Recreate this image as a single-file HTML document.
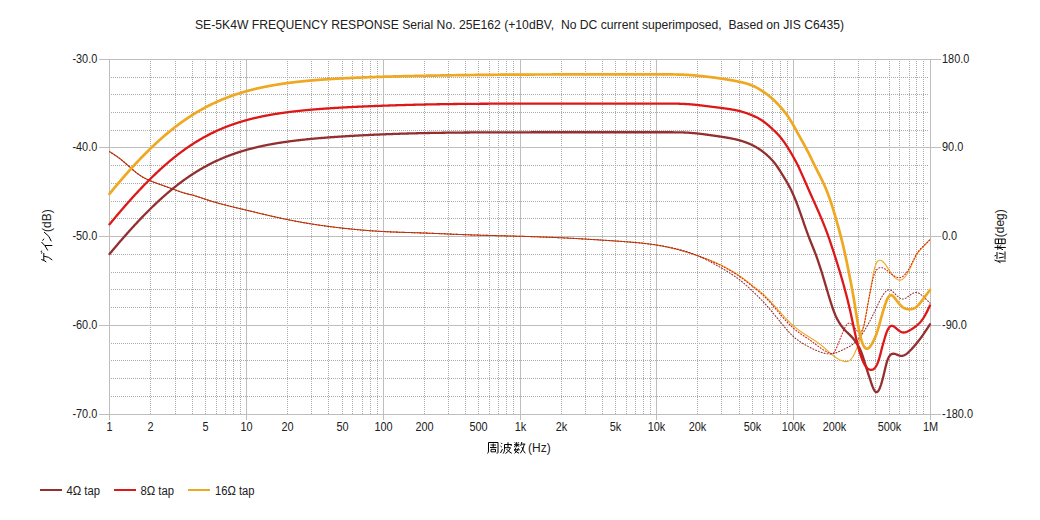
<!DOCTYPE html><html><head><meta charset="utf-8"><style>
html,body{margin:0;padding:0;background:#fff;width:1040px;height:520px;overflow:hidden}
svg{display:block}
text{font-family:"Liberation Sans",sans-serif;font-size:12px;fill:#202020}
</style></head><body>
<svg width="1040" height="520" viewBox="0 0 1040 520">
<rect width="1040" height="520" fill="#fff"/>
<g shape-rendering="crispEdges" stroke-width="1"><line x1="150.5" y1="61" x2="150.5" y2="414" stroke="#ababab" stroke-dasharray="1,1"/><line x1="175.5" y1="61" x2="175.5" y2="414" stroke="#ababab" stroke-dasharray="1,1"/><line x1="192.5" y1="61" x2="192.5" y2="414" stroke="#ababab" stroke-dasharray="1,1"/><line x1="205.5" y1="61" x2="205.5" y2="414" stroke="#ababab" stroke-dasharray="1,1"/><line x1="216.5" y1="61" x2="216.5" y2="414" stroke="#ababab" stroke-dasharray="1,1"/><line x1="225.5" y1="61" x2="225.5" y2="414" stroke="#ababab" stroke-dasharray="1,1"/><line x1="233.5" y1="61" x2="233.5" y2="414" stroke="#ababab" stroke-dasharray="1,1"/><line x1="240.5" y1="61" x2="240.5" y2="414" stroke="#ababab" stroke-dasharray="1,1"/><line x1="287.5" y1="61" x2="287.5" y2="414" stroke="#ababab" stroke-dasharray="1,1"/><line x1="311.5" y1="61" x2="311.5" y2="414" stroke="#ababab" stroke-dasharray="1,1"/><line x1="328.5" y1="61" x2="328.5" y2="414" stroke="#ababab" stroke-dasharray="1,1"/><line x1="342.5" y1="61" x2="342.5" y2="414" stroke="#ababab" stroke-dasharray="1,1"/><line x1="352.5" y1="61" x2="352.5" y2="414" stroke="#ababab" stroke-dasharray="1,1"/><line x1="362.5" y1="61" x2="362.5" y2="414" stroke="#ababab" stroke-dasharray="1,1"/><line x1="370.5" y1="61" x2="370.5" y2="414" stroke="#ababab" stroke-dasharray="1,1"/><line x1="377.5" y1="61" x2="377.5" y2="414" stroke="#ababab" stroke-dasharray="1,1"/><line x1="424.5" y1="61" x2="424.5" y2="414" stroke="#ababab" stroke-dasharray="1,1"/><line x1="448.5" y1="61" x2="448.5" y2="414" stroke="#ababab" stroke-dasharray="1,1"/><line x1="465.5" y1="61" x2="465.5" y2="414" stroke="#ababab" stroke-dasharray="1,1"/><line x1="478.5" y1="61" x2="478.5" y2="414" stroke="#ababab" stroke-dasharray="1,1"/><line x1="489.5" y1="61" x2="489.5" y2="414" stroke="#ababab" stroke-dasharray="1,1"/><line x1="498.5" y1="61" x2="498.5" y2="414" stroke="#ababab" stroke-dasharray="1,1"/><line x1="506.5" y1="61" x2="506.5" y2="414" stroke="#ababab" stroke-dasharray="1,1"/><line x1="513.5" y1="61" x2="513.5" y2="414" stroke="#ababab" stroke-dasharray="1,1"/><line x1="561.5" y1="61" x2="561.5" y2="414" stroke="#ababab" stroke-dasharray="1,1"/><line x1="585.5" y1="61" x2="585.5" y2="414" stroke="#ababab" stroke-dasharray="1,1"/><line x1="602.5" y1="61" x2="602.5" y2="414" stroke="#ababab" stroke-dasharray="1,1"/><line x1="615.5" y1="61" x2="615.5" y2="414" stroke="#ababab" stroke-dasharray="1,1"/><line x1="626.5" y1="61" x2="626.5" y2="414" stroke="#ababab" stroke-dasharray="1,1"/><line x1="635.5" y1="61" x2="635.5" y2="414" stroke="#ababab" stroke-dasharray="1,1"/><line x1="643.5" y1="61" x2="643.5" y2="414" stroke="#ababab" stroke-dasharray="1,1"/><line x1="650.5" y1="61" x2="650.5" y2="414" stroke="#ababab" stroke-dasharray="1,1"/><line x1="697.5" y1="61" x2="697.5" y2="414" stroke="#ababab" stroke-dasharray="1,1"/><line x1="721.5" y1="61" x2="721.5" y2="414" stroke="#ababab" stroke-dasharray="1,1"/><line x1="739.5" y1="61" x2="739.5" y2="414" stroke="#ababab" stroke-dasharray="1,1"/><line x1="752.5" y1="61" x2="752.5" y2="414" stroke="#ababab" stroke-dasharray="1,1"/><line x1="763.5" y1="61" x2="763.5" y2="414" stroke="#ababab" stroke-dasharray="1,1"/><line x1="772.5" y1="61" x2="772.5" y2="414" stroke="#ababab" stroke-dasharray="1,1"/><line x1="780.5" y1="61" x2="780.5" y2="414" stroke="#ababab" stroke-dasharray="1,1"/><line x1="787.5" y1="61" x2="787.5" y2="414" stroke="#ababab" stroke-dasharray="1,1"/><line x1="834.5" y1="61" x2="834.5" y2="414" stroke="#ababab" stroke-dasharray="1,1"/><line x1="858.5" y1="61" x2="858.5" y2="414" stroke="#ababab" stroke-dasharray="1,1"/><line x1="875.5" y1="61" x2="875.5" y2="414" stroke="#ababab" stroke-dasharray="1,1"/><line x1="889.5" y1="61" x2="889.5" y2="414" stroke="#ababab" stroke-dasharray="1,1"/><line x1="899.5" y1="61" x2="899.5" y2="414" stroke="#ababab" stroke-dasharray="1,1"/><line x1="909.5" y1="61" x2="909.5" y2="414" stroke="#ababab" stroke-dasharray="1,1"/><line x1="916.5" y1="61" x2="916.5" y2="414" stroke="#ababab" stroke-dasharray="1,1"/><line x1="923.5" y1="61" x2="923.5" y2="414" stroke="#ababab" stroke-dasharray="1,1"/><line x1="111" y1="396.5" x2="929" y2="396.5" stroke="#ababab" stroke-dasharray="1,1"/><line x1="111" y1="378.5" x2="929" y2="378.5" stroke="#ababab" stroke-dasharray="1,1"/><line x1="111" y1="360.5" x2="929" y2="360.5" stroke="#ababab" stroke-dasharray="1,1"/><line x1="111" y1="343.5" x2="929" y2="343.5" stroke="#ababab" stroke-dasharray="1,1"/><line x1="111" y1="307.5" x2="929" y2="307.5" stroke="#ababab" stroke-dasharray="1,1"/><line x1="111" y1="289.5" x2="929" y2="289.5" stroke="#ababab" stroke-dasharray="1,1"/><line x1="111" y1="272.5" x2="929" y2="272.5" stroke="#ababab" stroke-dasharray="1,1"/><line x1="111" y1="254.5" x2="929" y2="254.5" stroke="#ababab" stroke-dasharray="1,1"/><line x1="111" y1="218.5" x2="929" y2="218.5" stroke="#ababab" stroke-dasharray="1,1"/><line x1="111" y1="201.5" x2="929" y2="201.5" stroke="#ababab" stroke-dasharray="1,1"/><line x1="111" y1="183.5" x2="929" y2="183.5" stroke="#ababab" stroke-dasharray="1,1"/><line x1="111" y1="165.5" x2="929" y2="165.5" stroke="#ababab" stroke-dasharray="1,1"/><line x1="111" y1="130.5" x2="929" y2="130.5" stroke="#ababab" stroke-dasharray="1,1"/><line x1="111" y1="112.5" x2="929" y2="112.5" stroke="#ababab" stroke-dasharray="1,1"/><line x1="111" y1="94.5" x2="929" y2="94.5" stroke="#ababab" stroke-dasharray="1,1"/><line x1="111" y1="77.5" x2="929" y2="77.5" stroke="#ababab" stroke-dasharray="1,1"/></g>
<g shape-rendering="crispEdges" stroke-width="1"><line x1="109.5" y1="59" x2="109.5" y2="420" stroke="#bebebe"/><line x1="246.5" y1="59" x2="246.5" y2="420" stroke="#bebebe"/><line x1="383.5" y1="59" x2="383.5" y2="420" stroke="#bebebe"/><line x1="520.5" y1="59" x2="520.5" y2="420" stroke="#bebebe"/><line x1="656.5" y1="59" x2="656.5" y2="420" stroke="#bebebe"/><line x1="793.5" y1="59" x2="793.5" y2="420" stroke="#bebebe"/><line x1="930.5" y1="59" x2="930.5" y2="420" stroke="#bebebe"/><line x1="99" y1="414.5" x2="941" y2="414.5" stroke="#bebebe"/><line x1="99" y1="325.5" x2="941" y2="325.5" stroke="#bebebe"/><line x1="99" y1="236.5" x2="941" y2="236.5" stroke="#bebebe"/><line x1="99" y1="147.5" x2="941" y2="147.5" stroke="#bebebe"/><line x1="99" y1="59.5" x2="941" y2="59.5" stroke="#bebebe"/></g>
<text x="519.5" y="29" text-anchor="middle" style="white-space:pre" textLength="649" lengthAdjust="spacingAndGlyphs">SE-5K4W FREQUENCY RESPONSE Serial No. 25E162 (+10dBV,  No DC current superimposed,  Based on JIS C6435)</text><text x="97.3" y="418" text-anchor="end" textLength="24.88" lengthAdjust="spacingAndGlyphs">-70.0</text><text x="97.3" y="329" text-anchor="end" textLength="24.88" lengthAdjust="spacingAndGlyphs">-60.0</text><text x="97.3" y="240" text-anchor="end" textLength="24.88" lengthAdjust="spacingAndGlyphs">-50.0</text><text x="97.3" y="151" text-anchor="end" textLength="24.88" lengthAdjust="spacingAndGlyphs">-40.0</text><text x="97.3" y="63" text-anchor="end" textLength="24.88" lengthAdjust="spacingAndGlyphs">-30.0</text><text x="942" y="418" textLength="30.95" lengthAdjust="spacingAndGlyphs">-180.0</text><text x="942" y="329" textLength="24.88" lengthAdjust="spacingAndGlyphs">-90.0</text><text x="942" y="240" textLength="15.17" lengthAdjust="spacingAndGlyphs">0.0</text><text x="942" y="151" textLength="21.24" lengthAdjust="spacingAndGlyphs">90.0</text><text x="942" y="63" textLength="27.31" lengthAdjust="spacingAndGlyphs">180.0</text><text x="109.5" y="431" text-anchor="middle" textLength="6.07" lengthAdjust="spacingAndGlyphs">1</text><text x="150.5" y="431" text-anchor="middle" textLength="6.07" lengthAdjust="spacingAndGlyphs">2</text><text x="205.5" y="431" text-anchor="middle" textLength="6.07" lengthAdjust="spacingAndGlyphs">5</text><text x="246.5" y="431" text-anchor="middle" textLength="12.14" lengthAdjust="spacingAndGlyphs">10</text><text x="287.5" y="431" text-anchor="middle" textLength="12.14" lengthAdjust="spacingAndGlyphs">20</text><text x="342.5" y="431" text-anchor="middle" textLength="12.14" lengthAdjust="spacingAndGlyphs">50</text><text x="383.5" y="431" text-anchor="middle" textLength="18.21" lengthAdjust="spacingAndGlyphs">100</text><text x="424.5" y="431" text-anchor="middle" textLength="18.21" lengthAdjust="spacingAndGlyphs">200</text><text x="478.5" y="431" text-anchor="middle" textLength="18.21" lengthAdjust="spacingAndGlyphs">500</text><text x="520.5" y="431" text-anchor="middle" textLength="11.53" lengthAdjust="spacingAndGlyphs">1k</text><text x="561.5" y="431" text-anchor="middle" textLength="11.53" lengthAdjust="spacingAndGlyphs">2k</text><text x="615.5" y="431" text-anchor="middle" textLength="11.53" lengthAdjust="spacingAndGlyphs">5k</text><text x="656.5" y="431" text-anchor="middle" textLength="17.60" lengthAdjust="spacingAndGlyphs">10k</text><text x="697.5" y="431" text-anchor="middle" textLength="17.60" lengthAdjust="spacingAndGlyphs">20k</text><text x="752.5" y="431" text-anchor="middle" textLength="17.60" lengthAdjust="spacingAndGlyphs">50k</text><text x="793.5" y="431" text-anchor="middle" textLength="23.67" lengthAdjust="spacingAndGlyphs">100k</text><text x="834.5" y="431" text-anchor="middle" textLength="23.67" lengthAdjust="spacingAndGlyphs">200k</text><text x="889.5" y="431" text-anchor="middle" textLength="23.67" lengthAdjust="spacingAndGlyphs">500k</text><text x="930.5" y="431" text-anchor="middle" textLength="15.17" lengthAdjust="spacingAndGlyphs">1M</text>
<g fill="none" stroke-linejoin="round" stroke-linecap="round">
<path d="M109.5 151.63L110.0 151.95L110.5 152.26L111.0 152.58L111.5 152.89L112.0 153.21L112.5 153.53L113.0 153.85L113.5 154.18L114.0 154.50L114.5 154.83L115.0 155.16L115.5 155.50L116.0 155.84L116.5 156.18L117.0 156.53L117.5 156.88L118.0 157.24L118.5 157.61L119.0 157.97L119.5 158.35L120.0 158.73L120.5 159.12L121.0 159.51L121.5 159.92L122.0 160.32L122.5 160.74L123.0 161.15L123.5 161.58L124.0 162.00L124.5 162.44L125.0 162.87L125.5 163.31L126.0 163.75L126.5 164.19L127.0 164.63L127.5 165.08L128.0 165.52L128.5 165.97L129.0 166.41L129.5 166.86L130.0 167.30L130.5 167.75L131.0 168.19L131.5 168.63L132.0 169.07L132.5 169.50L133.0 169.93L133.5 170.36L134.0 170.78L134.5 171.20L135.0 171.61L135.5 172.02L136.0 172.42L136.5 172.82L137.0 173.20L137.5 173.58L138.0 173.95L138.5 174.32L139.0 174.67L139.5 175.02L140.0 175.36L140.5 175.69L141.0 176.02L141.5 176.34L142.0 176.64L142.5 176.95L143.0 177.24L143.5 177.53L144.0 177.81L144.5 178.08L145.0 178.34L145.5 178.60L146.0 178.85L146.5 179.10L147.0 179.34L147.5 179.57L148.0 179.80L148.5 180.02L149.0 180.24L149.5 180.46L150.0 180.67L150.5 180.88L151.0 181.08L151.5 181.29L152.0 181.49L152.5 181.68L153.0 181.88L153.5 182.07L154.0 182.26L154.5 182.45L155.0 182.64L155.5 182.83L156.0 183.01L156.5 183.19L157.0 183.38L157.5 183.56L158.0 183.74L158.5 183.92L159.0 184.09L159.5 184.27L160.0 184.45L160.5 184.63L161.0 184.80L161.5 184.98L162.0 185.16L162.5 185.33L163.0 185.51L163.5 185.68L164.0 185.86L164.5 186.04L165.0 186.21L165.5 186.39L166.0 186.57L166.5 186.74L167.0 186.92L167.5 187.10L168.0 187.28L168.5 187.45L169.0 187.63L169.5 187.81L170.0 187.99L170.5 188.18L171.0 188.36L171.5 188.54L172.0 188.73L172.5 188.91L173.0 189.10L173.5 189.29L174.0 189.47L174.5 189.66L175.0 189.85L175.5 190.03L176.0 190.22L176.5 190.41L177.0 190.59L177.5 190.78L178.0 190.96L178.5 191.14L179.0 191.32L179.5 191.49L180.0 191.67L180.5 191.84L181.0 192.01L181.5 192.18L182.0 192.34L182.5 192.50L183.0 192.66L183.5 192.81L184.0 192.96L184.5 193.10L185.0 193.24L185.5 193.38L186.0 193.51L186.5 193.63L187.0 193.76L187.5 193.88L188.0 194.00L188.5 194.12L189.0 194.24L189.5 194.36L190.0 194.48L190.5 194.60L191.0 194.72L191.5 194.85L192.0 194.98L192.5 195.11L193.0 195.24L193.5 195.38L194.0 195.53L194.5 195.67L195.0 195.82L195.5 195.97L196.0 196.13L196.5 196.29L197.0 196.44L197.5 196.61L198.0 196.77L198.5 196.93L199.0 197.10L199.5 197.27L200.0 197.44L200.5 197.60L201.0 197.77L201.5 197.94L202.0 198.11L202.5 198.29L203.0 198.46L203.5 198.62L204.0 198.79L204.5 198.96L205.0 199.13L205.5 199.29L206.0 199.46L206.5 199.62L207.0 199.78L207.5 199.95L208.0 200.11L208.5 200.26L209.0 200.42L209.5 200.58L210.0 200.73L210.5 200.89L211.0 201.04L211.5 201.19L212.0 201.34L212.5 201.49L213.0 201.64L213.5 201.79L214.0 201.94L214.5 202.08L215.0 202.23L215.5 202.37L216.0 202.51L216.5 202.66L217.0 202.80L217.5 202.94L218.0 203.08L218.5 203.22L219.0 203.35L219.5 203.49L220.0 203.63L220.5 203.76L221.0 203.90L221.5 204.03L222.0 204.17L222.5 204.30L223.0 204.43L223.5 204.56L224.0 204.69L224.5 204.82L225.0 204.95L225.5 205.08L226.0 205.21L226.5 205.34L227.0 205.47L227.5 205.59L228.0 205.72L228.5 205.84L229.0 205.97L229.5 206.09L230.0 206.22L230.5 206.34L231.0 206.47L231.5 206.59L232.0 206.71L232.5 206.84L233.0 206.96L233.5 207.08L234.0 207.20L234.5 207.32L235.0 207.44L235.5 207.56L236.0 207.68L236.5 207.80L237.0 207.92L237.5 208.04L238.0 208.16L238.5 208.28L239.0 208.40L239.5 208.52L240.0 208.64L240.5 208.76L241.0 208.88L241.5 209.00L242.0 209.12L242.5 209.23L243.0 209.35L243.5 209.47L244.0 209.59L244.5 209.71L245.0 209.83L245.5 209.95L246.0 210.07L246.5 210.19L247.0 210.31L247.5 210.43L248.0 210.54L248.5 210.66L249.0 210.78L249.5 210.90L250.0 211.02L250.5 211.14L251.0 211.26L251.5 211.38L252.0 211.50L252.5 211.62L253.0 211.74L253.5 211.86L254.0 211.98L254.5 212.10L255.0 212.22L255.5 212.34L256.0 212.46L256.5 212.58L257.0 212.70L257.5 212.82L258.0 212.94L258.5 213.06L259.0 213.18L259.5 213.30L260.0 213.42L260.5 213.54L261.0 213.66L261.5 213.77L262.0 213.89L262.5 214.01L263.0 214.13L263.5 214.25L264.0 214.37L264.5 214.48L265.0 214.60L265.5 214.72L266.0 214.84L266.5 214.95L267.0 215.07L267.5 215.19L268.0 215.30L268.5 215.42L269.0 215.54L269.5 215.65L270.0 215.77L270.5 215.88L271.0 216.00L271.5 216.11L272.0 216.23L272.5 216.34L273.0 216.46L273.5 216.57L274.0 216.68L274.5 216.80L275.0 216.91L275.5 217.02L276.0 217.13L276.5 217.24L277.0 217.36L277.5 217.47L278.0 217.58L278.5 217.69L279.0 217.80L279.5 217.91L280.0 218.02L280.5 218.12L281.0 218.23L281.5 218.34L282.0 218.45L282.5 218.56L283.0 218.66L283.5 218.77L284.0 218.87L284.5 218.98L285.0 219.08L285.5 219.19L286.0 219.29L286.5 219.39L287.0 219.50L287.5 219.60L288.0 219.70L288.5 219.80L289.0 219.90L289.5 220.00L290.0 220.10L290.5 220.20L291.0 220.30L291.5 220.40L292.0 220.50L292.5 220.59L293.0 220.69L293.5 220.79L294.0 220.88L294.5 220.98L295.0 221.07L295.5 221.17L296.0 221.26L296.5 221.35L297.0 221.45L297.5 221.54L298.0 221.63L298.5 221.72L299.0 221.81L299.5 221.90L300.0 221.99L300.5 222.08L301.0 222.17L301.5 222.26L302.0 222.35L302.5 222.44L303.0 222.52L303.5 222.61L304.0 222.70L304.5 222.78L305.0 222.87L305.5 222.95L306.0 223.04L306.5 223.12L307.0 223.21L307.5 223.29L308.0 223.37L308.5 223.45L309.0 223.54L309.5 223.62L310.0 223.70L310.5 223.78L311.0 223.86L311.5 223.94L312.0 224.02L312.5 224.10L313.0 224.18L313.5 224.25L314.0 224.33L314.5 224.41L315.0 224.49L315.5 224.56L316.0 224.64L316.5 224.71L317.0 224.79L317.5 224.86L318.0 224.94L318.5 225.01L319.0 225.08L319.5 225.16L320.0 225.23L320.5 225.30L321.0 225.37L321.5 225.45L322.0 225.52L322.5 225.59L323.0 225.66L323.5 225.73L324.0 225.80L324.5 225.87L325.0 225.94L325.5 226.00L326.0 226.07L326.5 226.14L327.0 226.21L327.5 226.27L328.0 226.34L328.5 226.41L329.0 226.47L329.5 226.54L330.0 226.60L330.5 226.67L331.0 226.73L331.5 226.80L332.0 226.86L332.5 226.92L333.0 226.99L333.5 227.05L334.0 227.11L334.5 227.17L335.0 227.23L335.5 227.29L336.0 227.35L336.5 227.42L337.0 227.48L337.5 227.54L338.0 227.59L338.5 227.65L339.0 227.71L339.5 227.77L340.0 227.83L340.5 227.89L341.0 227.94L341.5 228.00L342.0 228.06L342.5 228.11L343.0 228.17L343.5 228.23L344.0 228.28L344.5 228.34L345.0 228.39L345.5 228.45L346.0 228.50L346.5 228.55L347.0 228.61L347.5 228.66L348.0 228.71L348.5 228.76L349.0 228.82L349.5 228.87L350.0 228.92L350.5 228.97L351.0 229.02L351.5 229.07L352.0 229.12L352.5 229.17L353.0 229.22L353.5 229.27L354.0 229.32L354.5 229.37L355.0 229.41L355.5 229.46L356.0 229.51L356.5 229.56L357.0 229.60L357.5 229.65L358.0 229.69L358.5 229.74L359.0 229.79L359.5 229.83L360.0 229.87L360.5 229.92L361.0 229.96L361.5 230.01L362.0 230.05L362.5 230.09L363.0 230.13L363.5 230.17L364.0 230.22L364.5 230.26L365.0 230.30L365.5 230.34L366.0 230.38L366.5 230.42L367.0 230.46L367.5 230.50L368.0 230.53L368.5 230.57L369.0 230.61L369.5 230.65L370.0 230.68L370.5 230.72L371.0 230.76L371.5 230.79L372.0 230.83L372.5 230.86L373.0 230.90L373.5 230.93L374.0 230.97L374.5 231.00L375.0 231.03L375.5 231.07L376.0 231.10L376.5 231.13L377.0 231.16L377.5 231.19L378.0 231.22L378.5 231.25L379.0 231.28L379.5 231.31L380.0 231.34L380.5 231.37L381.0 231.40L381.5 231.43L382.0 231.46L382.5 231.48L383.0 231.51L383.5 231.54L384.0 231.56L384.5 231.59L385.0 231.61L385.5 231.64L386.0 231.66L386.5 231.69L387.0 231.71L387.5 231.74L388.0 231.76L388.5 231.78L389.0 231.80L389.5 231.83L390.0 231.85L390.5 231.87L391.0 231.89L391.5 231.91L392.0 231.93L392.5 231.95L393.0 231.97L393.5 231.99L394.0 232.01L394.5 232.03L395.0 232.05L395.5 232.07L396.0 232.09L396.5 232.11L397.0 232.13L397.5 232.14L398.0 232.16L398.5 232.18L399.0 232.20L399.5 232.22L400.0 232.23L400.5 232.25L401.0 232.27L401.5 232.28L402.0 232.30L402.5 232.32L403.0 232.33L403.5 232.35L404.0 232.37L404.5 232.38L405.0 232.40L405.5 232.41L406.0 232.43L406.5 232.45L407.0 232.46L407.5 232.48L408.0 232.49L408.5 232.51L409.0 232.52L409.5 232.54L410.0 232.56L410.5 232.57L411.0 232.59L411.5 232.60L412.0 232.62L412.5 232.63L413.0 232.65L413.5 232.66L414.0 232.68L414.5 232.70L415.0 232.71L415.5 232.73L416.0 232.74L416.5 232.76L417.0 232.78L417.5 232.79L418.0 232.81L418.5 232.82L419.0 232.84L419.5 232.86L420.0 232.87L420.5 232.89L421.0 232.91L421.5 232.92L422.0 232.94L422.5 232.96L423.0 232.98L423.5 232.99L424.0 233.01L424.5 233.03L425.0 233.05L425.5 233.07L426.0 233.09L426.5 233.10L427.0 233.12L427.5 233.14L428.0 233.16L428.5 233.18L429.0 233.20L429.5 233.22L430.0 233.24L430.5 233.26L431.0 233.28L431.5 233.30L432.0 233.32L432.5 233.34L433.0 233.36L433.5 233.38L434.0 233.40L434.5 233.42L435.0 233.44L435.5 233.47L436.0 233.49L436.5 233.51L437.0 233.53L437.5 233.55L438.0 233.57L438.5 233.59L439.0 233.61L439.5 233.64L440.0 233.66L440.5 233.68L441.0 233.70L441.5 233.72L442.0 233.74L442.5 233.77L443.0 233.79L443.5 233.81L444.0 233.83L444.5 233.85L445.0 233.87L445.5 233.90L446.0 233.92L446.5 233.94L447.0 233.96L447.5 233.98L448.0 234.00L448.5 234.02L449.0 234.05L449.5 234.07L450.0 234.09L450.5 234.11L451.0 234.13L451.5 234.15L452.0 234.17L452.5 234.19L453.0 234.22L453.5 234.24L454.0 234.26L454.5 234.28L455.0 234.30L455.5 234.32L456.0 234.34L456.5 234.36L457.0 234.38L457.5 234.40L458.0 234.42L458.5 234.44L459.0 234.46L459.5 234.48L460.0 234.50L460.5 234.52L461.0 234.54L461.5 234.56L462.0 234.57L462.5 234.59L463.0 234.61L463.5 234.63L464.0 234.65L464.5 234.67L465.0 234.68L465.5 234.70L466.0 234.72L466.5 234.74L467.0 234.75L467.5 234.77L468.0 234.79L468.5 234.81L469.0 234.82L469.5 234.84L470.0 234.86L470.5 234.87L471.0 234.89L471.5 234.91L472.0 234.92L472.5 234.94L473.0 234.96L473.5 234.97L474.0 234.99L474.5 235.00L475.0 235.02L475.5 235.04L476.0 235.05L476.5 235.07L477.0 235.08L477.5 235.10L478.0 235.11L478.5 235.13L479.0 235.14L479.5 235.16L480.0 235.17L480.5 235.19L481.0 235.20L481.5 235.22L482.0 235.23L482.5 235.25L483.0 235.26L483.5 235.28L484.0 235.29L484.5 235.30L485.0 235.32L485.5 235.33L486.0 235.35L486.5 235.36L487.0 235.37L487.5 235.39L488.0 235.40L488.5 235.42L489.0 235.43L489.5 235.44L490.0 235.46L490.5 235.47L491.0 235.48L491.5 235.50L492.0 235.51L492.5 235.53L493.0 235.54L493.5 235.55L494.0 235.57L494.5 235.58L495.0 235.59L495.5 235.61L496.0 235.62L496.5 235.63L497.0 235.65L497.5 235.66L498.0 235.67L498.5 235.69L499.0 235.70L499.5 235.71L500.0 235.72L500.5 235.74L501.0 235.75L501.5 235.76L502.0 235.78L502.5 235.79L503.0 235.80L503.5 235.82L504.0 235.83L504.5 235.84L505.0 235.86L505.5 235.87L506.0 235.88L506.5 235.90L507.0 235.91L507.5 235.92L508.0 235.94L508.5 235.95L509.0 235.96L509.5 235.98L510.0 235.99L510.5 236.00L511.0 236.02L511.5 236.03L512.0 236.04L512.5 236.06L513.0 236.07L513.5 236.08L514.0 236.10L514.5 236.11L515.0 236.12L515.5 236.14L516.0 236.15L516.5 236.17L517.0 236.18L517.5 236.19L518.0 236.21L518.5 236.22L519.0 236.24L519.5 236.25L520.0 236.26L520.5 236.28L521.0 236.29L521.5 236.31L522.0 236.32L522.5 236.34L523.0 236.35L523.5 236.37L524.0 236.38L524.5 236.40L525.0 236.41L525.5 236.43L526.0 236.44L526.5 236.46L527.0 236.47L527.5 236.49L528.0 236.50L528.5 236.52L529.0 236.53L529.5 236.55L530.0 236.56L530.5 236.58L531.0 236.60L531.5 236.61L532.0 236.63L532.5 236.64L533.0 236.66L533.5 236.68L534.0 236.69L534.5 236.71L535.0 236.73L535.5 236.74L536.0 236.76L536.5 236.78L537.0 236.79L537.5 236.81L538.0 236.83L538.5 236.84L539.0 236.86L539.5 236.88L540.0 236.90L540.5 236.92L541.0 236.93L541.5 236.95L542.0 236.97L542.5 236.99L543.0 237.01L543.5 237.03L544.0 237.04L544.5 237.06L545.0 237.08L545.5 237.10L546.0 237.12L546.5 237.14L547.0 237.16L547.5 237.18L548.0 237.20L548.5 237.22L549.0 237.24L549.5 237.26L550.0 237.28L550.5 237.30L551.0 237.32L551.5 237.34L552.0 237.36L552.5 237.38L553.0 237.40L553.5 237.42L554.0 237.45L554.5 237.47L555.0 237.49L555.5 237.51L556.0 237.53L556.5 237.56L557.0 237.58L557.5 237.60L558.0 237.62L558.5 237.65L559.0 237.67L559.5 237.69L560.0 237.72L560.5 237.74L561.0 237.76L561.5 237.79L562.0 237.81L562.5 237.84L563.0 237.86L563.5 237.88L564.0 237.91L564.5 237.93L565.0 237.96L565.5 237.98L566.0 238.01L566.5 238.03L567.0 238.06L567.5 238.09L568.0 238.11L568.5 238.14L569.0 238.16L569.5 238.19L570.0 238.22L570.5 238.24L571.0 238.27L571.5 238.30L572.0 238.33L572.5 238.35L573.0 238.38L573.5 238.41L574.0 238.44L574.5 238.46L575.0 238.49L575.5 238.52L576.0 238.55L576.5 238.58L577.0 238.60L577.5 238.63L578.0 238.66L578.5 238.69L579.0 238.72L579.5 238.75L580.0 238.78L580.5 238.81L581.0 238.83L581.5 238.86L582.0 238.89L582.5 238.92L583.0 238.95L583.5 238.98L584.0 239.01L584.5 239.04L585.0 239.07L585.5 239.10L586.0 239.13L586.5 239.16L587.0 239.19L587.5 239.22L588.0 239.25L588.5 239.28L589.0 239.32L589.5 239.35L590.0 239.38L590.5 239.41L591.0 239.44L591.5 239.47L592.0 239.50L592.5 239.53L593.0 239.56L593.5 239.60L594.0 239.63L594.5 239.66L595.0 239.69L595.5 239.72L596.0 239.75L596.5 239.78L597.0 239.82L597.5 239.85L598.0 239.88L598.5 239.91L599.0 239.94L599.5 239.98L600.0 240.01L600.5 240.04L601.0 240.07L601.5 240.10L602.0 240.14L602.5 240.17L603.0 240.20L603.5 240.23L604.0 240.26L604.5 240.30L605.0 240.33L605.5 240.36L606.0 240.39L606.5 240.43L607.0 240.46L607.5 240.49L608.0 240.52L608.5 240.56L609.0 240.59L609.5 240.62L610.0 240.65L610.5 240.69L611.0 240.72L611.5 240.75L612.0 240.78L612.5 240.82L613.0 240.85L613.5 240.88L614.0 240.91L614.5 240.95L615.0 240.98L615.5 241.01L616.0 241.04L616.5 241.08L617.0 241.11L617.5 241.14L618.0 241.17L618.5 241.21L619.0 241.24L619.5 241.27L620.0 241.30L620.5 241.34L621.0 241.37L621.5 241.40L622.0 241.44L622.5 241.47L623.0 241.51L623.5 241.54L624.0 241.57L624.5 241.61L625.0 241.64L625.5 241.68L626.0 241.71L626.5 241.75L627.0 241.79L627.5 241.82L628.0 241.86L628.5 241.90L629.0 241.93L629.5 241.97L630.0 242.01L630.5 242.05L631.0 242.09L631.5 242.13L632.0 242.17L632.5 242.21L633.0 242.25L633.5 242.29L634.0 242.34L634.5 242.38L635.0 242.42L635.5 242.47L636.0 242.51L636.5 242.56L637.0 242.60L637.5 242.65L638.0 242.70L638.5 242.74L639.0 242.79L639.5 242.84L640.0 242.89L640.5 242.94L641.0 242.99L641.5 243.05L642.0 243.10L642.5 243.15L643.0 243.21L643.5 243.26L644.0 243.32L644.5 243.38L645.0 243.43L645.5 243.49L646.0 243.55L646.5 243.61L647.0 243.68L647.5 243.74L648.0 243.80L648.5 243.87L649.0 243.93L649.5 244.00L650.0 244.07L650.5 244.14L651.0 244.21L651.5 244.28L652.0 244.35L652.5 244.42L653.0 244.50L653.5 244.57L654.0 244.65L654.5 244.73L655.0 244.80L655.5 244.88L656.0 244.97L656.5 245.05L657.0 245.13L657.5 245.22L658.0 245.30L658.5 245.39L659.0 245.48L659.5 245.57L660.0 245.66L660.5 245.75L661.0 245.84L661.5 245.94L662.0 246.03L662.5 246.13L663.0 246.23L663.5 246.33L664.0 246.43L664.5 246.53L665.0 246.63L665.5 246.74L666.0 246.84L666.5 246.95L667.0 247.06L667.5 247.16L668.0 247.27L668.5 247.38L669.0 247.50L669.5 247.61L670.0 247.72L670.5 247.84L671.0 247.96L671.5 248.07L672.0 248.19L672.5 248.31L673.0 248.43L673.5 248.55L674.0 248.68L674.5 248.80L675.0 248.93L675.5 249.05L676.0 249.18L676.5 249.31L677.0 249.44L677.5 249.57L678.0 249.70L678.5 249.83L679.0 249.97L679.5 250.10L680.0 250.24L680.5 250.38L681.0 250.51L681.5 250.65L682.0 250.79L682.5 250.93L683.0 251.08L683.5 251.22L684.0 251.36L684.5 251.51L685.0 251.65L685.5 251.80L686.0 251.95L686.5 252.10L687.0 252.25L687.5 252.40L688.0 252.55L688.5 252.71L689.0 252.86L689.5 253.01L690.0 253.17L690.5 253.33L691.0 253.49L691.5 253.64L692.0 253.80L692.5 253.97L693.0 254.13L693.5 254.29L694.0 254.45L694.5 254.62L695.0 254.78L695.5 254.95L696.0 255.12L696.5 255.29L697.0 255.45L697.5 255.62L698.0 255.80L698.5 255.97L699.0 256.14L699.5 256.31L700.0 256.49L700.5 256.67L701.0 256.84L701.5 257.02L702.0 257.20L702.5 257.38L703.0 257.56L703.5 257.75L704.0 257.93L704.5 258.11L705.0 258.30L705.5 258.49L706.0 258.68L706.5 258.87L707.0 259.06L707.5 259.25L708.0 259.45L708.5 259.65L709.0 259.84L709.5 260.04L710.0 260.24L710.5 260.45L711.0 260.65L711.5 260.85L712.0 261.06L712.5 261.27L713.0 261.48L713.5 261.69L714.0 261.91L714.5 262.12L715.0 262.34L715.5 262.56L716.0 262.78L716.5 263.00L717.0 263.23L717.5 263.45L718.0 263.68L718.5 263.91L719.0 264.15L719.5 264.38L720.0 264.62L720.5 264.85L721.0 265.09L721.5 265.34L722.0 265.58L722.5 265.83L723.0 266.08L723.5 266.33L724.0 266.58L724.5 266.84L725.0 267.09L725.5 267.35L726.0 267.62L726.5 267.88L727.0 268.15L727.5 268.42L728.0 268.69L728.5 268.96L729.0 269.24L729.5 269.52L730.0 269.80L730.5 270.09L731.0 270.38L731.5 270.67L732.0 270.96L732.5 271.26L733.0 271.56L733.5 271.86L734.0 272.17L734.5 272.48L735.0 272.79L735.5 273.11L736.0 273.42L736.5 273.75L737.0 274.07L737.5 274.40L738.0 274.73L738.5 275.07L739.0 275.41L739.5 275.75L740.0 276.10L740.5 276.45L741.0 276.81L741.5 277.16L742.0 277.53L742.5 277.89L743.0 278.26L743.5 278.63L744.0 279.00L744.5 279.38L745.0 279.75L745.5 280.13L746.0 280.51L746.5 280.90L747.0 281.28L747.5 281.67L748.0 282.05L748.5 282.44L749.0 282.83L749.5 283.22L750.0 283.61L750.5 284.00L751.0 284.39L751.5 284.78L752.0 285.17L752.5 285.56L753.0 285.95L753.5 286.34L754.0 286.73L754.5 287.12L755.0 287.51L755.5 287.90L756.0 288.29L756.5 288.68L757.0 289.08L757.5 289.48L758.0 289.88L758.5 290.28L759.0 290.69L759.5 291.10L760.0 291.51L760.5 291.93L761.0 292.35L761.5 292.77L762.0 293.20L762.5 293.64L763.0 294.08L763.5 294.52L764.0 294.97L764.5 295.43L765.0 295.89L765.5 296.36L766.0 296.84L766.5 297.33L767.0 297.82L767.5 298.32L768.0 298.82L768.5 299.34L769.0 299.85L769.5 300.38L770.0 300.91L770.5 301.44L771.0 301.98L771.5 302.53L772.0 303.08L772.5 303.63L773.0 304.18L773.5 304.74L774.0 305.30L774.5 305.86L775.0 306.43L775.5 306.99L776.0 307.56L776.5 308.13L777.0 308.70L777.5 309.27L778.0 309.83L778.5 310.40L779.0 310.97L779.5 311.53L780.0 312.10L780.5 312.66L781.0 313.21L781.5 313.77L782.0 314.32L782.5 314.87L783.0 315.42L783.5 315.96L784.0 316.50L784.5 317.04L785.0 317.57L785.5 318.10L786.0 318.63L786.5 319.15L787.0 319.66L787.5 320.17L788.0 320.68L788.5 321.18L789.0 321.67L789.5 322.16L790.0 322.65L790.5 323.12L791.0 323.59L791.5 324.06L792.0 324.52L792.5 324.97L793.0 325.41L793.5 325.85L794.0 326.28L794.5 326.71L795.0 327.12L795.5 327.53L796.0 327.94L796.5 328.34L797.0 328.73L797.5 329.11L798.0 329.50L798.5 329.87L799.0 330.24L799.5 330.61L800.0 330.97L800.5 331.33L801.0 331.68L801.5 332.03L802.0 332.38L802.5 332.72L803.0 333.06L803.5 333.39L804.0 333.72L804.5 334.05L805.0 334.38L805.5 334.70L806.0 335.03L806.5 335.35L807.0 335.67L807.5 335.98L808.0 336.30L808.5 336.61L809.0 336.93L809.5 337.24L810.0 337.55L810.5 337.87L811.0 338.18L811.5 338.49L812.0 338.80L812.5 339.12L813.0 339.43L813.5 339.75L814.0 340.06L814.5 340.38L815.0 340.71L815.5 341.03L816.0 341.36L816.5 341.70L817.0 342.04L817.5 342.39L818.0 342.74L818.5 343.10L819.0 343.47L819.5 343.85L820.0 344.23L820.5 344.62L821.0 345.03L821.5 345.44L822.0 345.85L822.5 346.28L823.0 346.71L823.5 347.14L824.0 347.58L824.5 348.02L825.0 348.47L825.5 348.91L826.0 349.36L826.5 349.81L827.0 350.26L827.5 350.71L828.0 351.16L828.5 351.60L829.0 352.05L829.5 352.49L830.0 352.92L830.5 353.35L831.0 353.77L831.5 354.19L832.0 354.60L832.5 355.01L833.0 355.40L833.5 355.79L834.0 356.17L834.5 356.54L835.0 356.90L835.5 357.25L836.0 357.59L836.5 357.92L837.0 358.24L837.5 358.55L838.0 358.85L838.5 359.13L839.0 359.40L839.5 359.66L840.0 359.90L840.5 360.14L841.0 360.35L841.5 360.56L842.0 360.74L842.5 360.92L843.0 361.07L843.5 361.21L844.0 361.34L844.5 361.44L845.0 361.53L845.5 361.58L846.0 361.61L846.5 361.60L847.0 361.55L847.5 361.46L848.0 361.32L848.5 361.13L849.0 360.88L849.5 360.58L850.0 360.21L850.5 359.77L851.0 359.26L851.5 358.68L852.0 358.02L852.5 357.30L853.0 356.50L853.5 355.63L854.0 354.69L854.5 353.69L855.0 352.62L855.5 351.48L856.0 350.28L856.5 349.01L857.0 347.68L857.5 346.30L858.0 344.86L858.5 343.37L859.0 341.84L859.5 340.29L860.0 338.71L860.5 337.11L861.0 335.50L861.5 333.89L862.0 332.27L862.5 330.62L863.0 328.88L863.5 327.02L864.0 325.00L864.5 322.77L865.0 320.29L865.5 317.62L866.0 314.82L866.5 311.95L867.0 309.09L867.5 306.29L868.0 303.54L868.5 300.80L869.0 298.07L869.5 295.32L870.0 292.54L870.5 289.70L871.0 286.79L871.5 283.83L872.0 280.87L872.5 277.98L873.0 275.22L873.5 272.67L874.0 270.38L874.5 268.38L875.0 266.67L875.5 265.20L876.0 263.98L876.5 262.96L877.0 262.14L877.5 261.50L878.0 261.01L878.5 260.65L879.0 260.40L879.5 260.26L880.0 260.22L880.5 260.27L881.0 260.41L881.5 260.64L882.0 260.94L882.5 261.31L883.0 261.74L883.5 262.24L884.0 262.79L884.5 263.38L885.0 264.02L885.5 264.69L886.0 265.39L886.5 266.11L887.0 266.85L887.5 267.61L888.0 268.37L888.5 269.12L889.0 269.88L889.5 270.63L890.0 271.37L890.5 272.09L891.0 272.81L891.5 273.50L892.0 274.18L892.5 274.83L893.0 275.45L893.5 276.05L894.0 276.62L894.5 277.16L895.0 277.66L895.5 278.12L896.0 278.54L896.5 278.92L897.0 279.25L897.5 279.54L898.0 279.77L898.5 279.95L899.0 280.07L899.5 280.14L900.0 280.14L900.5 280.08L901.0 279.95L901.5 279.76L902.0 279.51L902.5 279.19L903.0 278.82L903.5 278.39L904.0 277.91L904.5 277.37L905.0 276.79L905.5 276.15L906.0 275.47L906.5 274.74L907.0 273.96L907.5 273.15L908.0 272.29L908.5 271.40L909.0 270.47L909.5 269.50L910.0 268.50L910.5 267.48L911.0 266.43L911.5 265.37L912.0 264.30L912.5 263.23L913.0 262.15L913.5 261.09L914.0 260.04L914.5 259.02L915.0 258.02L915.5 257.05L916.0 256.12L916.5 255.23L917.0 254.39L917.5 253.60L918.0 252.86L918.5 252.15L919.0 251.47L919.5 250.83L920.0 250.22L920.5 249.63L921.0 249.06L921.5 248.51L922.0 247.98L922.5 247.45L923.0 246.93L923.5 246.41L924.0 245.89L924.5 245.37L925.0 244.85L925.5 244.33L926.0 243.80L926.5 243.28L927.0 242.76L927.5 242.23L928.0 241.71L928.5 241.18L929.0 240.65L929.5 240.13L930.0 239.60" stroke="#eea822" stroke-width="1.1"/>
<path d="M109.5 151.63L110.0 151.95L110.5 152.26L111.0 152.58L111.5 152.89L112.0 153.21L112.5 153.53L113.0 153.85L113.5 154.18L114.0 154.50L114.5 154.83L115.0 155.16L115.5 155.50L116.0 155.84L116.5 156.18L117.0 156.53L117.5 156.88L118.0 157.24L118.5 157.61L119.0 157.97L119.5 158.35L120.0 158.73L120.5 159.12L121.0 159.51L121.5 159.92L122.0 160.32L122.5 160.74L123.0 161.15L123.5 161.58L124.0 162.00L124.5 162.44L125.0 162.87L125.5 163.31L126.0 163.75L126.5 164.19L127.0 164.63L127.5 165.08L128.0 165.52L128.5 165.97L129.0 166.41L129.5 166.86L130.0 167.30L130.5 167.75L131.0 168.19L131.5 168.63L132.0 169.07L132.5 169.50L133.0 169.93L133.5 170.36L134.0 170.78L134.5 171.20L135.0 171.61L135.5 172.02L136.0 172.42L136.5 172.82L137.0 173.20L137.5 173.58L138.0 173.95L138.5 174.32L139.0 174.67L139.5 175.02L140.0 175.36L140.5 175.69L141.0 176.02L141.5 176.34L142.0 176.64L142.5 176.95L143.0 177.24L143.5 177.53L144.0 177.81L144.5 178.08L145.0 178.34L145.5 178.60L146.0 178.85L146.5 179.10L147.0 179.34L147.5 179.57L148.0 179.80L148.5 180.02L149.0 180.24L149.5 180.46L150.0 180.67L150.5 180.88L151.0 181.08L151.5 181.29L152.0 181.49L152.5 181.68L153.0 181.88L153.5 182.07L154.0 182.26L154.5 182.45L155.0 182.64L155.5 182.83L156.0 183.01L156.5 183.19L157.0 183.38L157.5 183.56L158.0 183.74L158.5 183.92L159.0 184.09L159.5 184.27L160.0 184.45L160.5 184.63L161.0 184.80L161.5 184.98L162.0 185.16L162.5 185.33L163.0 185.51L163.5 185.68L164.0 185.86L164.5 186.04L165.0 186.21L165.5 186.39L166.0 186.57L166.5 186.74L167.0 186.92L167.5 187.10L168.0 187.28L168.5 187.45L169.0 187.63L169.5 187.81L170.0 187.99L170.5 188.18L171.0 188.36L171.5 188.54L172.0 188.73L172.5 188.91L173.0 189.10L173.5 189.29L174.0 189.47L174.5 189.66L175.0 189.85L175.5 190.03L176.0 190.22L176.5 190.41L177.0 190.59L177.5 190.78L178.0 190.96L178.5 191.14L179.0 191.32L179.5 191.49L180.0 191.67L180.5 191.84L181.0 192.01L181.5 192.18L182.0 192.34L182.5 192.50L183.0 192.66L183.5 192.81L184.0 192.96L184.5 193.10L185.0 193.24L185.5 193.38L186.0 193.51L186.5 193.63L187.0 193.76L187.5 193.88L188.0 194.00L188.5 194.12L189.0 194.24L189.5 194.36L190.0 194.48L190.5 194.60L191.0 194.72L191.5 194.85L192.0 194.98L192.5 195.11L193.0 195.24L193.5 195.38L194.0 195.53L194.5 195.67L195.0 195.82L195.5 195.97L196.0 196.13L196.5 196.29L197.0 196.44L197.5 196.61L198.0 196.77L198.5 196.93L199.0 197.10L199.5 197.27L200.0 197.44L200.5 197.60L201.0 197.77L201.5 197.94L202.0 198.11L202.5 198.29L203.0 198.46L203.5 198.62L204.0 198.79L204.5 198.96L205.0 199.13L205.5 199.29L206.0 199.46L206.5 199.62L207.0 199.78L207.5 199.95L208.0 200.11L208.5 200.26L209.0 200.42L209.5 200.58L210.0 200.73L210.5 200.89L211.0 201.04L211.5 201.19L212.0 201.34L212.5 201.49L213.0 201.64L213.5 201.79L214.0 201.94L214.5 202.08L215.0 202.23L215.5 202.37L216.0 202.51L216.5 202.66L217.0 202.80L217.5 202.94L218.0 203.08L218.5 203.22L219.0 203.35L219.5 203.49L220.0 203.63L220.5 203.76L221.0 203.90L221.5 204.03L222.0 204.17L222.5 204.30L223.0 204.43L223.5 204.56L224.0 204.69L224.5 204.82L225.0 204.95L225.5 205.08L226.0 205.21L226.5 205.34L227.0 205.47L227.5 205.59L228.0 205.72L228.5 205.84L229.0 205.97L229.5 206.09L230.0 206.22L230.5 206.34L231.0 206.47L231.5 206.59L232.0 206.71L232.5 206.84L233.0 206.96L233.5 207.08L234.0 207.20L234.5 207.32L235.0 207.44L235.5 207.56L236.0 207.68L236.5 207.80L237.0 207.92L237.5 208.04L238.0 208.16L238.5 208.28L239.0 208.40L239.5 208.52L240.0 208.64L240.5 208.76L241.0 208.88L241.5 209.00L242.0 209.12L242.5 209.23L243.0 209.35L243.5 209.47L244.0 209.59L244.5 209.71L245.0 209.83L245.5 209.95L246.0 210.07L246.5 210.19L247.0 210.31L247.5 210.43L248.0 210.54L248.5 210.66L249.0 210.78L249.5 210.90L250.0 211.02L250.5 211.14L251.0 211.26L251.5 211.38L252.0 211.50L252.5 211.62L253.0 211.74L253.5 211.86L254.0 211.98L254.5 212.10L255.0 212.22L255.5 212.34L256.0 212.46L256.5 212.58L257.0 212.70L257.5 212.82L258.0 212.94L258.5 213.06L259.0 213.18L259.5 213.30L260.0 213.42L260.5 213.54L261.0 213.66L261.5 213.77L262.0 213.89L262.5 214.01L263.0 214.13L263.5 214.25L264.0 214.37L264.5 214.48L265.0 214.60L265.5 214.72L266.0 214.84L266.5 214.95L267.0 215.07L267.5 215.19L268.0 215.30L268.5 215.42L269.0 215.54L269.5 215.65L270.0 215.77L270.5 215.88L271.0 216.00L271.5 216.11L272.0 216.23L272.5 216.34L273.0 216.46L273.5 216.57L274.0 216.68L274.5 216.80L275.0 216.91L275.5 217.02L276.0 217.13L276.5 217.24L277.0 217.36L277.5 217.47L278.0 217.58L278.5 217.69L279.0 217.80L279.5 217.91L280.0 218.02L280.5 218.12L281.0 218.23L281.5 218.34L282.0 218.45L282.5 218.56L283.0 218.66L283.5 218.77L284.0 218.87L284.5 218.98L285.0 219.08L285.5 219.19L286.0 219.29L286.5 219.39L287.0 219.50L287.5 219.60L288.0 219.70L288.5 219.80L289.0 219.90L289.5 220.00L290.0 220.10L290.5 220.20L291.0 220.30L291.5 220.40L292.0 220.50L292.5 220.59L293.0 220.69L293.5 220.79L294.0 220.88L294.5 220.98L295.0 221.07L295.5 221.17L296.0 221.26L296.5 221.35L297.0 221.45L297.5 221.54L298.0 221.63L298.5 221.72L299.0 221.81L299.5 221.90L300.0 221.99L300.5 222.08L301.0 222.17L301.5 222.26L302.0 222.35L302.5 222.44L303.0 222.52L303.5 222.61L304.0 222.70L304.5 222.78L305.0 222.87L305.5 222.95L306.0 223.04L306.5 223.12L307.0 223.21L307.5 223.29L308.0 223.37L308.5 223.45L309.0 223.54L309.5 223.62L310.0 223.70L310.5 223.78L311.0 223.86L311.5 223.94L312.0 224.02L312.5 224.10L313.0 224.18L313.5 224.25L314.0 224.33L314.5 224.41L315.0 224.49L315.5 224.56L316.0 224.64L316.5 224.71L317.0 224.79L317.5 224.86L318.0 224.94L318.5 225.01L319.0 225.08L319.5 225.16L320.0 225.23L320.5 225.30L321.0 225.37L321.5 225.45L322.0 225.52L322.5 225.59L323.0 225.66L323.5 225.73L324.0 225.80L324.5 225.87L325.0 225.94L325.5 226.00L326.0 226.07L326.5 226.14L327.0 226.21L327.5 226.27L328.0 226.34L328.5 226.41L329.0 226.47L329.5 226.54L330.0 226.60L330.5 226.67L331.0 226.73L331.5 226.80L332.0 226.86L332.5 226.92L333.0 226.99L333.5 227.05L334.0 227.11L334.5 227.17L335.0 227.23L335.5 227.29L336.0 227.35L336.5 227.42L337.0 227.48L337.5 227.54L338.0 227.59L338.5 227.65L339.0 227.71L339.5 227.77L340.0 227.83L340.5 227.89L341.0 227.94L341.5 228.00L342.0 228.06L342.5 228.11L343.0 228.17L343.5 228.23L344.0 228.28L344.5 228.34L345.0 228.39L345.5 228.45L346.0 228.50L346.5 228.55L347.0 228.61L347.5 228.66L348.0 228.71L348.5 228.76L349.0 228.82L349.5 228.87L350.0 228.92L350.5 228.97L351.0 229.02L351.5 229.07L352.0 229.12L352.5 229.17L353.0 229.22L353.5 229.27L354.0 229.32L354.5 229.37L355.0 229.41L355.5 229.46L356.0 229.51L356.5 229.56L357.0 229.60L357.5 229.65L358.0 229.69L358.5 229.74L359.0 229.79L359.5 229.83L360.0 229.87L360.5 229.92L361.0 229.96L361.5 230.01L362.0 230.05L362.5 230.09L363.0 230.13L363.5 230.17L364.0 230.22L364.5 230.26L365.0 230.30L365.5 230.34L366.0 230.38L366.5 230.42L367.0 230.46L367.5 230.50L368.0 230.53L368.5 230.57L369.0 230.61L369.5 230.65L370.0 230.68L370.5 230.72L371.0 230.76L371.5 230.79L372.0 230.83L372.5 230.86L373.0 230.90L373.5 230.93L374.0 230.97L374.5 231.00L375.0 231.03L375.5 231.07L376.0 231.10L376.5 231.13L377.0 231.16L377.5 231.19L378.0 231.22L378.5 231.25L379.0 231.28L379.5 231.31L380.0 231.34L380.5 231.37L381.0 231.40L381.5 231.43L382.0 231.46L382.5 231.48L383.0 231.51L383.5 231.54L384.0 231.56L384.5 231.59L385.0 231.61L385.5 231.64L386.0 231.66L386.5 231.69L387.0 231.71L387.5 231.74L388.0 231.76L388.5 231.78L389.0 231.80L389.5 231.83L390.0 231.85L390.5 231.87L391.0 231.89L391.5 231.91L392.0 231.93L392.5 231.95L393.0 231.97L393.5 231.99L394.0 232.01L394.5 232.03L395.0 232.05L395.5 232.07L396.0 232.09L396.5 232.11L397.0 232.13L397.5 232.14L398.0 232.16L398.5 232.18L399.0 232.20L399.5 232.22L400.0 232.23L400.5 232.25L401.0 232.27L401.5 232.28L402.0 232.30L402.5 232.32L403.0 232.33L403.5 232.35L404.0 232.37L404.5 232.38L405.0 232.40L405.5 232.41L406.0 232.43L406.5 232.45L407.0 232.46L407.5 232.48L408.0 232.49L408.5 232.51L409.0 232.52L409.5 232.54L410.0 232.56L410.5 232.57L411.0 232.59L411.5 232.60L412.0 232.62L412.5 232.63L413.0 232.65L413.5 232.66L414.0 232.68L414.5 232.70L415.0 232.71L415.5 232.73L416.0 232.74L416.5 232.76L417.0 232.78L417.5 232.79L418.0 232.81L418.5 232.82L419.0 232.84L419.5 232.86L420.0 232.87L420.5 232.89L421.0 232.91L421.5 232.92L422.0 232.94L422.5 232.96L423.0 232.98L423.5 232.99L424.0 233.01L424.5 233.03L425.0 233.05L425.5 233.07L426.0 233.09L426.5 233.10L427.0 233.12L427.5 233.14L428.0 233.16L428.5 233.18L429.0 233.20L429.5 233.22L430.0 233.24L430.5 233.26L431.0 233.28L431.5 233.30L432.0 233.32L432.5 233.34L433.0 233.36L433.5 233.38L434.0 233.40L434.5 233.42L435.0 233.44L435.5 233.47L436.0 233.49L436.5 233.51L437.0 233.53L437.5 233.55L438.0 233.57L438.5 233.59L439.0 233.61L439.5 233.64L440.0 233.66L440.5 233.68L441.0 233.70L441.5 233.72L442.0 233.74L442.5 233.77L443.0 233.79L443.5 233.81L444.0 233.83L444.5 233.85L445.0 233.87L445.5 233.90L446.0 233.92L446.5 233.94L447.0 233.96L447.5 233.98L448.0 234.00L448.5 234.02L449.0 234.05L449.5 234.07L450.0 234.09L450.5 234.11L451.0 234.13L451.5 234.15L452.0 234.17L452.5 234.19L453.0 234.22L453.5 234.24L454.0 234.26L454.5 234.28L455.0 234.30L455.5 234.32L456.0 234.34L456.5 234.36L457.0 234.38L457.5 234.40L458.0 234.42L458.5 234.44L459.0 234.46L459.5 234.48L460.0 234.50L460.5 234.52L461.0 234.54L461.5 234.56L462.0 234.57L462.5 234.59L463.0 234.61L463.5 234.63L464.0 234.65L464.5 234.67L465.0 234.68L465.5 234.70L466.0 234.72L466.5 234.74L467.0 234.75L467.5 234.77L468.0 234.79L468.5 234.81L469.0 234.82L469.5 234.84L470.0 234.86L470.5 234.87L471.0 234.89L471.5 234.91L472.0 234.92L472.5 234.94L473.0 234.96L473.5 234.97L474.0 234.99L474.5 235.00L475.0 235.02L475.5 235.04L476.0 235.05L476.5 235.07L477.0 235.08L477.5 235.10L478.0 235.11L478.5 235.13L479.0 235.14L479.5 235.16L480.0 235.17L480.5 235.19L481.0 235.20L481.5 235.22L482.0 235.23L482.5 235.25L483.0 235.26L483.5 235.27L484.0 235.29L484.5 235.30L485.0 235.32L485.5 235.33L486.0 235.35L486.5 235.36L487.0 235.37L487.5 235.39L488.0 235.40L488.5 235.42L489.0 235.43L489.5 235.44L490.0 235.46L490.5 235.47L491.0 235.48L491.5 235.50L492.0 235.51L492.5 235.52L493.0 235.54L493.5 235.55L494.0 235.56L494.5 235.58L495.0 235.59L495.5 235.60L496.0 235.62L496.5 235.63L497.0 235.64L497.5 235.66L498.0 235.67L498.5 235.68L499.0 235.70L499.5 235.71L500.0 235.72L500.5 235.74L501.0 235.75L501.5 235.76L502.0 235.78L502.5 235.79L503.0 235.80L503.5 235.82L504.0 235.83L504.5 235.84L505.0 235.86L505.5 235.87L506.0 235.88L506.5 235.90L507.0 235.91L507.5 235.92L508.0 235.94L508.5 235.95L509.0 235.96L509.5 235.98L510.0 235.99L510.5 236.00L511.0 236.02L511.5 236.03L512.0 236.04L512.5 236.06L513.0 236.07L513.5 236.08L514.0 236.10L514.5 236.11L515.0 236.12L515.5 236.14L516.0 236.15L516.5 236.17L517.0 236.18L517.5 236.19L518.0 236.21L518.5 236.22L519.0 236.24L519.5 236.25L520.0 236.26L520.5 236.28L521.0 236.29L521.5 236.31L522.0 236.32L522.5 236.34L523.0 236.35L523.5 236.37L524.0 236.38L524.5 236.40L525.0 236.41L525.5 236.43L526.0 236.44L526.5 236.46L527.0 236.47L527.5 236.49L528.0 236.50L528.5 236.52L529.0 236.53L529.5 236.55L530.0 236.56L530.5 236.58L531.0 236.60L531.5 236.61L532.0 236.63L532.5 236.64L533.0 236.66L533.5 236.68L534.0 236.69L534.5 236.71L535.0 236.73L535.5 236.74L536.0 236.76L536.5 236.78L537.0 236.79L537.5 236.81L538.0 236.83L538.5 236.85L539.0 236.86L539.5 236.88L540.0 236.90L540.5 236.92L541.0 236.94L541.5 236.95L542.0 236.97L542.5 236.99L543.0 237.01L543.5 237.03L544.0 237.05L544.5 237.06L545.0 237.08L545.5 237.10L546.0 237.12L546.5 237.14L547.0 237.16L547.5 237.18L548.0 237.20L548.5 237.22L549.0 237.24L549.5 237.26L550.0 237.28L550.5 237.30L551.0 237.32L551.5 237.34L552.0 237.36L552.5 237.38L553.0 237.40L553.5 237.43L554.0 237.45L554.5 237.47L555.0 237.49L555.5 237.51L556.0 237.53L556.5 237.56L557.0 237.58L557.5 237.60L558.0 237.62L558.5 237.65L559.0 237.67L559.5 237.69L560.0 237.72L560.5 237.74L561.0 237.76L561.5 237.79L562.0 237.81L562.5 237.83L563.0 237.86L563.5 237.88L564.0 237.91L564.5 237.93L565.0 237.96L565.5 237.98L566.0 238.01L566.5 238.03L567.0 238.06L567.5 238.08L568.0 238.11L568.5 238.14L569.0 238.16L569.5 238.19L570.0 238.21L570.5 238.24L571.0 238.27L571.5 238.29L572.0 238.32L572.5 238.35L573.0 238.38L573.5 238.40L574.0 238.43L574.5 238.46L575.0 238.49L575.5 238.51L576.0 238.54L576.5 238.57L577.0 238.60L577.5 238.63L578.0 238.65L578.5 238.68L579.0 238.71L579.5 238.74L580.0 238.77L580.5 238.80L581.0 238.83L581.5 238.86L582.0 238.89L582.5 238.91L583.0 238.94L583.5 238.97L584.0 239.00L584.5 239.03L585.0 239.06L585.5 239.09L586.0 239.12L586.5 239.15L587.0 239.18L587.5 239.21L588.0 239.24L588.5 239.28L589.0 239.31L589.5 239.34L590.0 239.37L590.5 239.40L591.0 239.43L591.5 239.46L592.0 239.49L592.5 239.52L593.0 239.55L593.5 239.59L594.0 239.62L594.5 239.65L595.0 239.68L595.5 239.71L596.0 239.74L596.5 239.77L597.0 239.81L597.5 239.84L598.0 239.87L598.5 239.90L599.0 239.93L599.5 239.97L600.0 240.00L600.5 240.03L601.0 240.06L601.5 240.09L602.0 240.13L602.5 240.16L603.0 240.19L603.5 240.22L604.0 240.26L604.5 240.29L605.0 240.32L605.5 240.35L606.0 240.39L606.5 240.42L607.0 240.45L607.5 240.49L608.0 240.52L608.5 240.55L609.0 240.58L609.5 240.62L610.0 240.65L610.5 240.68L611.0 240.71L611.5 240.75L612.0 240.78L612.5 240.81L613.0 240.85L613.5 240.88L614.0 240.91L614.5 240.95L615.0 240.98L615.5 241.01L616.0 241.04L616.5 241.08L617.0 241.11L617.5 241.14L618.0 241.18L618.5 241.21L619.0 241.24L619.5 241.28L620.0 241.31L620.5 241.34L621.0 241.38L621.5 241.41L622.0 241.45L622.5 241.48L623.0 241.52L623.5 241.55L624.0 241.59L624.5 241.62L625.0 241.66L625.5 241.69L626.0 241.73L626.5 241.77L627.0 241.80L627.5 241.84L628.0 241.88L628.5 241.92L629.0 241.95L629.5 241.99L630.0 242.03L630.5 242.07L631.0 242.11L631.5 242.15L632.0 242.19L632.5 242.23L633.0 242.27L633.5 242.32L634.0 242.36L634.5 242.40L635.0 242.45L635.5 242.49L636.0 242.54L636.5 242.58L637.0 242.63L637.5 242.67L638.0 242.72L638.5 242.77L639.0 242.82L639.5 242.87L640.0 242.92L640.5 242.97L641.0 243.02L641.5 243.07L642.0 243.13L642.5 243.18L643.0 243.23L643.5 243.29L644.0 243.35L644.5 243.40L645.0 243.46L645.5 243.52L646.0 243.58L646.5 243.64L647.0 243.70L647.5 243.76L648.0 243.82L648.5 243.89L649.0 243.95L649.5 244.02L650.0 244.08L650.5 244.15L651.0 244.22L651.5 244.29L652.0 244.36L652.5 244.43L653.0 244.51L653.5 244.58L654.0 244.65L654.5 244.73L655.0 244.81L655.5 244.88L656.0 244.96L656.5 245.04L657.0 245.13L657.5 245.21L658.0 245.29L658.5 245.38L659.0 245.46L659.5 245.55L660.0 245.64L660.5 245.73L661.0 245.82L661.5 245.91L662.0 246.01L662.5 246.10L663.0 246.19L663.5 246.29L664.0 246.39L664.5 246.49L665.0 246.59L665.5 246.69L666.0 246.79L666.5 246.90L667.0 247.00L667.5 247.11L668.0 247.21L668.5 247.32L669.0 247.43L669.5 247.54L670.0 247.65L670.5 247.77L671.0 247.88L671.5 248.00L672.0 248.11L672.5 248.23L673.0 248.35L673.5 248.47L674.0 248.59L674.5 248.71L675.0 248.84L675.5 248.96L676.0 249.09L676.5 249.21L677.0 249.34L677.5 249.47L678.0 249.60L678.5 249.73L679.0 249.87L679.5 250.00L680.0 250.14L680.5 250.27L681.0 250.41L681.5 250.55L682.0 250.69L682.5 250.83L683.0 250.97L683.5 251.12L684.0 251.26L684.5 251.41L685.0 251.56L685.5 251.70L686.0 251.85L686.5 252.01L687.0 252.16L687.5 252.31L688.0 252.47L688.5 252.62L689.0 252.78L689.5 252.94L690.0 253.10L690.5 253.26L691.0 253.42L691.5 253.58L692.0 253.75L692.5 253.91L693.0 254.08L693.5 254.25L694.0 254.41L694.5 254.58L695.0 254.76L695.5 254.93L696.0 255.10L696.5 255.28L697.0 255.45L697.5 255.63L698.0 255.81L698.5 255.99L699.0 256.17L699.5 256.35L700.0 256.54L700.5 256.72L701.0 256.91L701.5 257.10L702.0 257.29L702.5 257.48L703.0 257.67L703.5 257.86L704.0 258.06L704.5 258.25L705.0 258.45L705.5 258.65L706.0 258.85L706.5 259.05L707.0 259.25L707.5 259.46L708.0 259.67L708.5 259.87L709.0 260.08L709.5 260.29L710.0 260.51L710.5 260.72L711.0 260.94L711.5 261.15L712.0 261.37L712.5 261.59L713.0 261.81L713.5 262.04L714.0 262.26L714.5 262.49L715.0 262.72L715.5 262.95L716.0 263.18L716.5 263.41L717.0 263.65L717.5 263.89L718.0 264.12L718.5 264.37L719.0 264.61L719.5 264.85L720.0 265.10L720.5 265.34L721.0 265.59L721.5 265.84L722.0 266.10L722.5 266.35L723.0 266.61L723.5 266.87L724.0 267.13L724.5 267.39L725.0 267.66L725.5 267.92L726.0 268.19L726.5 268.46L727.0 268.74L727.5 269.01L728.0 269.29L728.5 269.57L729.0 269.85L729.5 270.14L730.0 270.43L730.5 270.72L731.0 271.01L731.5 271.31L732.0 271.60L732.5 271.91L733.0 272.21L733.5 272.52L734.0 272.83L734.5 273.14L735.0 273.46L735.5 273.78L736.0 274.10L736.5 274.42L737.0 274.75L737.5 275.09L738.0 275.42L738.5 275.76L739.0 276.10L739.5 276.45L740.0 276.80L740.5 277.16L741.0 277.51L741.5 277.87L742.0 278.24L742.5 278.61L743.0 278.98L743.5 279.35L744.0 279.72L744.5 280.10L745.0 280.48L745.5 280.87L746.0 281.25L746.5 281.64L747.0 282.03L747.5 282.42L748.0 282.81L748.5 283.20L749.0 283.60L749.5 283.99L750.0 284.39L750.5 284.78L751.0 285.18L751.5 285.58L752.0 285.97L752.5 286.37L753.0 286.77L753.5 287.16L754.0 287.56L754.5 287.96L755.0 288.36L755.5 288.76L756.0 289.16L756.5 289.57L757.0 289.97L757.5 290.38L758.0 290.80L758.5 291.21L759.0 291.63L759.5 292.05L760.0 292.48L760.5 292.91L761.0 293.35L761.5 293.79L762.0 294.23L762.5 294.69L763.0 295.14L763.5 295.61L764.0 296.08L764.5 296.55L765.0 297.03L765.5 297.52L766.0 298.02L766.5 298.53L767.0 299.04L767.5 299.56L768.0 300.09L768.5 300.63L769.0 301.17L769.5 301.72L770.0 302.27L770.5 302.83L771.0 303.40L771.5 303.97L772.0 304.54L772.5 305.12L773.0 305.70L773.5 306.28L774.0 306.87L774.5 307.46L775.0 308.05L775.5 308.65L776.0 309.24L776.5 309.84L777.0 310.43L777.5 311.03L778.0 311.62L778.5 312.22L779.0 312.81L779.5 313.41L780.0 314.00L780.5 314.58L781.0 315.17L781.5 315.75L782.0 316.33L782.5 316.91L783.0 317.48L783.5 318.05L784.0 318.62L784.5 319.18L785.0 319.73L785.5 320.29L786.0 320.83L786.5 321.37L787.0 321.91L787.5 322.44L788.0 322.96L788.5 323.48L789.0 323.99L789.5 324.49L790.0 324.99L790.5 325.48L791.0 325.96L791.5 326.43L792.0 326.90L792.5 327.36L793.0 327.81L793.5 328.25L794.0 328.68L794.5 329.10L795.0 329.52L795.5 329.92L796.0 330.32L796.5 330.72L797.0 331.10L797.5 331.48L798.0 331.86L798.5 332.23L799.0 332.59L799.5 332.95L800.0 333.31L800.5 333.66L801.0 334.01L801.5 334.35L802.0 334.69L802.5 335.03L803.0 335.37L803.5 335.71L804.0 336.04L804.5 336.37L805.0 336.71L805.5 337.04L806.0 337.37L806.5 337.71L807.0 338.04L807.5 338.38L808.0 338.72L808.5 339.06L809.0 339.40L809.5 339.74L810.0 340.09L810.5 340.44L811.0 340.80L811.5 341.16L812.0 341.53L812.5 341.90L813.0 342.27L813.5 342.65L814.0 343.03L814.5 343.41L815.0 343.80L815.5 344.18L816.0 344.57L816.5 344.96L817.0 345.34L817.5 345.72L818.0 346.10L818.5 346.48L819.0 346.86L819.5 347.23L820.0 347.59L820.5 347.95L821.0 348.30L821.5 348.64L822.0 348.98L822.5 349.31L823.0 349.63L823.5 349.94L824.0 350.24L824.5 350.54L825.0 350.82L825.5 351.10L826.0 351.38L826.5 351.64L827.0 351.90L827.5 352.15L828.0 352.40L828.5 352.64L829.0 352.87L829.5 353.10L830.0 353.30L830.5 353.47L831.0 353.58L831.5 353.63L832.0 353.59L832.5 353.46L833.0 353.22L833.5 352.84L834.0 352.33L834.5 351.67L835.0 350.87L835.5 349.97L836.0 348.96L836.5 347.87L837.0 346.72L837.5 345.51L838.0 344.27L838.5 343.01L839.0 341.74L839.5 340.47L840.0 339.21L840.5 337.95L841.0 336.70L841.5 335.46L842.0 334.23L842.5 333.02L843.0 331.84L843.5 330.67L844.0 329.55L844.5 328.47L845.0 327.46L845.5 326.54L846.0 325.71L846.5 325.00L847.0 324.40L847.5 323.92L848.0 323.56L848.5 323.31L849.0 323.17L849.5 323.14L850.0 323.22L850.5 323.41L851.0 323.69L851.5 324.06L852.0 324.50L852.5 325.00L853.0 325.56L853.5 326.16L854.0 326.78L854.5 327.43L855.0 328.09L855.5 328.74L856.0 329.38L856.5 329.99L857.0 330.55L857.5 331.05L858.0 331.47L858.5 331.81L859.0 332.04L859.5 332.15L860.0 332.13L860.5 331.96L861.0 331.62L861.5 331.09L862.0 330.36L862.5 329.40L863.0 328.18L863.5 326.71L864.0 324.94L864.5 322.87L865.0 320.48L865.5 317.82L866.0 315.00L866.5 312.09L867.0 309.18L867.5 306.33L868.0 303.55L868.5 300.82L869.0 298.15L869.5 295.53L870.0 292.94L870.5 290.39L871.0 287.87L871.5 285.39L872.0 283.00L872.5 280.72L873.0 278.61L873.5 276.70L874.0 275.04L874.5 273.63L875.0 272.44L875.5 271.46L876.0 270.65L876.5 269.97L877.0 269.41L877.5 268.94L878.0 268.55L878.5 268.23L879.0 267.98L879.5 267.79L880.0 267.67L880.5 267.60L881.0 267.59L881.5 267.62L882.0 267.71L882.5 267.83L883.0 268.00L883.5 268.21L884.0 268.45L884.5 268.72L885.0 269.02L885.5 269.34L886.0 269.69L886.5 270.05L887.0 270.44L887.5 270.83L888.0 271.23L888.5 271.64L889.0 272.05L889.5 272.47L890.0 272.88L890.5 273.29L891.0 273.70L891.5 274.09L892.0 274.48L892.5 274.86L893.0 275.22L893.5 275.57L894.0 275.90L894.5 276.20L895.0 276.49L895.5 276.75L896.0 276.98L896.5 277.19L897.0 277.36L897.5 277.50L898.0 277.60L898.5 277.67L899.0 277.69L899.5 277.68L900.0 277.62L900.5 277.51L901.0 277.35L901.5 277.15L902.0 276.90L902.5 276.60L903.0 276.26L903.5 275.87L904.0 275.44L904.5 274.96L905.0 274.44L905.5 273.87L906.0 273.27L906.5 272.62L907.0 271.93L907.5 271.19L908.0 270.42L908.5 269.61L909.0 268.75L909.5 267.86L910.0 266.93L910.5 265.97L911.0 264.98L911.5 263.98L912.0 262.96L912.5 261.93L913.0 260.90L913.5 259.88L914.0 258.88L914.5 257.89L915.0 256.92L915.5 255.99L916.0 255.09L916.5 254.24L917.0 253.44L917.5 252.68L918.0 251.97L918.5 251.29L919.0 250.65L919.5 250.05L920.0 249.47L920.5 248.92L921.0 248.38L921.5 247.87L922.0 247.37L922.5 246.88L923.0 246.39L923.5 245.91L924.0 245.43L924.5 244.95L925.0 244.46L925.5 243.98L926.0 243.49L926.5 243.01L927.0 242.52L927.5 242.04L928.0 241.55L928.5 241.06L929.0 240.58L929.5 240.09L930.0 239.60" stroke="#dc1818" stroke-width="1.05" stroke-dasharray="1,2" stroke-dashoffset="1"/>
<path d="M109.5 151.63L110.0 151.95L110.5 152.26L111.0 152.58L111.5 152.89L112.0 153.21L112.5 153.53L113.0 153.85L113.5 154.18L114.0 154.50L114.5 154.83L115.0 155.16L115.5 155.50L116.0 155.84L116.5 156.18L117.0 156.53L117.5 156.88L118.0 157.24L118.5 157.61L119.0 157.97L119.5 158.35L120.0 158.73L120.5 159.12L121.0 159.51L121.5 159.92L122.0 160.32L122.5 160.74L123.0 161.15L123.5 161.58L124.0 162.00L124.5 162.44L125.0 162.87L125.5 163.31L126.0 163.75L126.5 164.19L127.0 164.63L127.5 165.08L128.0 165.52L128.5 165.97L129.0 166.41L129.5 166.86L130.0 167.30L130.5 167.75L131.0 168.19L131.5 168.63L132.0 169.07L132.5 169.50L133.0 169.93L133.5 170.36L134.0 170.78L134.5 171.20L135.0 171.61L135.5 172.02L136.0 172.42L136.5 172.82L137.0 173.20L137.5 173.58L138.0 173.95L138.5 174.32L139.0 174.67L139.5 175.02L140.0 175.36L140.5 175.69L141.0 176.02L141.5 176.34L142.0 176.64L142.5 176.95L143.0 177.24L143.5 177.53L144.0 177.81L144.5 178.08L145.0 178.34L145.5 178.60L146.0 178.85L146.5 179.10L147.0 179.34L147.5 179.57L148.0 179.80L148.5 180.02L149.0 180.24L149.5 180.46L150.0 180.67L150.5 180.88L151.0 181.08L151.5 181.29L152.0 181.49L152.5 181.68L153.0 181.88L153.5 182.07L154.0 182.26L154.5 182.45L155.0 182.64L155.5 182.83L156.0 183.01L156.5 183.19L157.0 183.38L157.5 183.56L158.0 183.74L158.5 183.92L159.0 184.09L159.5 184.27L160.0 184.45L160.5 184.63L161.0 184.80L161.5 184.98L162.0 185.16L162.5 185.33L163.0 185.51L163.5 185.68L164.0 185.86L164.5 186.04L165.0 186.21L165.5 186.39L166.0 186.57L166.5 186.74L167.0 186.92L167.5 187.10L168.0 187.28L168.5 187.45L169.0 187.63L169.5 187.81L170.0 187.99L170.5 188.18L171.0 188.36L171.5 188.54L172.0 188.73L172.5 188.91L173.0 189.10L173.5 189.29L174.0 189.47L174.5 189.66L175.0 189.85L175.5 190.03L176.0 190.22L176.5 190.41L177.0 190.59L177.5 190.78L178.0 190.96L178.5 191.14L179.0 191.32L179.5 191.49L180.0 191.67L180.5 191.84L181.0 192.01L181.5 192.18L182.0 192.34L182.5 192.50L183.0 192.66L183.5 192.81L184.0 192.96L184.5 193.10L185.0 193.24L185.5 193.38L186.0 193.51L186.5 193.63L187.0 193.76L187.5 193.88L188.0 194.00L188.5 194.12L189.0 194.24L189.5 194.36L190.0 194.48L190.5 194.60L191.0 194.72L191.5 194.85L192.0 194.98L192.5 195.11L193.0 195.24L193.5 195.38L194.0 195.53L194.5 195.67L195.0 195.82L195.5 195.97L196.0 196.13L196.5 196.29L197.0 196.44L197.5 196.61L198.0 196.77L198.5 196.93L199.0 197.10L199.5 197.27L200.0 197.44L200.5 197.60L201.0 197.77L201.5 197.94L202.0 198.11L202.5 198.29L203.0 198.46L203.5 198.62L204.0 198.79L204.5 198.96L205.0 199.13L205.5 199.29L206.0 199.46L206.5 199.62L207.0 199.78L207.5 199.95L208.0 200.11L208.5 200.26L209.0 200.42L209.5 200.58L210.0 200.73L210.5 200.89L211.0 201.04L211.5 201.19L212.0 201.34L212.5 201.49L213.0 201.64L213.5 201.79L214.0 201.94L214.5 202.08L215.0 202.23L215.5 202.37L216.0 202.51L216.5 202.66L217.0 202.80L217.5 202.94L218.0 203.08L218.5 203.22L219.0 203.35L219.5 203.49L220.0 203.63L220.5 203.76L221.0 203.90L221.5 204.03L222.0 204.17L222.5 204.30L223.0 204.43L223.5 204.56L224.0 204.69L224.5 204.82L225.0 204.95L225.5 205.08L226.0 205.21L226.5 205.34L227.0 205.47L227.5 205.59L228.0 205.72L228.5 205.84L229.0 205.97L229.5 206.09L230.0 206.22L230.5 206.34L231.0 206.47L231.5 206.59L232.0 206.71L232.5 206.84L233.0 206.96L233.5 207.08L234.0 207.20L234.5 207.32L235.0 207.44L235.5 207.56L236.0 207.68L236.5 207.80L237.0 207.92L237.5 208.04L238.0 208.16L238.5 208.28L239.0 208.40L239.5 208.52L240.0 208.64L240.5 208.76L241.0 208.88L241.5 209.00L242.0 209.12L242.5 209.23L243.0 209.35L243.5 209.47L244.0 209.59L244.5 209.71L245.0 209.83L245.5 209.95L246.0 210.07L246.5 210.19L247.0 210.31L247.5 210.43L248.0 210.54L248.5 210.66L249.0 210.78L249.5 210.90L250.0 211.02L250.5 211.14L251.0 211.26L251.5 211.38L252.0 211.50L252.5 211.62L253.0 211.74L253.5 211.86L254.0 211.98L254.5 212.10L255.0 212.22L255.5 212.34L256.0 212.46L256.5 212.58L257.0 212.70L257.5 212.82L258.0 212.94L258.5 213.06L259.0 213.18L259.5 213.30L260.0 213.42L260.5 213.54L261.0 213.66L261.5 213.77L262.0 213.89L262.5 214.01L263.0 214.13L263.5 214.25L264.0 214.37L264.5 214.48L265.0 214.60L265.5 214.72L266.0 214.84L266.5 214.95L267.0 215.07L267.5 215.19L268.0 215.30L268.5 215.42L269.0 215.54L269.5 215.65L270.0 215.77L270.5 215.88L271.0 216.00L271.5 216.11L272.0 216.23L272.5 216.34L273.0 216.46L273.5 216.57L274.0 216.68L274.5 216.80L275.0 216.91L275.5 217.02L276.0 217.13L276.5 217.24L277.0 217.36L277.5 217.47L278.0 217.58L278.5 217.69L279.0 217.80L279.5 217.91L280.0 218.02L280.5 218.12L281.0 218.23L281.5 218.34L282.0 218.45L282.5 218.56L283.0 218.66L283.5 218.77L284.0 218.87L284.5 218.98L285.0 219.08L285.5 219.19L286.0 219.29L286.5 219.39L287.0 219.50L287.5 219.60L288.0 219.70L288.5 219.80L289.0 219.90L289.5 220.00L290.0 220.10L290.5 220.20L291.0 220.30L291.5 220.40L292.0 220.50L292.5 220.59L293.0 220.69L293.5 220.79L294.0 220.88L294.5 220.98L295.0 221.07L295.5 221.17L296.0 221.26L296.5 221.35L297.0 221.45L297.5 221.54L298.0 221.63L298.5 221.72L299.0 221.81L299.5 221.90L300.0 221.99L300.5 222.08L301.0 222.17L301.5 222.26L302.0 222.35L302.5 222.44L303.0 222.52L303.5 222.61L304.0 222.70L304.5 222.78L305.0 222.87L305.5 222.95L306.0 223.04L306.5 223.12L307.0 223.21L307.5 223.29L308.0 223.37L308.5 223.45L309.0 223.54L309.5 223.62L310.0 223.70L310.5 223.78L311.0 223.86L311.5 223.94L312.0 224.02L312.5 224.10L313.0 224.18L313.5 224.25L314.0 224.33L314.5 224.41L315.0 224.49L315.5 224.56L316.0 224.64L316.5 224.71L317.0 224.79L317.5 224.86L318.0 224.94L318.5 225.01L319.0 225.08L319.5 225.16L320.0 225.23L320.5 225.30L321.0 225.37L321.5 225.45L322.0 225.52L322.5 225.59L323.0 225.66L323.5 225.73L324.0 225.80L324.5 225.87L325.0 225.94L325.5 226.00L326.0 226.07L326.5 226.14L327.0 226.21L327.5 226.27L328.0 226.34L328.5 226.41L329.0 226.47L329.5 226.54L330.0 226.60L330.5 226.67L331.0 226.73L331.5 226.80L332.0 226.86L332.5 226.92L333.0 226.99L333.5 227.05L334.0 227.11L334.5 227.17L335.0 227.23L335.5 227.29L336.0 227.35L336.5 227.42L337.0 227.48L337.5 227.54L338.0 227.59L338.5 227.65L339.0 227.71L339.5 227.77L340.0 227.83L340.5 227.89L341.0 227.94L341.5 228.00L342.0 228.06L342.5 228.11L343.0 228.17L343.5 228.23L344.0 228.28L344.5 228.34L345.0 228.39L345.5 228.45L346.0 228.50L346.5 228.55L347.0 228.61L347.5 228.66L348.0 228.71L348.5 228.76L349.0 228.82L349.5 228.87L350.0 228.92L350.5 228.97L351.0 229.02L351.5 229.07L352.0 229.12L352.5 229.17L353.0 229.22L353.5 229.27L354.0 229.32L354.5 229.37L355.0 229.41L355.5 229.46L356.0 229.51L356.5 229.56L357.0 229.60L357.5 229.65L358.0 229.70L358.5 229.74L359.0 229.79L359.5 229.83L360.0 229.87L360.5 229.92L361.0 229.96L361.5 230.01L362.0 230.05L362.5 230.09L363.0 230.13L363.5 230.18L364.0 230.22L364.5 230.26L365.0 230.30L365.5 230.34L366.0 230.38L366.5 230.42L367.0 230.46L367.5 230.50L368.0 230.53L368.5 230.57L369.0 230.61L369.5 230.65L370.0 230.68L370.5 230.72L371.0 230.76L371.5 230.79L372.0 230.83L372.5 230.86L373.0 230.90L373.5 230.93L374.0 230.97L374.5 231.00L375.0 231.03L375.5 231.07L376.0 231.10L376.5 231.13L377.0 231.16L377.5 231.19L378.0 231.22L378.5 231.25L379.0 231.28L379.5 231.31L380.0 231.34L380.5 231.37L381.0 231.40L381.5 231.43L382.0 231.46L382.5 231.48L383.0 231.51L383.5 231.54L384.0 231.56L384.5 231.59L385.0 231.61L385.5 231.64L386.0 231.66L386.5 231.69L387.0 231.71L387.5 231.74L388.0 231.76L388.5 231.78L389.0 231.80L389.5 231.83L390.0 231.85L390.5 231.87L391.0 231.89L391.5 231.91L392.0 231.93L392.5 231.95L393.0 231.97L393.5 231.99L394.0 232.01L394.5 232.03L395.0 232.05L395.5 232.07L396.0 232.09L396.5 232.11L397.0 232.13L397.5 232.14L398.0 232.16L398.5 232.18L399.0 232.20L399.5 232.22L400.0 232.23L400.5 232.25L401.0 232.27L401.5 232.28L402.0 232.30L402.5 232.32L403.0 232.33L403.5 232.35L404.0 232.37L404.5 232.38L405.0 232.40L405.5 232.41L406.0 232.43L406.5 232.45L407.0 232.46L407.5 232.48L408.0 232.49L408.5 232.51L409.0 232.52L409.5 232.54L410.0 232.56L410.5 232.57L411.0 232.59L411.5 232.60L412.0 232.62L412.5 232.63L413.0 232.65L413.5 232.66L414.0 232.68L414.5 232.70L415.0 232.71L415.5 232.73L416.0 232.74L416.5 232.76L417.0 232.78L417.5 232.79L418.0 232.81L418.5 232.82L419.0 232.84L419.5 232.86L420.0 232.87L420.5 232.89L421.0 232.91L421.5 232.92L422.0 232.94L422.5 232.96L423.0 232.98L423.5 232.99L424.0 233.01L424.5 233.03L425.0 233.05L425.5 233.07L426.0 233.09L426.5 233.11L427.0 233.12L427.5 233.14L428.0 233.16L428.5 233.18L429.0 233.20L429.5 233.22L430.0 233.24L430.5 233.26L431.0 233.28L431.5 233.30L432.0 233.32L432.5 233.34L433.0 233.36L433.5 233.38L434.0 233.40L434.5 233.42L435.0 233.45L435.5 233.47L436.0 233.49L436.5 233.51L437.0 233.53L437.5 233.55L438.0 233.57L438.5 233.59L439.0 233.61L439.5 233.64L440.0 233.66L440.5 233.68L441.0 233.70L441.5 233.72L442.0 233.74L442.5 233.77L443.0 233.79L443.5 233.81L444.0 233.83L444.5 233.85L445.0 233.87L445.5 233.90L446.0 233.92L446.5 233.94L447.0 233.96L447.5 233.98L448.0 234.00L448.5 234.02L449.0 234.05L449.5 234.07L450.0 234.09L450.5 234.11L451.0 234.13L451.5 234.15L452.0 234.17L452.5 234.19L453.0 234.22L453.5 234.24L454.0 234.26L454.5 234.28L455.0 234.30L455.5 234.32L456.0 234.34L456.5 234.36L457.0 234.38L457.5 234.40L458.0 234.42L458.5 234.44L459.0 234.46L459.5 234.48L460.0 234.50L460.5 234.52L461.0 234.54L461.5 234.56L462.0 234.57L462.5 234.59L463.0 234.61L463.5 234.63L464.0 234.65L464.5 234.67L465.0 234.68L465.5 234.70L466.0 234.72L466.5 234.74L467.0 234.75L467.5 234.77L468.0 234.79L468.5 234.81L469.0 234.82L469.5 234.84L470.0 234.86L470.5 234.87L471.0 234.89L471.5 234.91L472.0 234.92L472.5 234.94L473.0 234.95L473.5 234.97L474.0 234.99L474.5 235.00L475.0 235.02L475.5 235.03L476.0 235.05L476.5 235.06L477.0 235.08L477.5 235.09L478.0 235.11L478.5 235.13L479.0 235.14L479.5 235.16L480.0 235.17L480.5 235.18L481.0 235.20L481.5 235.21L482.0 235.23L482.5 235.24L483.0 235.26L483.5 235.27L484.0 235.29L484.5 235.30L485.0 235.31L485.5 235.33L486.0 235.34L486.5 235.36L487.0 235.37L487.5 235.38L488.0 235.40L488.5 235.41L489.0 235.43L489.5 235.44L490.0 235.45L490.5 235.47L491.0 235.48L491.5 235.49L492.0 235.51L492.5 235.52L493.0 235.53L493.5 235.55L494.0 235.56L494.5 235.57L495.0 235.59L495.5 235.60L496.0 235.61L496.5 235.63L497.0 235.64L497.5 235.65L498.0 235.67L498.5 235.68L499.0 235.69L499.5 235.71L500.0 235.72L500.5 235.73L501.0 235.75L501.5 235.76L502.0 235.77L502.5 235.79L503.0 235.80L503.5 235.81L504.0 235.83L504.5 235.84L505.0 235.85L505.5 235.87L506.0 235.88L506.5 235.89L507.0 235.91L507.5 235.92L508.0 235.93L508.5 235.95L509.0 235.96L509.5 235.97L510.0 235.99L510.5 236.00L511.0 236.01L511.5 236.03L512.0 236.04L512.5 236.05L513.0 236.07L513.5 236.08L514.0 236.10L514.5 236.11L515.0 236.12L515.5 236.14L516.0 236.15L516.5 236.16L517.0 236.18L517.5 236.19L518.0 236.21L518.5 236.22L519.0 236.24L519.5 236.25L520.0 236.26L520.5 236.28L521.0 236.29L521.5 236.31L522.0 236.32L522.5 236.34L523.0 236.35L523.5 236.37L524.0 236.38L524.5 236.40L525.0 236.41L525.5 236.43L526.0 236.44L526.5 236.46L527.0 236.47L527.5 236.49L528.0 236.51L528.5 236.52L529.0 236.54L529.5 236.55L530.0 236.57L530.5 236.58L531.0 236.60L531.5 236.62L532.0 236.63L532.5 236.65L533.0 236.67L533.5 236.68L534.0 236.70L534.5 236.72L535.0 236.73L535.5 236.75L536.0 236.77L536.5 236.78L537.0 236.80L537.5 236.82L538.0 236.84L538.5 236.85L539.0 236.87L539.5 236.89L540.0 236.91L540.5 236.93L541.0 236.94L541.5 236.96L542.0 236.98L542.5 237.00L543.0 237.02L543.5 237.03L544.0 237.05L544.5 237.07L545.0 237.09L545.5 237.11L546.0 237.13L546.5 237.15L547.0 237.17L547.5 237.19L548.0 237.21L548.5 237.23L549.0 237.25L549.5 237.27L550.0 237.29L550.5 237.31L551.0 237.33L551.5 237.35L552.0 237.37L552.5 237.39L553.0 237.41L553.5 237.43L554.0 237.45L554.5 237.47L555.0 237.49L555.5 237.52L556.0 237.54L556.5 237.56L557.0 237.58L557.5 237.60L558.0 237.63L558.5 237.65L559.0 237.67L559.5 237.69L560.0 237.72L560.5 237.74L561.0 237.76L561.5 237.79L562.0 237.81L562.5 237.83L563.0 237.86L563.5 237.88L564.0 237.90L564.5 237.93L565.0 237.95L565.5 237.98L566.0 238.00L566.5 238.02L567.0 238.05L567.5 238.07L568.0 238.10L568.5 238.12L569.0 238.15L569.5 238.17L570.0 238.20L570.5 238.23L571.0 238.25L571.5 238.28L572.0 238.30L572.5 238.33L573.0 238.36L573.5 238.38L574.0 238.41L574.5 238.44L575.0 238.46L575.5 238.49L576.0 238.52L576.5 238.54L577.0 238.57L577.5 238.60L578.0 238.63L578.5 238.65L579.0 238.68L579.5 238.71L580.0 238.74L580.5 238.77L581.0 238.79L581.5 238.82L582.0 238.85L582.5 238.88L583.0 238.91L583.5 238.94L584.0 238.97L584.5 239.00L585.0 239.03L585.5 239.05L586.0 239.08L586.5 239.11L587.0 239.14L587.5 239.17L588.0 239.20L588.5 239.23L589.0 239.26L589.5 239.29L590.0 239.32L590.5 239.35L591.0 239.39L591.5 239.42L592.0 239.45L592.5 239.48L593.0 239.51L593.5 239.54L594.0 239.57L594.5 239.60L595.0 239.63L595.5 239.67L596.0 239.70L596.5 239.73L597.0 239.76L597.5 239.79L598.0 239.83L598.5 239.86L599.0 239.89L599.5 239.92L600.0 239.96L600.5 239.99L601.0 240.02L601.5 240.05L602.0 240.09L602.5 240.12L603.0 240.15L603.5 240.19L604.0 240.22L604.5 240.25L605.0 240.29L605.5 240.32L606.0 240.36L606.5 240.39L607.0 240.42L607.5 240.46L608.0 240.49L608.5 240.53L609.0 240.56L609.5 240.59L610.0 240.63L610.5 240.66L611.0 240.70L611.5 240.73L612.0 240.77L612.5 240.80L613.0 240.84L613.5 240.87L614.0 240.91L614.5 240.94L615.0 240.98L615.5 241.01L616.0 241.05L616.5 241.09L617.0 241.12L617.5 241.16L618.0 241.19L618.5 241.23L619.0 241.27L619.5 241.30L620.0 241.34L620.5 241.38L621.0 241.41L621.5 241.45L622.0 241.49L622.5 241.53L623.0 241.56L623.5 241.60L624.0 241.64L624.5 241.68L625.0 241.72L625.5 241.76L626.0 241.80L626.5 241.83L627.0 241.87L627.5 241.91L628.0 241.96L628.5 242.00L629.0 242.04L629.5 242.08L630.0 242.12L630.5 242.16L631.0 242.20L631.5 242.25L632.0 242.29L632.5 242.33L633.0 242.38L633.5 242.42L634.0 242.47L634.5 242.51L635.0 242.56L635.5 242.60L636.0 242.65L636.5 242.70L637.0 242.74L637.5 242.79L638.0 242.84L638.5 242.89L639.0 242.94L639.5 242.99L640.0 243.04L640.5 243.09L641.0 243.14L641.5 243.19L642.0 243.24L642.5 243.30L643.0 243.35L643.5 243.40L644.0 243.46L644.5 243.51L645.0 243.57L645.5 243.62L646.0 243.68L646.5 243.74L647.0 243.80L647.5 243.86L648.0 243.92L648.5 243.98L649.0 244.04L649.5 244.10L650.0 244.16L650.5 244.22L651.0 244.29L651.5 244.35L652.0 244.41L652.5 244.48L653.0 244.55L653.5 244.61L654.0 244.68L654.5 244.75L655.0 244.82L655.5 244.89L656.0 244.96L656.5 245.03L657.0 245.10L657.5 245.18L658.0 245.25L658.5 245.33L659.0 245.40L659.5 245.48L660.0 245.56L660.5 245.64L661.0 245.72L661.5 245.80L662.0 245.88L662.5 245.96L663.0 246.04L663.5 246.13L664.0 246.22L664.5 246.30L665.0 246.39L665.5 246.48L666.0 246.57L666.5 246.66L667.0 246.76L667.5 246.85L668.0 246.95L668.5 247.04L669.0 247.14L669.5 247.24L670.0 247.34L670.5 247.45L671.0 247.55L671.5 247.65L672.0 247.76L672.5 247.87L673.0 247.98L673.5 248.09L674.0 248.20L674.5 248.32L675.0 248.43L675.5 248.55L676.0 248.67L676.5 248.79L677.0 248.91L677.5 249.04L678.0 249.16L678.5 249.29L679.0 249.42L679.5 249.55L680.0 249.69L680.5 249.82L681.0 249.96L681.5 250.10L682.0 250.24L682.5 250.38L683.0 250.53L683.5 250.67L684.0 250.82L684.5 250.97L685.0 251.12L685.5 251.28L686.0 251.43L686.5 251.59L687.0 251.75L687.5 251.92L688.0 252.08L688.5 252.25L689.0 252.42L689.5 252.59L690.0 252.77L690.5 252.94L691.0 253.12L691.5 253.30L692.0 253.48L692.5 253.67L693.0 253.86L693.5 254.05L694.0 254.24L694.5 254.44L695.0 254.63L695.5 254.83L696.0 255.04L696.5 255.24L697.0 255.45L697.5 255.66L698.0 255.87L698.5 256.09L699.0 256.31L699.5 256.53L700.0 256.75L700.5 256.98L701.0 257.21L701.5 257.44L702.0 257.67L702.5 257.90L703.0 258.14L703.5 258.38L704.0 258.62L704.5 258.86L705.0 259.11L705.5 259.36L706.0 259.61L706.5 259.86L707.0 260.11L707.5 260.36L708.0 260.62L708.5 260.88L709.0 261.14L709.5 261.40L710.0 261.66L710.5 261.93L711.0 262.20L711.5 262.46L712.0 262.73L712.5 263.00L713.0 263.28L713.5 263.55L714.0 263.82L714.5 264.10L715.0 264.38L715.5 264.66L716.0 264.94L716.5 265.22L717.0 265.50L717.5 265.78L718.0 266.06L718.5 266.35L719.0 266.63L719.5 266.92L720.0 267.20L720.5 267.49L721.0 267.78L721.5 268.07L722.0 268.36L722.5 268.65L723.0 268.94L723.5 269.23L724.0 269.52L724.5 269.82L725.0 270.11L725.5 270.41L726.0 270.71L726.5 271.01L727.0 271.31L727.5 271.62L728.0 271.92L728.5 272.23L729.0 272.54L729.5 272.85L730.0 273.17L730.5 273.48L731.0 273.80L731.5 274.13L732.0 274.45L732.5 274.78L733.0 275.11L733.5 275.45L734.0 275.78L734.5 276.12L735.0 276.47L735.5 276.82L736.0 277.17L736.5 277.53L737.0 277.89L737.5 278.25L738.0 278.62L738.5 278.99L739.0 279.37L739.5 279.75L740.0 280.14L740.5 280.53L741.0 280.92L741.5 281.32L742.0 281.73L742.5 282.14L743.0 282.55L743.5 282.97L744.0 283.39L744.5 283.81L745.0 284.24L745.5 284.68L746.0 285.11L746.5 285.55L747.0 285.99L747.5 286.44L748.0 286.89L748.5 287.34L749.0 287.80L749.5 288.26L750.0 288.72L750.5 289.18L751.0 289.65L751.5 290.12L752.0 290.59L752.5 291.06L753.0 291.54L753.5 292.01L754.0 292.49L754.5 292.98L755.0 293.46L755.5 293.95L756.0 294.44L756.5 294.93L757.0 295.42L757.5 295.92L758.0 296.42L758.5 296.92L759.0 297.43L759.5 297.94L760.0 298.45L760.5 298.96L761.0 299.48L761.5 300.00L762.0 300.53L762.5 301.06L763.0 301.59L763.5 302.12L764.0 302.66L764.5 303.20L765.0 303.75L765.5 304.30L766.0 304.85L766.5 305.41L767.0 305.97L767.5 306.54L768.0 307.11L768.5 307.68L769.0 308.26L769.5 308.84L770.0 309.42L770.5 310.00L771.0 310.59L771.5 311.18L772.0 311.78L772.5 312.37L773.0 312.97L773.5 313.57L774.0 314.18L774.5 314.78L775.0 315.39L775.5 315.99L776.0 316.60L776.5 317.21L777.0 317.83L777.5 318.44L778.0 319.05L778.5 319.66L779.0 320.28L779.5 320.89L780.0 321.51L780.5 322.12L781.0 322.74L781.5 323.35L782.0 323.96L782.5 324.57L783.0 325.18L783.5 325.79L784.0 326.39L784.5 326.99L785.0 327.59L785.5 328.18L786.0 328.76L786.5 329.34L787.0 329.92L787.5 330.49L788.0 331.05L788.5 331.60L789.0 332.15L789.5 332.69L790.0 333.22L790.5 333.74L791.0 334.25L791.5 334.75L792.0 335.24L792.5 335.72L793.0 336.19L793.5 336.65L794.0 337.10L794.5 337.53L795.0 337.96L795.5 338.37L796.0 338.77L796.5 339.17L797.0 339.55L797.5 339.92L798.0 340.29L798.5 340.65L799.0 341.00L799.5 341.34L800.0 341.67L800.5 342.00L801.0 342.32L801.5 342.64L802.0 342.95L802.5 343.25L803.0 343.55L803.5 343.85L804.0 344.14L804.5 344.42L805.0 344.71L805.5 344.99L806.0 345.26L806.5 345.54L807.0 345.81L807.5 346.08L808.0 346.35L808.5 346.62L809.0 346.89L809.5 347.15L810.0 347.41L810.5 347.67L811.0 347.93L811.5 348.18L812.0 348.43L812.5 348.67L813.0 348.92L813.5 349.16L814.0 349.40L814.5 349.63L815.0 349.86L815.5 350.08L816.0 350.30L816.5 350.52L817.0 350.73L817.5 350.94L818.0 351.14L818.5 351.34L819.0 351.53L819.5 351.72L820.0 351.91L820.5 352.08L821.0 352.25L821.5 352.42L822.0 352.58L822.5 352.73L823.0 352.87L823.5 353.01L824.0 353.14L824.5 353.26L825.0 353.37L825.5 353.47L826.0 353.56L826.5 353.64L827.0 353.72L827.5 353.78L828.0 353.83L828.5 353.86L829.0 353.89L829.5 353.90L830.0 353.91L830.5 353.90L831.0 353.87L831.5 353.83L832.0 353.78L832.5 353.71L833.0 353.63L833.5 353.53L834.0 353.42L834.5 353.29L835.0 353.15L835.5 352.99L836.0 352.82L836.5 352.64L837.0 352.45L837.5 352.25L838.0 352.04L838.5 351.83L839.0 351.60L839.5 351.38L840.0 351.14L840.5 350.90L841.0 350.66L841.5 350.42L842.0 350.18L842.5 349.94L843.0 349.69L843.5 349.45L844.0 349.22L844.5 348.98L845.0 348.74L845.5 348.50L846.0 348.26L846.5 348.02L847.0 347.77L847.5 347.51L848.0 347.25L848.5 346.99L849.0 346.71L849.5 346.43L850.0 346.13L850.5 345.83L851.0 345.51L851.5 345.18L852.0 344.84L852.5 344.48L853.0 344.11L853.5 343.72L854.0 343.31L854.5 342.89L855.0 342.45L855.5 341.98L856.0 341.50L856.5 341.01L857.0 340.49L857.5 339.95L858.0 339.40L858.5 338.83L859.0 338.24L859.5 337.63L860.0 337.00L860.5 336.35L861.0 335.68L861.5 335.00L862.0 334.30L862.5 333.57L863.0 332.83L863.5 332.07L864.0 331.29L864.5 330.49L865.0 329.67L865.5 328.84L866.0 328.00L866.5 327.14L867.0 326.26L867.5 325.37L868.0 324.48L868.5 323.57L869.0 322.64L869.5 321.71L870.0 320.77L870.5 319.81L871.0 318.85L871.5 317.87L872.0 316.88L872.5 315.89L873.0 314.88L873.5 313.86L874.0 312.84L874.5 311.80L875.0 310.76L875.5 309.70L876.0 308.64L876.5 307.57L877.0 306.51L877.5 305.44L878.0 304.38L878.5 303.33L879.0 302.30L879.5 301.28L880.0 300.28L880.5 299.31L881.0 298.37L881.5 297.46L882.0 296.58L882.5 295.75L883.0 294.96L883.5 294.21L884.0 293.51L884.5 292.87L885.0 292.28L885.5 291.74L886.0 291.27L886.5 290.86L887.0 290.51L887.5 290.23L888.0 290.01L888.5 289.87L889.0 289.81L889.5 289.82L890.0 289.91L890.5 290.08L891.0 290.31L891.5 290.61L892.0 290.96L892.5 291.35L893.0 291.78L893.5 292.25L894.0 292.74L894.5 293.25L895.0 293.77L895.5 294.29L896.0 294.80L896.5 295.31L897.0 295.80L897.5 296.27L898.0 296.71L898.5 297.12L899.0 297.51L899.5 297.85L900.0 298.16L900.5 298.42L901.0 298.64L901.5 298.81L902.0 298.93L902.5 298.99L903.0 298.99L903.5 298.94L904.0 298.83L904.5 298.67L905.0 298.47L905.5 298.23L906.0 297.95L906.5 297.65L907.0 297.33L907.5 296.98L908.0 296.62L908.5 296.25L909.0 295.88L909.5 295.51L910.0 295.14L910.5 294.78L911.0 294.44L911.5 294.11L912.0 293.80L912.5 293.52L913.0 293.26L913.5 293.03L914.0 292.83L914.5 292.67L915.0 292.55L915.5 292.47L916.0 292.44L916.5 292.47L917.0 292.54L917.5 292.67L918.0 292.84L918.5 293.05L919.0 293.31L919.5 293.60L920.0 293.92L920.5 294.28L921.0 294.66L921.5 295.06L922.0 295.48L922.5 295.92L923.0 296.37L923.5 296.83L924.0 297.29L924.5 297.76L925.0 298.23L925.5 298.70L926.0 299.18L926.5 299.66L927.0 300.15L927.5 300.64L928.0 301.12L928.5 301.61L929.0 302.11L929.5 302.60L930.0 303.09" stroke="#932f2f" stroke-width="1.05" stroke-dasharray="1,2"/>
<path d="M109.5 254.05L110.0 253.45L110.5 252.85L111.0 252.25L111.5 251.65L112.0 251.05L112.5 250.45L113.0 249.86L113.5 249.26L114.0 248.67L114.5 248.07L115.0 247.48L115.5 246.89L116.0 246.30L116.5 245.71L117.0 245.13L117.5 244.54L118.0 243.95L118.5 243.37L119.0 242.79L119.5 242.20L120.0 241.62L120.5 241.04L121.0 240.47L121.5 239.89L122.0 239.31L122.5 238.74L123.0 238.16L123.5 237.59L124.0 237.02L124.5 236.45L125.0 235.88L125.5 235.31L126.0 234.75L126.5 234.18L127.0 233.62L127.5 233.05L128.0 232.49L128.5 231.93L129.0 231.38L129.5 230.82L130.0 230.26L130.5 229.71L131.0 229.15L131.5 228.60L132.0 228.05L132.5 227.50L133.0 226.95L133.5 226.41L134.0 225.86L134.5 225.32L135.0 224.78L135.5 224.24L136.0 223.70L136.5 223.16L137.0 222.62L137.5 222.09L138.0 221.56L138.5 221.02L139.0 220.49L139.5 219.97L140.0 219.44L140.5 218.91L141.0 218.39L141.5 217.87L142.0 217.35L142.5 216.83L143.0 216.31L143.5 215.79L144.0 215.28L144.5 214.77L145.0 214.25L145.5 213.74L146.0 213.24L146.5 212.73L147.0 212.23L147.5 211.72L148.0 211.22L148.5 210.72L149.0 210.22L149.5 209.73L150.0 209.23L150.5 208.74L151.0 208.25L151.5 207.76L152.0 207.27L152.5 206.79L153.0 206.30L153.5 205.82L154.0 205.34L154.5 204.86L155.0 204.39L155.5 203.91L156.0 203.44L156.5 202.97L157.0 202.50L157.5 202.03L158.0 201.56L158.5 201.10L159.0 200.64L159.5 200.18L160.0 199.72L160.5 199.26L161.0 198.81L161.5 198.36L162.0 197.90L162.5 197.46L163.0 197.01L163.5 196.56L164.0 196.12L164.5 195.68L165.0 195.24L165.5 194.80L166.0 194.37L166.5 193.94L167.0 193.50L167.5 193.07L168.0 192.65L168.5 192.22L169.0 191.80L169.5 191.38L170.0 190.96L170.5 190.54L171.0 190.13L171.5 189.71L172.0 189.30L172.5 188.89L173.0 188.49L173.5 188.08L174.0 187.68L174.5 187.28L175.0 186.88L175.5 186.48L176.0 186.08L176.5 185.69L177.0 185.30L177.5 184.91L178.0 184.53L178.5 184.14L179.0 183.76L179.5 183.38L180.0 183.00L180.5 182.62L181.0 182.25L181.5 181.88L182.0 181.51L182.5 181.14L183.0 180.77L183.5 180.41L184.0 180.05L184.5 179.69L185.0 179.33L185.5 178.97L186.0 178.62L186.5 178.27L187.0 177.92L187.5 177.57L188.0 177.23L188.5 176.88L189.0 176.54L189.5 176.20L190.0 175.87L190.5 175.53L191.0 175.20L191.5 174.87L192.0 174.54L192.5 174.21L193.0 173.89L193.5 173.57L194.0 173.24L194.5 172.93L195.0 172.61L195.5 172.30L196.0 171.98L196.5 171.67L197.0 171.37L197.5 171.06L198.0 170.76L198.5 170.45L199.0 170.15L199.5 169.86L200.0 169.56L200.5 169.27L201.0 168.97L201.5 168.68L202.0 168.40L202.5 168.11L203.0 167.83L203.5 167.54L204.0 167.26L204.5 166.99L205.0 166.71L205.5 166.43L206.0 166.16L206.5 165.89L207.0 165.62L207.5 165.36L208.0 165.09L208.5 164.83L209.0 164.57L209.5 164.31L210.0 164.05L210.5 163.80L211.0 163.55L211.5 163.30L212.0 163.05L212.5 162.80L213.0 162.55L213.5 162.31L214.0 162.07L214.5 161.83L215.0 161.59L215.5 161.35L216.0 161.12L216.5 160.89L217.0 160.65L217.5 160.43L218.0 160.20L218.5 159.97L219.0 159.75L219.5 159.53L220.0 159.31L220.5 159.09L221.0 158.87L221.5 158.66L222.0 158.44L222.5 158.23L223.0 158.02L223.5 157.81L224.0 157.61L224.5 157.40L225.0 157.20L225.5 156.99L226.0 156.79L226.5 156.60L227.0 156.40L227.5 156.20L228.0 156.01L228.5 155.82L229.0 155.63L229.5 155.44L230.0 155.25L230.5 155.07L231.0 154.88L231.5 154.70L232.0 154.52L232.5 154.34L233.0 154.16L233.5 153.98L234.0 153.81L234.5 153.63L235.0 153.46L235.5 153.29L236.0 153.12L236.5 152.95L237.0 152.79L237.5 152.62L238.0 152.46L238.5 152.30L239.0 152.13L239.5 151.97L240.0 151.82L240.5 151.66L241.0 151.50L241.5 151.35L242.0 151.20L242.5 151.05L243.0 150.90L243.5 150.75L244.0 150.60L244.5 150.45L245.0 150.31L245.5 150.16L246.0 150.02L246.5 149.88L247.0 149.74L247.5 149.60L248.0 149.46L248.5 149.33L249.0 149.19L249.5 149.06L250.0 148.92L250.5 148.79L251.0 148.66L251.5 148.53L252.0 148.40L252.5 148.28L253.0 148.15L253.5 148.02L254.0 147.90L254.5 147.78L255.0 147.66L255.5 147.53L256.0 147.41L256.5 147.30L257.0 147.18L257.5 147.06L258.0 146.95L258.5 146.83L259.0 146.72L259.5 146.61L260.0 146.49L260.5 146.38L261.0 146.27L261.5 146.17L262.0 146.06L262.5 145.95L263.0 145.84L263.5 145.74L264.0 145.64L264.5 145.53L265.0 145.43L265.5 145.33L266.0 145.23L266.5 145.13L267.0 145.03L267.5 144.93L268.0 144.84L268.5 144.74L269.0 144.64L269.5 144.55L270.0 144.46L270.5 144.36L271.0 144.27L271.5 144.18L272.0 144.09L272.5 144.00L273.0 143.91L273.5 143.82L274.0 143.74L274.5 143.65L275.0 143.56L275.5 143.48L276.0 143.39L276.5 143.31L277.0 143.23L277.5 143.14L278.0 143.06L278.5 142.98L279.0 142.90L279.5 142.82L280.0 142.74L280.5 142.66L281.0 142.59L281.5 142.51L282.0 142.43L282.5 142.36L283.0 142.28L283.5 142.21L284.0 142.14L284.5 142.06L285.0 141.99L285.5 141.92L286.0 141.85L286.5 141.78L287.0 141.71L287.5 141.64L288.0 141.57L288.5 141.50L289.0 141.43L289.5 141.36L290.0 141.30L290.5 141.23L291.0 141.17L291.5 141.10L292.0 141.04L292.5 140.97L293.0 140.91L293.5 140.84L294.0 140.78L294.5 140.72L295.0 140.66L295.5 140.60L296.0 140.54L296.5 140.48L297.0 140.42L297.5 140.36L298.0 140.30L298.5 140.24L299.0 140.18L299.5 140.13L300.0 140.07L300.5 140.01L301.0 139.96L301.5 139.90L302.0 139.84L302.5 139.79L303.0 139.74L303.5 139.68L304.0 139.63L304.5 139.57L305.0 139.52L305.5 139.47L306.0 139.42L306.5 139.37L307.0 139.32L307.5 139.26L308.0 139.21L308.5 139.16L309.0 139.11L309.5 139.06L310.0 139.02L310.5 138.97L311.0 138.92L311.5 138.87L312.0 138.82L312.5 138.78L313.0 138.73L313.5 138.68L314.0 138.64L314.5 138.59L315.0 138.54L315.5 138.50L316.0 138.45L316.5 138.41L317.0 138.37L317.5 138.32L318.0 138.28L318.5 138.23L319.0 138.19L319.5 138.15L320.0 138.11L320.5 138.06L321.0 138.02L321.5 137.98L322.0 137.94L322.5 137.90L323.0 137.86L323.5 137.82L324.0 137.78L324.5 137.74L325.0 137.70L325.5 137.66L326.0 137.62L326.5 137.58L327.0 137.54L327.5 137.50L328.0 137.46L328.5 137.42L329.0 137.39L329.5 137.35L330.0 137.31L330.5 137.27L331.0 137.24L331.5 137.20L332.0 137.16L332.5 137.13L333.0 137.09L333.5 137.06L334.0 137.02L334.5 136.98L335.0 136.95L335.5 136.91L336.0 136.88L336.5 136.85L337.0 136.81L337.5 136.78L338.0 136.74L338.5 136.71L339.0 136.68L339.5 136.64L340.0 136.61L340.5 136.58L341.0 136.54L341.5 136.51L342.0 136.48L342.5 136.45L343.0 136.42L343.5 136.38L344.0 136.35L344.5 136.32L345.0 136.29L345.5 136.26L346.0 136.23L346.5 136.20L347.0 136.17L347.5 136.14L348.0 136.11L348.5 136.08L349.0 136.05L349.5 136.02L350.0 135.99L350.5 135.96L351.0 135.93L351.5 135.90L352.0 135.87L352.5 135.84L353.0 135.81L353.5 135.79L354.0 135.76L354.5 135.73L355.0 135.70L355.5 135.67L356.0 135.65L356.5 135.62L357.0 135.59L357.5 135.56L358.0 135.54L358.5 135.51L359.0 135.48L359.5 135.46L360.0 135.43L360.5 135.40L361.0 135.38L361.5 135.35L362.0 135.33L362.5 135.30L363.0 135.28L363.5 135.25L364.0 135.22L364.5 135.20L365.0 135.17L365.5 135.15L366.0 135.12L366.5 135.10L367.0 135.08L367.5 135.05L368.0 135.03L368.5 135.00L369.0 134.98L369.5 134.96L370.0 134.93L370.5 134.91L371.0 134.88L371.5 134.86L372.0 134.84L372.5 134.82L373.0 134.79L373.5 134.77L374.0 134.75L374.5 134.72L375.0 134.70L375.5 134.68L376.0 134.66L376.5 134.64L377.0 134.61L377.5 134.59L378.0 134.57L378.5 134.55L379.0 134.53L379.5 134.51L380.0 134.49L380.5 134.46L381.0 134.44L381.5 134.42L382.0 134.40L382.5 134.38L383.0 134.36L383.5 134.34L384.0 134.32L384.5 134.30L385.0 134.28L385.5 134.26L386.0 134.24L386.5 134.22L387.0 134.20L387.5 134.18L388.0 134.16L388.5 134.15L389.0 134.13L389.5 134.11L390.0 134.09L390.5 134.07L391.0 134.05L391.5 134.03L392.0 134.02L392.5 134.00L393.0 133.98L393.5 133.96L394.0 133.94L394.5 133.93L395.0 133.91L395.5 133.89L396.0 133.87L396.5 133.86L397.0 133.84L397.5 133.82L398.0 133.81L398.5 133.79L399.0 133.77L399.5 133.76L400.0 133.74L400.5 133.72L401.0 133.71L401.5 133.69L402.0 133.68L402.5 133.66L403.0 133.65L403.5 133.63L404.0 133.61L404.5 133.60L405.0 133.58L405.5 133.57L406.0 133.55L406.5 133.54L407.0 133.52L407.5 133.51L408.0 133.50L408.5 133.48L409.0 133.47L409.5 133.45L410.0 133.44L410.5 133.43L411.0 133.41L411.5 133.40L412.0 133.38L412.5 133.37L413.0 133.36L413.5 133.34L414.0 133.33L414.5 133.32L415.0 133.31L415.5 133.29L416.0 133.28L416.5 133.27L417.0 133.26L417.5 133.24L418.0 133.23L418.5 133.22L419.0 133.21L419.5 133.19L420.0 133.18L420.5 133.17L421.0 133.16L421.5 133.15L422.0 133.14L422.5 133.13L423.0 133.12L423.5 133.10L424.0 133.09L424.5 133.08L425.0 133.07L425.5 133.06L426.0 133.05L426.5 133.04L427.0 133.03L427.5 133.02L428.0 133.01L428.5 133.00L429.0 132.99L429.5 132.98L430.0 132.97L430.5 132.96L431.0 132.95L431.5 132.94L432.0 132.93L432.5 132.92L433.0 132.92L433.5 132.91L434.0 132.90L434.5 132.89L435.0 132.88L435.5 132.87L436.0 132.86L436.5 132.86L437.0 132.85L437.5 132.84L438.0 132.83L438.5 132.82L439.0 132.81L439.5 132.81L440.0 132.80L440.5 132.79L441.0 132.78L441.5 132.78L442.0 132.77L442.5 132.76L443.0 132.75L443.5 132.75L444.0 132.74L444.5 132.73L445.0 132.73L445.5 132.72L446.0 132.71L446.5 132.71L447.0 132.70L447.5 132.69L448.0 132.69L448.5 132.68L449.0 132.67L449.5 132.67L450.0 132.66L450.5 132.66L451.0 132.65L451.5 132.64L452.0 132.64L452.5 132.63L453.0 132.63L453.5 132.62L454.0 132.62L454.5 132.61L455.0 132.61L455.5 132.60L456.0 132.60L456.5 132.59L457.0 132.59L457.5 132.58L458.0 132.58L458.5 132.57L459.0 132.57L459.5 132.56L460.0 132.56L460.5 132.55L461.0 132.55L461.5 132.54L462.0 132.54L462.5 132.53L463.0 132.53L463.5 132.53L464.0 132.52L464.5 132.52L465.0 132.51L465.5 132.51L466.0 132.50L466.5 132.50L467.0 132.50L467.5 132.49L468.0 132.49L468.5 132.49L469.0 132.48L469.5 132.48L470.0 132.47L470.5 132.47L471.0 132.47L471.5 132.46L472.0 132.46L472.5 132.46L473.0 132.45L473.5 132.45L474.0 132.45L474.5 132.45L475.0 132.44L475.5 132.44L476.0 132.44L476.5 132.43L477.0 132.43L477.5 132.43L478.0 132.42L478.5 132.42L479.0 132.42L479.5 132.42L480.0 132.41L480.5 132.41L481.0 132.41L481.5 132.41L482.0 132.40L482.5 132.40L483.0 132.40L483.5 132.40L484.0 132.39L484.5 132.39L485.0 132.39L485.5 132.39L486.0 132.38L486.5 132.38L487.0 132.38L487.5 132.38L488.0 132.38L488.5 132.37L489.0 132.37L489.5 132.37L490.0 132.37L490.5 132.37L491.0 132.36L491.5 132.36L492.0 132.36L492.5 132.36L493.0 132.36L493.5 132.35L494.0 132.35L494.5 132.35L495.0 132.35L495.5 132.35L496.0 132.35L496.5 132.34L497.0 132.34L497.5 132.34L498.0 132.34L498.5 132.34L499.0 132.34L499.5 132.33L500.0 132.33L500.5 132.33L501.0 132.33L501.5 132.33L502.0 132.33L502.5 132.33L503.0 132.32L503.5 132.32L504.0 132.32L504.5 132.32L505.0 132.32L505.5 132.32L506.0 132.32L506.5 132.32L507.0 132.31L507.5 132.31L508.0 132.31L508.5 132.31L509.0 132.31L509.5 132.31L510.0 132.31L510.5 132.31L511.0 132.31L511.5 132.30L512.0 132.30L512.5 132.30L513.0 132.30L513.5 132.30L514.0 132.30L514.5 132.30L515.0 132.30L515.5 132.30L516.0 132.30L516.5 132.30L517.0 132.29L517.5 132.29L518.0 132.29L518.5 132.29L519.0 132.29L519.5 132.29L520.0 132.29L520.5 132.29L521.0 132.29L521.5 132.29L522.0 132.29L522.5 132.29L523.0 132.28L523.5 132.28L524.0 132.28L524.5 132.28L525.0 132.28L525.5 132.28L526.0 132.28L526.5 132.28L527.0 132.28L527.5 132.28L528.0 132.28L528.5 132.28L529.0 132.28L529.5 132.28L530.0 132.28L530.5 132.28L531.0 132.27L531.5 132.27L532.0 132.27L532.5 132.27L533.0 132.27L533.5 132.27L534.0 132.27L534.5 132.27L535.0 132.27L535.5 132.27L536.0 132.27L536.5 132.27L537.0 132.27L537.5 132.27L538.0 132.27L538.5 132.27L539.0 132.27L539.5 132.27L540.0 132.27L540.5 132.27L541.0 132.27L541.5 132.26L542.0 132.26L542.5 132.26L543.0 132.26L543.5 132.26L544.0 132.26L544.5 132.26L545.0 132.26L545.5 132.26L546.0 132.26L546.5 132.26L547.0 132.26L547.5 132.26L548.0 132.26L548.5 132.26L549.0 132.26L549.5 132.26L550.0 132.26L550.5 132.26L551.0 132.26L551.5 132.26L552.0 132.26L552.5 132.26L553.0 132.26L553.5 132.26L554.0 132.26L554.5 132.26L555.0 132.26L555.5 132.26L556.0 132.26L556.5 132.25L557.0 132.25L557.5 132.25L558.0 132.25L558.5 132.25L559.0 132.25L559.5 132.25L560.0 132.25L560.5 132.25L561.0 132.25L561.5 132.25L562.0 132.25L562.5 132.25L563.0 132.25L563.5 132.25L564.0 132.25L564.5 132.25L565.0 132.25L565.5 132.25L566.0 132.25L566.5 132.25L567.0 132.25L567.5 132.25L568.0 132.25L568.5 132.25L569.0 132.25L569.5 132.25L570.0 132.25L570.5 132.25L571.0 132.25L571.5 132.25L572.0 132.25L572.5 132.25L573.0 132.25L573.5 132.25L574.0 132.25L574.5 132.25L575.0 132.25L575.5 132.25L576.0 132.25L576.5 132.25L577.0 132.25L577.5 132.25L578.0 132.25L578.5 132.25L579.0 132.25L579.5 132.25L580.0 132.25L580.5 132.25L581.0 132.25L581.5 132.25L582.0 132.25L582.5 132.25L583.0 132.25L583.5 132.25L584.0 132.25L584.5 132.25L585.0 132.25L585.5 132.25L586.0 132.25L586.5 132.25L587.0 132.24L587.5 132.24L588.0 132.24L588.5 132.24L589.0 132.24L589.5 132.24L590.0 132.24L590.5 132.24L591.0 132.24L591.5 132.24L592.0 132.24L592.5 132.24L593.0 132.24L593.5 132.24L594.0 132.24L594.5 132.24L595.0 132.24L595.5 132.24L596.0 132.24L596.5 132.24L597.0 132.24L597.5 132.24L598.0 132.24L598.5 132.24L599.0 132.24L599.5 132.24L600.0 132.24L600.5 132.24L601.0 132.24L601.5 132.24L602.0 132.24L602.5 132.24L603.0 132.24L603.5 132.24L604.0 132.24L604.5 132.24L605.0 132.24L605.5 132.24L606.0 132.24L606.5 132.24L607.0 132.24L607.5 132.24L608.0 132.24L608.5 132.24L609.0 132.24L609.5 132.24L610.0 132.24L610.5 132.24L611.0 132.24L611.5 132.24L612.0 132.24L612.5 132.24L613.0 132.24L613.5 132.24L614.0 132.24L614.5 132.24L615.0 132.24L615.5 132.24L616.0 132.24L616.5 132.24L617.0 132.24L617.5 132.24L618.0 132.24L618.5 132.24L619.0 132.24L619.5 132.24L620.0 132.24L620.5 132.24L621.0 132.24L621.5 132.24L622.0 132.24L622.5 132.24L623.0 132.24L623.5 132.24L624.0 132.24L624.5 132.24L625.0 132.24L625.5 132.24L626.0 132.24L626.5 132.24L627.0 132.24L627.5 132.24L628.0 132.24L628.5 132.24L629.0 132.24L629.5 132.24L630.0 132.24L630.5 132.24L631.0 132.24L631.5 132.24L632.0 132.24L632.5 132.24L633.0 132.24L633.5 132.24L634.0 132.24L634.5 132.24L635.0 132.24L635.5 132.24L636.0 132.24L636.5 132.24L637.0 132.24L637.5 132.24L638.0 132.24L638.5 132.24L639.0 132.24L639.5 132.24L640.0 132.24L640.5 132.24L641.0 132.24L641.5 132.24L642.0 132.24L642.5 132.24L643.0 132.24L643.5 132.24L644.0 132.24L644.5 132.24L645.0 132.24L645.5 132.24L646.0 132.24L646.5 132.24L647.0 132.24L647.5 132.24L648.0 132.24L648.5 132.24L649.0 132.24L649.5 132.24L650.0 132.24L650.5 132.24L651.0 132.24L651.5 132.24L652.0 132.24L652.5 132.24L653.0 132.24L653.5 132.24L654.0 132.24L654.5 132.24L655.0 132.24L655.5 132.24L656.0 132.24L656.5 132.24L657.0 132.24L657.5 132.24L658.0 132.24L658.5 132.24L659.0 132.24L659.5 132.24L660.0 132.24L660.5 132.24L661.0 132.24L661.5 132.24L662.0 132.24L662.5 132.24L663.0 132.24L663.5 132.24L664.0 132.24L664.5 132.24L665.0 132.24L665.5 132.25L666.0 132.25L666.5 132.25L667.0 132.25L667.5 132.25L668.0 132.25L668.5 132.25L669.0 132.25L669.5 132.25L670.0 132.26L670.5 132.26L671.0 132.26L671.5 132.26L672.0 132.27L672.5 132.27L673.0 132.27L673.5 132.28L674.0 132.28L674.5 132.28L675.0 132.29L675.5 132.29L676.0 132.30L676.5 132.31L677.0 132.31L677.5 132.32L678.0 132.33L678.5 132.34L679.0 132.35L679.5 132.36L680.0 132.37L680.5 132.38L681.0 132.39L681.5 132.41L682.0 132.42L682.5 132.44L683.0 132.45L683.5 132.47L684.0 132.49L684.5 132.51L685.0 132.53L685.5 132.55L686.0 132.58L686.5 132.60L687.0 132.63L687.5 132.66L688.0 132.69L688.5 132.72L689.0 132.75L689.5 132.78L690.0 132.82L690.5 132.86L691.0 132.89L691.5 132.93L692.0 132.97L692.5 133.02L693.0 133.06L693.5 133.10L694.0 133.15L694.5 133.20L695.0 133.25L695.5 133.30L696.0 133.35L696.5 133.40L697.0 133.45L697.5 133.51L698.0 133.56L698.5 133.62L699.0 133.67L699.5 133.73L700.0 133.79L700.5 133.85L701.0 133.91L701.5 133.97L702.0 134.04L702.5 134.10L703.0 134.16L703.5 134.23L704.0 134.29L704.5 134.36L705.0 134.42L705.5 134.49L706.0 134.56L706.5 134.62L707.0 134.69L707.5 134.76L708.0 134.83L708.5 134.90L709.0 134.96L709.5 135.03L710.0 135.10L710.5 135.17L711.0 135.24L711.5 135.32L712.0 135.39L712.5 135.46L713.0 135.53L713.5 135.60L714.0 135.67L714.5 135.75L715.0 135.82L715.5 135.89L716.0 135.97L716.5 136.04L717.0 136.11L717.5 136.19L718.0 136.26L718.5 136.34L719.0 136.41L719.5 136.49L720.0 136.56L720.5 136.64L721.0 136.72L721.5 136.79L722.0 136.87L722.5 136.95L723.0 137.02L723.5 137.10L724.0 137.18L724.5 137.26L725.0 137.34L725.5 137.42L726.0 137.50L726.5 137.58L727.0 137.67L727.5 137.75L728.0 137.84L728.5 137.93L729.0 138.01L729.5 138.10L730.0 138.20L730.5 138.29L731.0 138.39L731.5 138.48L732.0 138.58L732.5 138.68L733.0 138.78L733.5 138.89L734.0 139.00L734.5 139.11L735.0 139.22L735.5 139.33L736.0 139.45L736.5 139.57L737.0 139.69L737.5 139.82L738.0 139.94L738.5 140.07L739.0 140.21L739.5 140.34L740.0 140.48L740.5 140.63L741.0 140.77L741.5 140.92L742.0 141.07L742.5 141.23L743.0 141.39L743.5 141.55L744.0 141.72L744.5 141.89L745.0 142.07L745.5 142.25L746.0 142.43L746.5 142.62L747.0 142.81L747.5 143.01L748.0 143.21L748.5 143.42L749.0 143.63L749.5 143.84L750.0 144.06L750.5 144.28L751.0 144.51L751.5 144.75L752.0 144.99L752.5 145.23L753.0 145.48L753.5 145.74L754.0 146.00L754.5 146.27L755.0 146.54L755.5 146.82L756.0 147.10L756.5 147.39L757.0 147.69L757.5 147.99L758.0 148.30L758.5 148.62L759.0 148.94L759.5 149.27L760.0 149.60L760.5 149.95L761.0 150.30L761.5 150.65L762.0 151.02L762.5 151.39L763.0 151.77L763.5 152.16L764.0 152.55L764.5 152.95L765.0 153.36L765.5 153.78L766.0 154.21L766.5 154.64L767.0 155.09L767.5 155.54L768.0 156.00L768.5 156.47L769.0 156.95L769.5 157.44L770.0 157.94L770.5 158.44L771.0 158.96L771.5 159.49L772.0 160.03L772.5 160.58L773.0 161.15L773.5 161.73L774.0 162.33L774.5 162.94L775.0 163.57L775.5 164.22L776.0 164.88L776.5 165.57L777.0 166.27L777.5 167.00L778.0 167.74L778.5 168.50L779.0 169.27L779.5 170.05L780.0 170.84L780.5 171.64L781.0 172.45L781.5 173.25L782.0 174.06L782.5 174.86L783.0 175.67L783.5 176.47L784.0 177.28L784.5 178.10L785.0 178.92L785.5 179.74L786.0 180.58L786.5 181.43L787.0 182.29L787.5 183.17L788.0 184.07L788.5 184.98L789.0 185.91L789.5 186.86L790.0 187.83L790.5 188.82L791.0 189.83L791.5 190.86L792.0 191.92L792.5 193.00L793.0 194.10L793.5 195.23L794.0 196.38L794.5 197.56L795.0 198.77L795.5 200.00L796.0 201.26L796.5 202.54L797.0 203.84L797.5 205.17L798.0 206.51L798.5 207.88L799.0 209.26L799.5 210.66L800.0 212.06L800.5 213.49L801.0 214.92L801.5 216.36L802.0 217.80L802.5 219.25L803.0 220.70L803.5 222.15L804.0 223.60L804.5 225.05L805.0 226.48L805.5 227.91L806.0 229.33L806.5 230.73L807.0 232.11L807.5 233.48L808.0 234.82L808.5 236.15L809.0 237.45L809.5 238.73L810.0 240.00L810.5 241.26L811.0 242.51L811.5 243.75L812.0 244.99L812.5 246.23L813.0 247.48L813.5 248.73L814.0 250.00L814.5 251.27L815.0 252.57L815.5 253.88L816.0 255.22L816.5 256.59L817.0 257.98L817.5 259.39L818.0 260.83L818.5 262.29L819.0 263.78L819.5 265.29L820.0 266.82L820.5 268.37L821.0 269.94L821.5 271.53L822.0 273.14L822.5 274.77L823.0 276.41L823.5 278.07L824.0 279.74L824.5 281.42L825.0 283.11L825.5 284.80L826.0 286.49L826.5 288.19L827.0 289.89L827.5 291.59L828.0 293.28L828.5 294.96L829.0 296.63L829.5 298.28L830.0 299.91L830.5 301.52L831.0 303.09L831.5 304.64L832.0 306.15L832.5 307.62L833.0 309.04L833.5 310.43L834.0 311.76L834.5 313.04L835.0 314.27L835.5 315.45L836.0 316.56L836.5 317.63L837.0 318.64L837.5 319.60L838.0 320.52L838.5 321.40L839.0 322.24L839.5 323.04L840.0 323.82L840.5 324.57L841.0 325.29L841.5 325.98L842.0 326.65L842.5 327.30L843.0 327.93L843.5 328.53L844.0 329.11L844.5 329.67L845.0 330.21L845.5 330.73L846.0 331.23L846.5 331.72L847.0 332.21L847.5 332.68L848.0 333.15L848.5 333.62L849.0 334.10L849.5 334.59L850.0 335.08L850.5 335.59L851.0 336.11L851.5 336.65L852.0 337.20L852.5 337.77L853.0 338.36L853.5 338.96L854.0 339.58L854.5 340.23L855.0 340.89L855.5 341.57L856.0 342.27L856.5 342.99L857.0 343.74L857.5 344.52L858.0 345.33L858.5 346.19L859.0 347.10L859.5 348.07L860.0 349.11L860.5 350.22L861.0 351.42L861.5 352.70L862.0 354.06L862.5 355.49L863.0 356.98L863.5 358.52L864.0 360.10L864.5 361.72L865.0 363.36L865.5 365.00L866.0 366.65L866.5 368.29L867.0 369.90L867.5 371.48L868.0 373.04L868.5 374.57L869.0 376.09L869.5 377.61L870.0 379.12L870.5 380.63L871.0 382.12L871.5 383.59L872.0 385.00L872.5 386.34L873.0 387.58L873.5 388.72L874.0 389.73L874.5 390.60L875.0 391.29L875.5 391.80L876.0 392.10L876.5 392.20L877.0 392.08L877.5 391.77L878.0 391.27L878.5 390.58L879.0 389.73L879.5 388.71L880.0 387.53L880.5 386.21L881.0 384.75L881.5 383.16L882.0 381.45L882.5 379.62L883.0 377.70L883.5 375.69L884.0 373.60L884.5 371.46L885.0 369.32L885.5 367.22L886.0 365.21L886.5 363.36L887.0 361.68L887.5 360.20L888.0 358.90L888.5 357.77L889.0 356.82L889.5 356.02L890.0 355.37L890.5 354.85L891.0 354.45L891.5 354.15L892.0 353.95L892.5 353.82L893.0 353.75L893.5 353.73L894.0 353.77L894.5 353.85L895.0 353.96L895.5 354.10L896.0 354.27L896.5 354.46L897.0 354.66L897.5 354.86L898.0 355.06L898.5 355.25L899.0 355.43L899.5 355.59L900.0 355.73L900.5 355.83L901.0 355.89L901.5 355.90L902.0 355.87L902.5 355.80L903.0 355.68L903.5 355.52L904.0 355.32L904.5 355.09L905.0 354.82L905.5 354.52L906.0 354.20L906.5 353.84L907.0 353.46L907.5 353.05L908.0 352.62L908.5 352.18L909.0 351.71L909.5 351.23L910.0 350.74L910.5 350.24L911.0 349.72L911.5 349.19L912.0 348.66L912.5 348.11L913.0 347.55L913.5 346.98L914.0 346.41L914.5 345.82L915.0 345.23L915.5 344.63L916.0 344.03L916.5 343.42L917.0 342.80L917.5 342.18L918.0 341.56L918.5 340.92L919.0 340.28L919.5 339.64L920.0 338.98L920.5 338.32L921.0 337.65L921.5 336.97L922.0 336.29L922.5 335.59L923.0 334.89L923.5 334.17L924.0 333.45L924.5 332.72L925.0 331.98L925.5 331.23L926.0 330.47L926.5 329.71L927.0 328.95L927.5 328.18L928.0 327.41L928.5 326.63L929.0 325.85L929.5 325.07L930.0 324.30" stroke="#932f2f" stroke-width="2.3"/>
<path d="M109.5 224.35L110.0 223.74L110.5 223.14L111.0 222.53L111.5 221.93L112.0 221.32L112.5 220.72L113.0 220.12L113.5 219.52L114.0 218.92L114.5 218.32L115.0 217.72L115.5 217.13L116.0 216.53L116.5 215.94L117.0 215.35L117.5 214.76L118.0 214.17L118.5 213.58L119.0 212.99L119.5 212.40L120.0 211.81L120.5 211.23L121.0 210.65L121.5 210.06L122.0 209.48L122.5 208.90L123.0 208.33L123.5 207.75L124.0 207.17L124.5 206.60L125.0 206.02L125.5 205.45L126.0 204.88L126.5 204.31L127.0 203.74L127.5 203.18L128.0 202.61L128.5 202.05L129.0 201.49L129.5 200.92L130.0 200.36L130.5 199.81L131.0 199.25L131.5 198.69L132.0 198.14L132.5 197.59L133.0 197.03L133.5 196.48L134.0 195.94L134.5 195.39L135.0 194.84L135.5 194.30L136.0 193.76L136.5 193.21L137.0 192.68L137.5 192.14L138.0 191.60L138.5 191.07L139.0 190.53L139.5 190.00L140.0 189.47L140.5 188.94L141.0 188.41L141.5 187.89L142.0 187.37L142.5 186.84L143.0 186.32L143.5 185.80L144.0 185.29L144.5 184.77L145.0 184.26L145.5 183.75L146.0 183.24L146.5 182.73L147.0 182.22L147.5 181.71L148.0 181.21L148.5 180.71L149.0 180.21L149.5 179.71L150.0 179.21L150.5 178.72L151.0 178.23L151.5 177.73L152.0 177.25L152.5 176.76L153.0 176.27L153.5 175.79L154.0 175.31L154.5 174.83L155.0 174.35L155.5 173.87L156.0 173.40L156.5 172.92L157.0 172.45L157.5 171.98L158.0 171.52L158.5 171.05L159.0 170.59L159.5 170.13L160.0 169.67L160.5 169.21L161.0 168.75L161.5 168.30L162.0 167.85L162.5 167.40L163.0 166.95L163.5 166.51L164.0 166.06L164.5 165.62L165.0 165.18L165.5 164.74L166.0 164.31L166.5 163.87L167.0 163.44L167.5 163.01L168.0 162.59L168.5 162.16L169.0 161.74L169.5 161.31L170.0 160.89L170.5 160.48L171.0 160.06L171.5 159.65L172.0 159.24L172.5 158.83L173.0 158.42L173.5 158.02L174.0 157.61L174.5 157.21L175.0 156.81L175.5 156.42L176.0 156.02L176.5 155.63L177.0 155.24L177.5 154.85L178.0 154.46L178.5 154.08L179.0 153.70L179.5 153.32L180.0 152.94L180.5 152.56L181.0 152.19L181.5 151.82L182.0 151.45L182.5 151.08L183.0 150.72L183.5 150.35L184.0 149.99L184.5 149.64L185.0 149.28L185.5 148.92L186.0 148.57L186.5 148.22L187.0 147.87L187.5 147.53L188.0 147.18L188.5 146.84L189.0 146.50L189.5 146.16L190.0 145.83L190.5 145.49L191.0 145.16L191.5 144.83L192.0 144.51L192.5 144.18L193.0 143.86L193.5 143.54L194.0 143.22L194.5 142.90L195.0 142.59L195.5 142.27L196.0 141.96L196.5 141.66L197.0 141.35L197.5 141.05L198.0 140.74L198.5 140.44L199.0 140.14L199.5 139.85L200.0 139.55L200.5 139.26L201.0 138.97L201.5 138.68L202.0 138.40L202.5 138.12L203.0 137.83L203.5 137.55L204.0 137.28L204.5 137.00L205.0 136.73L205.5 136.45L206.0 136.18L206.5 135.92L207.0 135.65L207.5 135.39L208.0 135.12L208.5 134.86L209.0 134.61L209.5 134.35L210.0 134.10L210.5 133.84L211.0 133.59L211.5 133.34L212.0 133.10L212.5 132.85L213.0 132.61L213.5 132.37L214.0 132.13L214.5 131.89L215.0 131.66L215.5 131.42L216.0 131.19L216.5 130.96L217.0 130.73L217.5 130.51L218.0 130.28L218.5 130.06L219.0 129.84L219.5 129.62L220.0 129.40L220.5 129.19L221.0 128.97L221.5 128.76L222.0 128.55L222.5 128.34L223.0 128.13L223.5 127.93L224.0 127.72L224.5 127.52L225.0 127.32L225.5 127.12L226.0 126.93L226.5 126.73L227.0 126.54L227.5 126.34L228.0 126.15L228.5 125.96L229.0 125.78L229.5 125.59L230.0 125.41L230.5 125.23L231.0 125.04L231.5 124.86L232.0 124.69L232.5 124.51L233.0 124.34L233.5 124.16L234.0 123.99L234.5 123.82L235.0 123.65L235.5 123.48L236.0 123.32L236.5 123.15L237.0 122.99L237.5 122.83L238.0 122.67L238.5 122.51L239.0 122.35L239.5 122.19L240.0 122.04L240.5 121.89L241.0 121.73L241.5 121.58L242.0 121.43L242.5 121.29L243.0 121.14L243.5 120.99L244.0 120.85L244.5 120.71L245.0 120.57L245.5 120.43L246.0 120.29L246.5 120.15L247.0 120.01L247.5 119.88L248.0 119.74L248.5 119.61L249.0 119.48L249.5 119.35L250.0 119.22L250.5 119.09L251.0 118.96L251.5 118.84L252.0 118.71L252.5 118.59L253.0 118.47L253.5 118.35L254.0 118.23L254.5 118.11L255.0 117.99L255.5 117.87L256.0 117.76L256.5 117.64L257.0 117.53L257.5 117.42L258.0 117.30L258.5 117.19L259.0 117.08L259.5 116.97L260.0 116.87L260.5 116.76L261.0 116.65L261.5 116.55L262.0 116.45L262.5 116.34L263.0 116.24L263.5 116.14L264.0 116.04L264.5 115.94L265.0 115.84L265.5 115.75L266.0 115.65L266.5 115.55L267.0 115.46L267.5 115.37L268.0 115.27L268.5 115.18L269.0 115.09L269.5 115.00L270.0 114.91L270.5 114.82L271.0 114.73L271.5 114.65L272.0 114.56L272.5 114.47L273.0 114.39L273.5 114.30L274.0 114.22L274.5 114.14L275.0 114.06L275.5 113.98L276.0 113.90L276.5 113.82L277.0 113.74L277.5 113.66L278.0 113.58L278.5 113.51L279.0 113.43L279.5 113.35L280.0 113.28L280.5 113.20L281.0 113.13L281.5 113.06L282.0 112.99L282.5 112.92L283.0 112.84L283.5 112.77L284.0 112.71L284.5 112.64L285.0 112.57L285.5 112.50L286.0 112.43L286.5 112.37L287.0 112.30L287.5 112.24L288.0 112.17L288.5 112.11L289.0 112.04L289.5 111.98L290.0 111.92L290.5 111.86L291.0 111.79L291.5 111.73L292.0 111.67L292.5 111.61L293.0 111.55L293.5 111.50L294.0 111.44L294.5 111.38L295.0 111.32L295.5 111.27L296.0 111.21L296.5 111.15L297.0 111.10L297.5 111.04L298.0 110.99L298.5 110.93L299.0 110.88L299.5 110.83L300.0 110.78L300.5 110.72L301.0 110.67L301.5 110.62L302.0 110.57L302.5 110.52L303.0 110.47L303.5 110.42L304.0 110.37L304.5 110.32L305.0 110.27L305.5 110.22L306.0 110.18L306.5 110.13L307.0 110.08L307.5 110.04L308.0 109.99L308.5 109.94L309.0 109.90L309.5 109.85L310.0 109.81L310.5 109.77L311.0 109.72L311.5 109.68L312.0 109.63L312.5 109.59L313.0 109.55L313.5 109.51L314.0 109.47L314.5 109.42L315.0 109.38L315.5 109.34L316.0 109.30L316.5 109.26L317.0 109.22L317.5 109.18L318.0 109.14L318.5 109.10L319.0 109.06L319.5 109.02L320.0 108.99L320.5 108.95L321.0 108.91L321.5 108.87L322.0 108.84L322.5 108.80L323.0 108.76L323.5 108.73L324.0 108.69L324.5 108.65L325.0 108.62L325.5 108.58L326.0 108.55L326.5 108.51L327.0 108.48L327.5 108.45L328.0 108.41L328.5 108.38L329.0 108.34L329.5 108.31L330.0 108.28L330.5 108.24L331.0 108.21L331.5 108.18L332.0 108.15L332.5 108.12L333.0 108.08L333.5 108.05L334.0 108.02L334.5 107.99L335.0 107.96L335.5 107.93L336.0 107.90L336.5 107.87L337.0 107.84L337.5 107.81L338.0 107.78L338.5 107.75L339.0 107.72L339.5 107.69L340.0 107.66L340.5 107.63L341.0 107.60L341.5 107.57L342.0 107.55L342.5 107.52L343.0 107.49L343.5 107.46L344.0 107.44L344.5 107.41L345.0 107.38L345.5 107.35L346.0 107.33L346.5 107.30L347.0 107.27L347.5 107.25L348.0 107.22L348.5 107.19L349.0 107.17L349.5 107.14L350.0 107.12L350.5 107.09L351.0 107.07L351.5 107.04L352.0 107.02L352.5 106.99L353.0 106.97L353.5 106.94L354.0 106.92L354.5 106.89L355.0 106.87L355.5 106.85L356.0 106.82L356.5 106.80L357.0 106.77L357.5 106.75L358.0 106.73L358.5 106.70L359.0 106.68L359.5 106.66L360.0 106.63L360.5 106.61L361.0 106.59L361.5 106.57L362.0 106.54L362.5 106.52L363.0 106.50L363.5 106.48L364.0 106.46L364.5 106.43L365.0 106.41L365.5 106.39L366.0 106.37L366.5 106.35L367.0 106.33L367.5 106.31L368.0 106.29L368.5 106.26L369.0 106.24L369.5 106.22L370.0 106.20L370.5 106.18L371.0 106.16L371.5 106.14L372.0 106.12L372.5 106.10L373.0 106.08L373.5 106.06L374.0 106.04L374.5 106.02L375.0 106.00L375.5 105.98L376.0 105.96L376.5 105.94L377.0 105.93L377.5 105.91L378.0 105.89L378.5 105.87L379.0 105.85L379.5 105.83L380.0 105.81L380.5 105.79L381.0 105.78L381.5 105.76L382.0 105.74L382.5 105.72L383.0 105.70L383.5 105.69L384.0 105.67L384.5 105.65L385.0 105.63L385.5 105.62L386.0 105.60L386.5 105.58L387.0 105.56L387.5 105.55L388.0 105.53L388.5 105.51L389.0 105.50L389.5 105.48L390.0 105.46L390.5 105.45L391.0 105.43L391.5 105.41L392.0 105.40L392.5 105.38L393.0 105.36L393.5 105.35L394.0 105.33L394.5 105.32L395.0 105.30L395.5 105.28L396.0 105.27L396.5 105.25L397.0 105.24L397.5 105.22L398.0 105.21L398.5 105.19L399.0 105.18L399.5 105.16L400.0 105.15L400.5 105.13L401.0 105.12L401.5 105.10L402.0 105.09L402.5 105.07L403.0 105.06L403.5 105.04L404.0 105.03L404.5 105.02L405.0 105.00L405.5 104.99L406.0 104.97L406.5 104.96L407.0 104.95L407.5 104.93L408.0 104.92L408.5 104.91L409.0 104.89L409.5 104.88L410.0 104.87L410.5 104.85L411.0 104.84L411.5 104.83L412.0 104.81L412.5 104.80L413.0 104.79L413.5 104.77L414.0 104.76L414.5 104.75L415.0 104.74L415.5 104.72L416.0 104.71L416.5 104.70L417.0 104.69L417.5 104.68L418.0 104.66L418.5 104.65L419.0 104.64L419.5 104.63L420.0 104.62L420.5 104.61L421.0 104.59L421.5 104.58L422.0 104.57L422.5 104.56L423.0 104.55L423.5 104.54L424.0 104.53L424.5 104.52L425.0 104.51L425.5 104.49L426.0 104.48L426.5 104.47L427.0 104.46L427.5 104.45L428.0 104.44L428.5 104.43L429.0 104.42L429.5 104.41L430.0 104.40L430.5 104.39L431.0 104.38L431.5 104.37L432.0 104.36L432.5 104.35L433.0 104.34L433.5 104.33L434.0 104.33L434.5 104.32L435.0 104.31L435.5 104.30L436.0 104.29L436.5 104.28L437.0 104.27L437.5 104.26L438.0 104.25L438.5 104.25L439.0 104.24L439.5 104.23L440.0 104.22L440.5 104.21L441.0 104.20L441.5 104.20L442.0 104.19L442.5 104.18L443.0 104.17L443.5 104.16L444.0 104.16L444.5 104.15L445.0 104.14L445.5 104.13L446.0 104.13L446.5 104.12L447.0 104.11L447.5 104.10L448.0 104.10L448.5 104.09L449.0 104.08L449.5 104.08L450.0 104.07L450.5 104.06L451.0 104.06L451.5 104.05L452.0 104.04L452.5 104.04L453.0 104.03L453.5 104.02L454.0 104.02L454.5 104.01L455.0 104.00L455.5 104.00L456.0 103.99L456.5 103.99L457.0 103.98L457.5 103.97L458.0 103.97L458.5 103.96L459.0 103.96L459.5 103.95L460.0 103.95L460.5 103.94L461.0 103.94L461.5 103.93L462.0 103.92L462.5 103.92L463.0 103.91L463.5 103.91L464.0 103.90L464.5 103.90L465.0 103.89L465.5 103.89L466.0 103.88L466.5 103.88L467.0 103.88L467.5 103.87L468.0 103.87L468.5 103.86L469.0 103.86L469.5 103.85L470.0 103.85L470.5 103.84L471.0 103.84L471.5 103.84L472.0 103.83L472.5 103.83L473.0 103.82L473.5 103.82L474.0 103.82L474.5 103.81L475.0 103.81L475.5 103.80L476.0 103.80L476.5 103.80L477.0 103.79L477.5 103.79L478.0 103.79L478.5 103.78L479.0 103.78L479.5 103.78L480.0 103.77L480.5 103.77L481.0 103.77L481.5 103.76L482.0 103.76L482.5 103.76L483.0 103.75L483.5 103.75L484.0 103.75L484.5 103.75L485.0 103.74L485.5 103.74L486.0 103.74L486.5 103.73L487.0 103.73L487.5 103.73L488.0 103.73L488.5 103.72L489.0 103.72L489.5 103.72L490.0 103.72L490.5 103.71L491.0 103.71L491.5 103.71L492.0 103.71L492.5 103.70L493.0 103.70L493.5 103.70L494.0 103.70L494.5 103.69L495.0 103.69L495.5 103.69L496.0 103.69L496.5 103.69L497.0 103.68L497.5 103.68L498.0 103.68L498.5 103.68L499.0 103.68L499.5 103.67L500.0 103.67L500.5 103.67L501.0 103.67L501.5 103.67L502.0 103.66L502.5 103.66L503.0 103.66L503.5 103.66L504.0 103.66L504.5 103.66L505.0 103.65L505.5 103.65L506.0 103.65L506.5 103.65L507.0 103.65L507.5 103.65L508.0 103.64L508.5 103.64L509.0 103.64L509.5 103.64L510.0 103.64L510.5 103.64L511.0 103.64L511.5 103.63L512.0 103.63L512.5 103.63L513.0 103.63L513.5 103.63L514.0 103.63L514.5 103.63L515.0 103.63L515.5 103.62L516.0 103.62L516.5 103.62L517.0 103.62L517.5 103.62L518.0 103.62L518.5 103.62L519.0 103.62L519.5 103.62L520.0 103.61L520.5 103.61L521.0 103.61L521.5 103.61L522.0 103.61L522.5 103.61L523.0 103.61L523.5 103.61L524.0 103.61L524.5 103.61L525.0 103.61L525.5 103.60L526.0 103.60L526.5 103.60L527.0 103.60L527.5 103.60L528.0 103.60L528.5 103.60L529.0 103.60L529.5 103.60L530.0 103.60L530.5 103.60L531.0 103.60L531.5 103.59L532.0 103.59L532.5 103.59L533.0 103.59L533.5 103.59L534.0 103.59L534.5 103.59L535.0 103.59L535.5 103.59L536.0 103.59L536.5 103.59L537.0 103.59L537.5 103.59L538.0 103.59L538.5 103.59L539.0 103.58L539.5 103.58L540.0 103.58L540.5 103.58L541.0 103.58L541.5 103.58L542.0 103.58L542.5 103.58L543.0 103.58L543.5 103.58L544.0 103.58L544.5 103.58L545.0 103.58L545.5 103.58L546.0 103.58L546.5 103.58L547.0 103.58L547.5 103.58L548.0 103.58L548.5 103.58L549.0 103.58L549.5 103.57L550.0 103.57L550.5 103.57L551.0 103.57L551.5 103.57L552.0 103.57L552.5 103.57L553.0 103.57L553.5 103.57L554.0 103.57L554.5 103.57L555.0 103.57L555.5 103.57L556.0 103.57L556.5 103.57L557.0 103.57L557.5 103.57L558.0 103.57L558.5 103.57L559.0 103.57L559.5 103.57L560.0 103.57L560.5 103.57L561.0 103.57L561.5 103.57L562.0 103.57L562.5 103.57L563.0 103.57L563.5 103.57L564.0 103.56L564.5 103.56L565.0 103.56L565.5 103.56L566.0 103.56L566.5 103.56L567.0 103.56L567.5 103.56L568.0 103.56L568.5 103.56L569.0 103.56L569.5 103.56L570.0 103.56L570.5 103.56L571.0 103.56L571.5 103.56L572.0 103.56L572.5 103.56L573.0 103.56L573.5 103.56L574.0 103.56L574.5 103.56L575.0 103.56L575.5 103.56L576.0 103.56L576.5 103.56L577.0 103.56L577.5 103.56L578.0 103.56L578.5 103.56L579.0 103.56L579.5 103.56L580.0 103.56L580.5 103.56L581.0 103.56L581.5 103.56L582.0 103.56L582.5 103.56L583.0 103.56L583.5 103.56L584.0 103.56L584.5 103.56L585.0 103.56L585.5 103.56L586.0 103.56L586.5 103.56L587.0 103.56L587.5 103.56L588.0 103.56L588.5 103.56L589.0 103.56L589.5 103.56L590.0 103.56L590.5 103.56L591.0 103.56L591.5 103.56L592.0 103.56L592.5 103.55L593.0 103.55L593.5 103.55L594.0 103.55L594.5 103.55L595.0 103.55L595.5 103.55L596.0 103.55L596.5 103.55L597.0 103.55L597.5 103.55L598.0 103.55L598.5 103.55L599.0 103.55L599.5 103.55L600.0 103.55L600.5 103.55L601.0 103.55L601.5 103.55L602.0 103.55L602.5 103.55L603.0 103.55L603.5 103.55L604.0 103.55L604.5 103.55L605.0 103.55L605.5 103.55L606.0 103.55L606.5 103.55L607.0 103.55L607.5 103.55L608.0 103.55L608.5 103.55L609.0 103.55L609.5 103.55L610.0 103.55L610.5 103.55L611.0 103.55L611.5 103.55L612.0 103.55L612.5 103.55L613.0 103.55L613.5 103.55L614.0 103.55L614.5 103.55L615.0 103.55L615.5 103.55L616.0 103.55L616.5 103.55L617.0 103.55L617.5 103.55L618.0 103.55L618.5 103.55L619.0 103.55L619.5 103.55L620.0 103.55L620.5 103.55L621.0 103.55L621.5 103.55L622.0 103.55L622.5 103.55L623.0 103.55L623.5 103.55L624.0 103.55L624.5 103.55L625.0 103.55L625.5 103.55L626.0 103.55L626.5 103.55L627.0 103.55L627.5 103.55L628.0 103.55L628.5 103.55L629.0 103.55L629.5 103.55L630.0 103.55L630.5 103.55L631.0 103.55L631.5 103.55L632.0 103.55L632.5 103.55L633.0 103.55L633.5 103.55L634.0 103.55L634.5 103.55L635.0 103.55L635.5 103.55L636.0 103.55L636.5 103.55L637.0 103.55L637.5 103.55L638.0 103.55L638.5 103.55L639.0 103.55L639.5 103.55L640.0 103.55L640.5 103.55L641.0 103.55L641.5 103.55L642.0 103.55L642.5 103.55L643.0 103.55L643.5 103.55L644.0 103.55L644.5 103.55L645.0 103.55L645.5 103.55L646.0 103.55L646.5 103.55L647.0 103.55L647.5 103.55L648.0 103.55L648.5 103.55L649.0 103.55L649.5 103.55L650.0 103.55L650.5 103.55L651.0 103.55L651.5 103.55L652.0 103.55L652.5 103.55L653.0 103.55L653.5 103.55L654.0 103.55L654.5 103.55L655.0 103.55L655.5 103.55L656.0 103.55L656.5 103.55L657.0 103.55L657.5 103.55L658.0 103.55L658.5 103.55L659.0 103.55L659.5 103.55L660.0 103.55L660.5 103.56L661.0 103.56L661.5 103.56L662.0 103.56L662.5 103.56L663.0 103.56L663.5 103.56L664.0 103.56L664.5 103.56L665.0 103.57L665.5 103.57L666.0 103.57L666.5 103.57L667.0 103.57L667.5 103.58L668.0 103.58L668.5 103.58L669.0 103.58L669.5 103.59L670.0 103.59L670.5 103.60L671.0 103.60L671.5 103.60L672.0 103.61L672.5 103.62L673.0 103.62L673.5 103.63L674.0 103.63L674.5 103.64L675.0 103.65L675.5 103.66L676.0 103.67L676.5 103.68L677.0 103.69L677.5 103.70L678.0 103.71L678.5 103.72L679.0 103.74L679.5 103.75L680.0 103.76L680.5 103.78L681.0 103.80L681.5 103.82L682.0 103.84L682.5 103.86L683.0 103.88L683.5 103.90L684.0 103.92L684.5 103.95L685.0 103.98L685.5 104.00L686.0 104.03L686.5 104.06L687.0 104.09L687.5 104.13L688.0 104.16L688.5 104.19L689.0 104.23L689.5 104.27L690.0 104.31L690.5 104.35L691.0 104.39L691.5 104.43L692.0 104.48L692.5 104.52L693.0 104.57L693.5 104.61L694.0 104.66L694.5 104.71L695.0 104.76L695.5 104.81L696.0 104.86L696.5 104.92L697.0 104.97L697.5 105.02L698.0 105.08L698.5 105.14L699.0 105.19L699.5 105.25L700.0 105.31L700.5 105.36L701.0 105.42L701.5 105.48L702.0 105.54L702.5 105.60L703.0 105.66L703.5 105.72L704.0 105.78L704.5 105.84L705.0 105.90L705.5 105.97L706.0 106.03L706.5 106.09L707.0 106.15L707.5 106.21L708.0 106.28L708.5 106.34L709.0 106.40L709.5 106.46L710.0 106.53L710.5 106.59L711.0 106.65L711.5 106.71L712.0 106.78L712.5 106.84L713.0 106.90L713.5 106.97L714.0 107.03L714.5 107.09L715.0 107.16L715.5 107.22L716.0 107.28L716.5 107.35L717.0 107.41L717.5 107.48L718.0 107.54L718.5 107.60L719.0 107.67L719.5 107.73L720.0 107.80L720.5 107.86L721.0 107.93L721.5 107.99L722.0 108.06L722.5 108.12L723.0 108.19L723.5 108.25L724.0 108.32L724.5 108.38L725.0 108.45L725.5 108.52L726.0 108.59L726.5 108.66L727.0 108.73L727.5 108.80L728.0 108.87L728.5 108.94L729.0 109.02L729.5 109.10L730.0 109.18L730.5 109.26L731.0 109.34L731.5 109.42L732.0 109.51L732.5 109.59L733.0 109.68L733.5 109.78L734.0 109.87L734.5 109.97L735.0 110.07L735.5 110.17L736.0 110.27L736.5 110.38L737.0 110.49L737.5 110.60L738.0 110.72L738.5 110.83L739.0 110.96L739.5 111.08L740.0 111.21L740.5 111.34L741.0 111.48L741.5 111.62L742.0 111.76L742.5 111.90L743.0 112.05L743.5 112.20L744.0 112.36L744.5 112.52L745.0 112.68L745.5 112.85L746.0 113.02L746.5 113.19L747.0 113.36L747.5 113.54L748.0 113.72L748.5 113.91L749.0 114.10L749.5 114.29L750.0 114.48L750.5 114.68L751.0 114.88L751.5 115.08L752.0 115.29L752.5 115.50L753.0 115.72L753.5 115.93L754.0 116.15L754.5 116.38L755.0 116.61L755.5 116.84L756.0 117.08L756.5 117.32L757.0 117.57L757.5 117.83L758.0 118.09L758.5 118.36L759.0 118.64L759.5 118.92L760.0 119.21L760.5 119.51L761.0 119.82L761.5 120.13L762.0 120.45L762.5 120.79L763.0 121.13L763.5 121.48L764.0 121.84L764.5 122.21L765.0 122.59L765.5 122.98L766.0 123.38L766.5 123.78L767.0 124.20L767.5 124.61L768.0 125.04L768.5 125.47L769.0 125.91L769.5 126.35L770.0 126.79L770.5 127.24L771.0 127.70L771.5 128.16L772.0 128.62L772.5 129.08L773.0 129.54L773.5 130.01L774.0 130.48L774.5 130.95L775.0 131.43L775.5 131.92L776.0 132.42L776.5 132.92L777.0 133.43L777.5 133.95L778.0 134.48L778.5 135.03L779.0 135.58L779.5 136.15L780.0 136.73L780.5 137.33L781.0 137.95L781.5 138.58L782.0 139.22L782.5 139.88L783.0 140.56L783.5 141.25L784.0 141.95L784.5 142.66L785.0 143.39L785.5 144.12L786.0 144.87L786.5 145.63L787.0 146.40L787.5 147.18L788.0 147.97L788.5 148.76L789.0 149.57L789.5 150.38L790.0 151.21L790.5 152.04L791.0 152.88L791.5 153.73L792.0 154.59L792.5 155.46L793.0 156.34L793.5 157.23L794.0 158.13L794.5 159.04L795.0 159.96L795.5 160.89L796.0 161.83L796.5 162.79L797.0 163.77L797.5 164.76L798.0 165.78L798.5 166.81L799.0 167.86L799.5 168.93L800.0 170.02L800.5 171.12L801.0 172.24L801.5 173.36L802.0 174.49L802.5 175.62L803.0 176.76L803.5 177.90L804.0 179.04L804.5 180.18L805.0 181.32L805.5 182.46L806.0 183.60L806.5 184.74L807.0 185.88L807.5 187.01L808.0 188.15L808.5 189.28L809.0 190.41L809.5 191.54L810.0 192.67L810.5 193.79L811.0 194.92L811.5 196.04L812.0 197.16L812.5 198.28L813.0 199.40L813.5 200.52L814.0 201.63L814.5 202.75L815.0 203.86L815.5 204.98L816.0 206.09L816.5 207.21L817.0 208.33L817.5 209.46L818.0 210.59L818.5 211.72L819.0 212.87L819.5 214.02L820.0 215.18L820.5 216.35L821.0 217.52L821.5 218.71L822.0 219.91L822.5 221.13L823.0 222.35L823.5 223.59L824.0 224.84L824.5 226.10L825.0 227.38L825.5 228.68L826.0 229.99L826.5 231.32L827.0 232.66L827.5 234.02L828.0 235.40L828.5 236.80L829.0 238.22L829.5 239.66L830.0 241.11L830.5 242.58L831.0 244.07L831.5 245.56L832.0 247.08L832.5 248.60L833.0 250.13L833.5 251.67L834.0 253.22L834.5 254.78L835.0 256.34L835.5 257.90L836.0 259.47L836.5 261.06L837.0 262.64L837.5 264.24L838.0 265.85L838.5 267.47L839.0 269.10L839.5 270.75L840.0 272.41L840.5 274.08L841.0 275.77L841.5 277.47L842.0 279.20L842.5 280.94L843.0 282.70L843.5 284.48L844.0 286.28L844.5 288.11L845.0 289.96L845.5 291.83L846.0 293.72L846.5 295.65L847.0 297.60L847.5 299.58L848.0 301.60L848.5 303.65L849.0 305.75L849.5 307.89L850.0 310.08L850.5 312.32L851.0 314.59L851.5 316.89L852.0 319.21L852.5 321.53L853.0 323.85L853.5 326.15L854.0 328.45L854.5 330.75L855.0 333.07L855.5 335.40L856.0 337.70L856.5 339.95L857.0 342.13L857.5 344.21L858.0 346.20L858.5 348.09L859.0 349.89L859.5 351.60L860.0 353.22L860.5 354.76L861.0 356.22L861.5 357.61L862.0 358.92L862.5 360.17L863.0 361.34L863.5 362.43L864.0 363.45L864.5 364.39L865.0 365.25L865.5 366.03L866.0 366.73L866.5 367.35L867.0 367.89L867.5 368.36L868.0 368.75L868.5 369.08L869.0 369.35L869.5 369.56L870.0 369.70L870.5 369.80L871.0 369.84L871.5 369.83L872.0 369.76L872.5 369.62L873.0 369.42L873.5 369.14L874.0 368.78L874.5 368.32L875.0 367.78L875.5 367.13L876.0 366.38L876.5 365.51L877.0 364.53L877.5 363.41L878.0 362.15L878.5 360.75L879.0 359.20L879.5 357.48L880.0 355.63L880.5 353.69L881.0 351.72L881.5 349.77L882.0 347.89L882.5 346.06L883.0 344.26L883.5 342.49L884.0 340.73L884.5 339.00L885.0 337.30L885.5 335.68L886.0 334.13L886.5 332.70L887.0 331.39L887.5 330.22L888.0 329.20L888.5 328.32L889.0 327.59L889.5 326.99L890.0 326.52L890.5 326.18L891.0 325.95L891.5 325.83L892.0 325.82L892.5 325.90L893.0 326.06L893.5 326.30L894.0 326.60L894.5 326.95L895.0 327.33L895.5 327.75L896.0 328.18L896.5 328.62L897.0 329.05L897.5 329.47L898.0 329.88L898.5 330.27L899.0 330.64L899.5 330.99L900.0 331.32L900.5 331.61L901.0 331.86L901.5 332.08L902.0 332.26L902.5 332.40L903.0 332.48L903.5 332.52L904.0 332.52L904.5 332.47L905.0 332.39L905.5 332.27L906.0 332.11L906.5 331.94L907.0 331.73L907.5 331.51L908.0 331.26L908.5 331.00L909.0 330.73L909.5 330.45L910.0 330.16L910.5 329.87L911.0 329.57L911.5 329.27L912.0 328.95L912.5 328.63L913.0 328.31L913.5 327.97L914.0 327.62L914.5 327.27L915.0 326.90L915.5 326.52L916.0 326.14L916.5 325.73L917.0 325.32L917.5 324.89L918.0 324.45L918.5 323.98L919.0 323.50L919.5 322.99L920.0 322.46L920.5 321.90L921.0 321.31L921.5 320.69L922.0 320.04L922.5 319.36L923.0 318.64L923.5 317.88L924.0 317.08L924.5 316.24L925.0 315.37L925.5 314.47L926.0 313.54L926.5 312.59L927.0 311.61L927.5 310.62L928.0 309.61L928.5 308.59L929.0 307.55L929.5 306.52L930.0 305.47" stroke="#dc1818" stroke-width="2.3"/>
<path d="M109.5 193.86L110.0 193.25L110.5 192.64L111.0 192.03L111.5 191.42L112.0 190.81L112.5 190.20L113.0 189.60L113.5 188.99L114.0 188.39L114.5 187.79L115.0 187.19L115.5 186.59L116.0 185.99L116.5 185.40L117.0 184.80L117.5 184.21L118.0 183.62L118.5 183.03L119.0 182.44L119.5 181.85L120.0 181.26L120.5 180.68L121.0 180.09L121.5 179.51L122.0 178.93L122.5 178.35L123.0 177.78L123.5 177.20L124.0 176.62L124.5 176.05L125.0 175.48L125.5 174.91L126.0 174.34L126.5 173.77L127.0 173.21L127.5 172.64L128.0 172.08L128.5 171.52L129.0 170.96L129.5 170.40L130.0 169.85L130.5 169.29L131.0 168.74L131.5 168.19L132.0 167.64L132.5 167.09L133.0 166.55L133.5 166.00L134.0 165.46L134.5 164.92L135.0 164.38L135.5 163.84L136.0 163.30L136.5 162.77L137.0 162.23L137.5 161.70L138.0 161.17L138.5 160.64L139.0 160.12L139.5 159.59L140.0 159.07L140.5 158.55L141.0 158.03L141.5 157.51L142.0 157.00L142.5 156.48L143.0 155.97L143.5 155.46L144.0 154.95L144.5 154.45L145.0 153.94L145.5 153.44L146.0 152.94L146.5 152.44L147.0 151.94L147.5 151.44L148.0 150.95L148.5 150.46L149.0 149.97L149.5 149.48L150.0 148.99L150.5 148.51L151.0 148.03L151.5 147.55L152.0 147.07L152.5 146.59L153.0 146.11L153.5 145.64L154.0 145.17L154.5 144.70L155.0 144.23L155.5 143.77L156.0 143.30L156.5 142.84L157.0 142.38L157.5 141.93L158.0 141.47L158.5 141.02L159.0 140.57L159.5 140.12L160.0 139.67L160.5 139.22L161.0 138.78L161.5 138.34L162.0 137.90L162.5 137.46L163.0 137.02L163.5 136.59L164.0 136.16L164.5 135.73L165.0 135.30L165.5 134.87L166.0 134.45L166.5 134.03L167.0 133.61L167.5 133.19L168.0 132.78L168.5 132.36L169.0 131.95L169.5 131.54L170.0 131.13L170.5 130.73L171.0 130.33L171.5 129.92L172.0 129.52L172.5 129.13L173.0 128.73L173.5 128.34L174.0 127.95L174.5 127.56L175.0 127.17L175.5 126.79L176.0 126.40L176.5 126.02L177.0 125.64L177.5 125.27L178.0 124.89L178.5 124.52L179.0 124.15L179.5 123.78L180.0 123.41L180.5 123.05L181.0 122.69L181.5 122.33L182.0 121.97L182.5 121.61L183.0 121.26L183.5 120.90L184.0 120.55L184.5 120.21L185.0 119.86L185.5 119.52L186.0 119.17L186.5 118.83L187.0 118.50L187.5 118.16L188.0 117.83L188.5 117.49L189.0 117.16L189.5 116.84L190.0 116.51L190.5 116.19L191.0 115.86L191.5 115.54L192.0 115.23L192.5 114.91L193.0 114.60L193.5 114.28L194.0 113.97L194.5 113.67L195.0 113.36L195.5 113.06L196.0 112.75L196.5 112.45L197.0 112.15L197.5 111.86L198.0 111.56L198.5 111.27L199.0 110.98L199.5 110.69L200.0 110.41L200.5 110.12L201.0 109.84L201.5 109.56L202.0 109.28L202.5 109.00L203.0 108.73L203.5 108.45L204.0 108.18L204.5 107.91L205.0 107.64L205.5 107.38L206.0 107.11L206.5 106.85L207.0 106.59L207.5 106.33L208.0 106.08L208.5 105.82L209.0 105.57L209.5 105.32L210.0 105.07L210.5 104.82L211.0 104.57L211.5 104.33L212.0 104.09L212.5 103.85L213.0 103.61L213.5 103.37L214.0 103.13L214.5 102.90L215.0 102.67L215.5 102.44L216.0 102.21L216.5 101.98L217.0 101.76L217.5 101.54L218.0 101.31L218.5 101.09L219.0 100.88L219.5 100.66L220.0 100.44L220.5 100.23L221.0 100.02L221.5 99.81L222.0 99.60L222.5 99.39L223.0 99.19L223.5 98.98L224.0 98.78L224.5 98.58L225.0 98.38L225.5 98.19L226.0 97.99L226.5 97.80L227.0 97.60L227.5 97.41L228.0 97.22L228.5 97.03L229.0 96.85L229.5 96.66L230.0 96.48L230.5 96.30L231.0 96.12L231.5 95.94L232.0 95.76L232.5 95.58L233.0 95.41L233.5 95.23L234.0 95.06L234.5 94.89L235.0 94.72L235.5 94.55L236.0 94.39L236.5 94.22L237.0 94.06L237.5 93.89L238.0 93.73L238.5 93.57L239.0 93.42L239.5 93.26L240.0 93.10L240.5 92.95L241.0 92.79L241.5 92.64L242.0 92.49L242.5 92.34L243.0 92.19L243.5 92.05L244.0 91.90L244.5 91.76L245.0 91.61L245.5 91.47L246.0 91.33L246.5 91.19L247.0 91.05L247.5 90.92L248.0 90.78L248.5 90.65L249.0 90.51L249.5 90.38L250.0 90.25L250.5 90.12L251.0 89.99L251.5 89.86L252.0 89.73L252.5 89.61L253.0 89.48L253.5 89.36L254.0 89.24L254.5 89.12L255.0 89.00L255.5 88.88L256.0 88.76L256.5 88.64L257.0 88.52L257.5 88.41L258.0 88.29L258.5 88.18L259.0 88.07L259.5 87.96L260.0 87.85L260.5 87.74L261.0 87.63L261.5 87.52L262.0 87.42L262.5 87.31L263.0 87.21L263.5 87.10L264.0 87.00L264.5 86.90L265.0 86.80L265.5 86.70L266.0 86.60L266.5 86.50L267.0 86.40L267.5 86.31L268.0 86.21L268.5 86.11L269.0 86.02L269.5 85.93L270.0 85.84L270.5 85.74L271.0 85.65L271.5 85.56L272.0 85.47L272.5 85.39L273.0 85.30L273.5 85.21L274.0 85.13L274.5 85.04L275.0 84.96L275.5 84.87L276.0 84.79L276.5 84.71L277.0 84.63L277.5 84.55L278.0 84.47L278.5 84.39L279.0 84.31L279.5 84.23L280.0 84.15L280.5 84.08L281.0 84.00L281.5 83.93L282.0 83.85L282.5 83.78L283.0 83.71L283.5 83.63L284.0 83.56L284.5 83.49L285.0 83.42L285.5 83.35L286.0 83.28L286.5 83.21L287.0 83.15L287.5 83.08L288.0 83.01L288.5 82.95L289.0 82.88L289.5 82.81L290.0 82.75L290.5 82.69L291.0 82.62L291.5 82.56L292.0 82.50L292.5 82.44L293.0 82.38L293.5 82.32L294.0 82.26L294.5 82.20L295.0 82.14L295.5 82.08L296.0 82.02L296.5 81.96L297.0 81.91L297.5 81.85L298.0 81.80L298.5 81.74L299.0 81.69L299.5 81.63L300.0 81.58L300.5 81.52L301.0 81.47L301.5 81.42L302.0 81.37L302.5 81.32L303.0 81.27L303.5 81.21L304.0 81.16L304.5 81.12L305.0 81.07L305.5 81.02L306.0 80.97L306.5 80.92L307.0 80.87L307.5 80.83L308.0 80.78L308.5 80.73L309.0 80.69L309.5 80.64L310.0 80.60L310.5 80.55L311.0 80.51L311.5 80.46L312.0 80.42L312.5 80.38L313.0 80.34L313.5 80.29L314.0 80.25L314.5 80.21L315.0 80.17L315.5 80.13L316.0 80.09L316.5 80.05L317.0 80.01L317.5 79.97L318.0 79.93L318.5 79.89L319.0 79.85L319.5 79.81L320.0 79.77L320.5 79.74L321.0 79.70L321.5 79.66L322.0 79.63L322.5 79.59L323.0 79.55L323.5 79.52L324.0 79.48L324.5 79.45L325.0 79.41L325.5 79.38L326.0 79.34L326.5 79.31L327.0 79.28L327.5 79.24L328.0 79.21L328.5 79.18L329.0 79.14L329.5 79.11L330.0 79.08L330.5 79.05L331.0 79.02L331.5 78.99L332.0 78.95L332.5 78.92L333.0 78.89L333.5 78.86L334.0 78.83L334.5 78.80L335.0 78.77L335.5 78.74L336.0 78.72L336.5 78.69L337.0 78.66L337.5 78.63L338.0 78.60L338.5 78.57L339.0 78.55L339.5 78.52L340.0 78.49L340.5 78.46L341.0 78.44L341.5 78.41L342.0 78.38L342.5 78.36L343.0 78.33L343.5 78.31L344.0 78.28L344.5 78.26L345.0 78.23L345.5 78.21L346.0 78.18L346.5 78.16L347.0 78.13L347.5 78.11L348.0 78.08L348.5 78.06L349.0 78.04L349.5 78.01L350.0 77.99L350.5 77.97L351.0 77.94L351.5 77.92L352.0 77.90L352.5 77.88L353.0 77.85L353.5 77.83L354.0 77.81L354.5 77.79L355.0 77.77L355.5 77.74L356.0 77.72L356.5 77.70L357.0 77.68L357.5 77.66L358.0 77.64L358.5 77.62L359.0 77.60L359.5 77.58L360.0 77.56L360.5 77.54L361.0 77.52L361.5 77.50L362.0 77.48L362.5 77.46L363.0 77.44L363.5 77.42L364.0 77.40L364.5 77.38L365.0 77.36L365.5 77.34L366.0 77.33L366.5 77.31L367.0 77.29L367.5 77.27L368.0 77.25L368.5 77.23L369.0 77.22L369.5 77.20L370.0 77.18L370.5 77.16L371.0 77.15L371.5 77.13L372.0 77.11L372.5 77.09L373.0 77.08L373.5 77.06L374.0 77.04L374.5 77.03L375.0 77.01L375.5 76.99L376.0 76.98L376.5 76.96L377.0 76.95L377.5 76.93L378.0 76.91L378.5 76.90L379.0 76.88L379.5 76.87L380.0 76.85L380.5 76.84L381.0 76.82L381.5 76.81L382.0 76.79L382.5 76.77L383.0 76.76L383.5 76.75L384.0 76.73L384.5 76.72L385.0 76.70L385.5 76.69L386.0 76.67L386.5 76.66L387.0 76.64L387.5 76.63L388.0 76.61L388.5 76.60L389.0 76.59L389.5 76.57L390.0 76.56L390.5 76.55L391.0 76.53L391.5 76.52L392.0 76.50L392.5 76.49L393.0 76.48L393.5 76.46L394.0 76.45L394.5 76.44L395.0 76.43L395.5 76.41L396.0 76.40L396.5 76.39L397.0 76.37L397.5 76.36L398.0 76.35L398.5 76.34L399.0 76.32L399.5 76.31L400.0 76.30L400.5 76.29L401.0 76.27L401.5 76.26L402.0 76.25L402.5 76.24L403.0 76.22L403.5 76.21L404.0 76.20L404.5 76.19L405.0 76.18L405.5 76.17L406.0 76.15L406.5 76.14L407.0 76.13L407.5 76.12L408.0 76.11L408.5 76.10L409.0 76.09L409.5 76.07L410.0 76.06L410.5 76.05L411.0 76.04L411.5 76.03L412.0 76.02L412.5 76.01L413.0 76.00L413.5 75.99L414.0 75.97L414.5 75.96L415.0 75.95L415.5 75.94L416.0 75.93L416.5 75.92L417.0 75.91L417.5 75.90L418.0 75.89L418.5 75.88L419.0 75.87L419.5 75.86L420.0 75.85L420.5 75.84L421.0 75.83L421.5 75.82L422.0 75.81L422.5 75.80L423.0 75.79L423.5 75.78L424.0 75.77L424.5 75.76L425.0 75.75L425.5 75.74L426.0 75.73L426.5 75.72L427.0 75.71L427.5 75.70L428.0 75.69L428.5 75.68L429.0 75.67L429.5 75.66L430.0 75.65L430.5 75.64L431.0 75.64L431.5 75.63L432.0 75.62L432.5 75.61L433.0 75.60L433.5 75.59L434.0 75.58L434.5 75.57L435.0 75.56L435.5 75.55L436.0 75.54L436.5 75.54L437.0 75.53L437.5 75.52L438.0 75.51L438.5 75.50L439.0 75.49L439.5 75.48L440.0 75.48L440.5 75.47L441.0 75.46L441.5 75.45L442.0 75.44L442.5 75.43L443.0 75.42L443.5 75.42L444.0 75.41L444.5 75.40L445.0 75.39L445.5 75.38L446.0 75.38L446.5 75.37L447.0 75.36L447.5 75.35L448.0 75.34L448.5 75.34L449.0 75.33L449.5 75.32L450.0 75.31L450.5 75.30L451.0 75.30L451.5 75.29L452.0 75.28L452.5 75.27L453.0 75.27L453.5 75.26L454.0 75.25L454.5 75.24L455.0 75.24L455.5 75.23L456.0 75.22L456.5 75.21L457.0 75.21L457.5 75.20L458.0 75.19L458.5 75.19L459.0 75.18L459.5 75.17L460.0 75.16L460.5 75.16L461.0 75.15L461.5 75.14L462.0 75.14L462.5 75.13L463.0 75.12L463.5 75.12L464.0 75.11L464.5 75.10L465.0 75.10L465.5 75.09L466.0 75.08L466.5 75.08L467.0 75.07L467.5 75.06L468.0 75.06L468.5 75.05L469.0 75.04L469.5 75.04L470.0 75.03L470.5 75.02L471.0 75.02L471.5 75.01L472.0 75.01L472.5 75.00L473.0 74.99L473.5 74.99L474.0 74.98L474.5 74.98L475.0 74.97L475.5 74.96L476.0 74.96L476.5 74.95L477.0 74.95L477.5 74.94L478.0 74.94L478.5 74.93L479.0 74.92L479.5 74.92L480.0 74.91L480.5 74.91L481.0 74.90L481.5 74.90L482.0 74.89L482.5 74.89L483.0 74.88L483.5 74.88L484.0 74.87L484.5 74.86L485.0 74.86L485.5 74.85L486.0 74.85L486.5 74.84L487.0 74.84L487.5 74.83L488.0 74.83L488.5 74.82L489.0 74.82L489.5 74.81L490.0 74.81L490.5 74.81L491.0 74.80L491.5 74.80L492.0 74.79L492.5 74.79L493.0 74.78L493.5 74.78L494.0 74.77L494.5 74.77L495.0 74.76L495.5 74.76L496.0 74.76L496.5 74.75L497.0 74.75L497.5 74.74L498.0 74.74L498.5 74.73L499.0 74.73L499.5 74.73L500.0 74.72L500.5 74.72L501.0 74.71L501.5 74.71L502.0 74.71L502.5 74.70L503.0 74.70L503.5 74.70L504.0 74.69L504.5 74.69L505.0 74.68L505.5 74.68L506.0 74.68L506.5 74.67L507.0 74.67L507.5 74.67L508.0 74.66L508.5 74.66L509.0 74.66L509.5 74.65L510.0 74.65L510.5 74.65L511.0 74.64L511.5 74.64L512.0 74.64L512.5 74.63L513.0 74.63L513.5 74.63L514.0 74.62L514.5 74.62L515.0 74.62L515.5 74.62L516.0 74.61L516.5 74.61L517.0 74.61L517.5 74.60L518.0 74.60L518.5 74.60L519.0 74.60L519.5 74.59L520.0 74.59L520.5 74.59L521.0 74.59L521.5 74.58L522.0 74.58L522.5 74.58L523.0 74.58L523.5 74.57L524.0 74.57L524.5 74.57L525.0 74.57L525.5 74.56L526.0 74.56L526.5 74.56L527.0 74.56L527.5 74.55L528.0 74.55L528.5 74.55L529.0 74.55L529.5 74.55L530.0 74.54L530.5 74.54L531.0 74.54L531.5 74.54L532.0 74.54L532.5 74.53L533.0 74.53L533.5 74.53L534.0 74.53L534.5 74.53L535.0 74.52L535.5 74.52L536.0 74.52L536.5 74.52L537.0 74.52L537.5 74.52L538.0 74.51L538.5 74.51L539.0 74.51L539.5 74.51L540.0 74.51L540.5 74.51L541.0 74.50L541.5 74.50L542.0 74.50L542.5 74.50L543.0 74.50L543.5 74.50L544.0 74.50L544.5 74.49L545.0 74.49L545.5 74.49L546.0 74.49L546.5 74.49L547.0 74.49L547.5 74.49L548.0 74.48L548.5 74.48L549.0 74.48L549.5 74.48L550.0 74.48L550.5 74.48L551.0 74.48L551.5 74.48L552.0 74.47L552.5 74.47L553.0 74.47L553.5 74.47L554.0 74.47L554.5 74.47L555.0 74.47L555.5 74.47L556.0 74.47L556.5 74.46L557.0 74.46L557.5 74.46L558.0 74.46L558.5 74.46L559.0 74.46L559.5 74.46L560.0 74.46L560.5 74.46L561.0 74.46L561.5 74.46L562.0 74.45L562.5 74.45L563.0 74.45L563.5 74.45L564.0 74.45L564.5 74.45L565.0 74.45L565.5 74.45L566.0 74.45L566.5 74.45L567.0 74.45L567.5 74.45L568.0 74.44L568.5 74.44L569.0 74.44L569.5 74.44L570.0 74.44L570.5 74.44L571.0 74.44L571.5 74.44L572.0 74.44L572.5 74.44L573.0 74.44L573.5 74.44L574.0 74.44L574.5 74.44L575.0 74.44L575.5 74.43L576.0 74.43L576.5 74.43L577.0 74.43L577.5 74.43L578.0 74.43L578.5 74.43L579.0 74.43L579.5 74.43L580.0 74.43L580.5 74.43L581.0 74.43L581.5 74.43L582.0 74.43L582.5 74.43L583.0 74.43L583.5 74.43L584.0 74.43L584.5 74.43L585.0 74.43L585.5 74.42L586.0 74.42L586.5 74.42L587.0 74.42L587.5 74.42L588.0 74.42L588.5 74.42L589.0 74.42L589.5 74.42L590.0 74.42L590.5 74.42L591.0 74.42L591.5 74.42L592.0 74.42L592.5 74.42L593.0 74.42L593.5 74.42L594.0 74.42L594.5 74.42L595.0 74.42L595.5 74.42L596.0 74.42L596.5 74.42L597.0 74.42L597.5 74.42L598.0 74.42L598.5 74.42L599.0 74.42L599.5 74.41L600.0 74.41L600.5 74.41L601.0 74.41L601.5 74.41L602.0 74.41L602.5 74.41L603.0 74.41L603.5 74.41L604.0 74.41L604.5 74.41L605.0 74.41L605.5 74.41L606.0 74.41L606.5 74.41L607.0 74.41L607.5 74.41L608.0 74.41L608.5 74.41L609.0 74.41L609.5 74.41L610.0 74.41L610.5 74.41L611.0 74.41L611.5 74.41L612.0 74.41L612.5 74.41L613.0 74.41L613.5 74.41L614.0 74.41L614.5 74.41L615.0 74.41L615.5 74.41L616.0 74.41L616.5 74.41L617.0 74.41L617.5 74.41L618.0 74.41L618.5 74.41L619.0 74.41L619.5 74.41L620.0 74.41L620.5 74.41L621.0 74.41L621.5 74.41L622.0 74.41L622.5 74.41L623.0 74.41L623.5 74.41L624.0 74.40L624.5 74.40L625.0 74.40L625.5 74.40L626.0 74.40L626.5 74.40L627.0 74.40L627.5 74.40L628.0 74.40L628.5 74.40L629.0 74.40L629.5 74.40L630.0 74.40L630.5 74.40L631.0 74.40L631.5 74.40L632.0 74.40L632.5 74.40L633.0 74.40L633.5 74.40L634.0 74.40L634.5 74.40L635.0 74.40L635.5 74.40L636.0 74.40L636.5 74.40L637.0 74.40L637.5 74.40L638.0 74.40L638.5 74.40L639.0 74.40L639.5 74.40L640.0 74.40L640.5 74.40L641.0 74.40L641.5 74.40L642.0 74.40L642.5 74.40L643.0 74.40L643.5 74.40L644.0 74.40L644.5 74.40L645.0 74.40L645.5 74.40L646.0 74.40L646.5 74.40L647.0 74.40L647.5 74.40L648.0 74.40L648.5 74.40L649.0 74.40L649.5 74.40L650.0 74.40L650.5 74.40L651.0 74.40L651.5 74.40L652.0 74.40L652.5 74.40L653.0 74.40L653.5 74.40L654.0 74.40L654.5 74.40L655.0 74.40L655.5 74.40L656.0 74.40L656.5 74.40L657.0 74.40L657.5 74.40L658.0 74.41L658.5 74.41L659.0 74.41L659.5 74.41L660.0 74.41L660.5 74.41L661.0 74.41L661.5 74.41L662.0 74.41L662.5 74.41L663.0 74.41L663.5 74.41L664.0 74.42L664.5 74.42L665.0 74.42L665.5 74.42L666.0 74.42L666.5 74.42L667.0 74.43L667.5 74.43L668.0 74.43L668.5 74.43L669.0 74.44L669.5 74.44L670.0 74.44L670.5 74.45L671.0 74.45L671.5 74.45L672.0 74.46L672.5 74.46L673.0 74.47L673.5 74.47L674.0 74.48L674.5 74.49L675.0 74.49L675.5 74.50L676.0 74.51L676.5 74.52L677.0 74.53L677.5 74.54L678.0 74.55L678.5 74.56L679.0 74.57L679.5 74.58L680.0 74.60L680.5 74.61L681.0 74.62L681.5 74.64L682.0 74.66L682.5 74.68L683.0 74.69L683.5 74.71L684.0 74.73L684.5 74.76L685.0 74.78L685.5 74.80L686.0 74.83L686.5 74.85L687.0 74.88L687.5 74.91L688.0 74.94L688.5 74.97L689.0 75.00L689.5 75.03L690.0 75.07L690.5 75.10L691.0 75.14L691.5 75.17L692.0 75.21L692.5 75.25L693.0 75.29L693.5 75.33L694.0 75.37L694.5 75.42L695.0 75.46L695.5 75.51L696.0 75.55L696.5 75.60L697.0 75.65L697.5 75.69L698.0 75.74L698.5 75.79L699.0 75.84L699.5 75.89L700.0 75.94L700.5 76.00L701.0 76.05L701.5 76.10L702.0 76.15L702.5 76.21L703.0 76.26L703.5 76.32L704.0 76.37L704.5 76.43L705.0 76.49L705.5 76.54L706.0 76.60L706.5 76.66L707.0 76.72L707.5 76.78L708.0 76.83L708.5 76.89L709.0 76.95L709.5 77.01L710.0 77.08L710.5 77.14L711.0 77.20L711.5 77.26L712.0 77.32L712.5 77.39L713.0 77.45L713.5 77.51L714.0 77.58L714.5 77.64L715.0 77.71L715.5 77.78L716.0 77.84L716.5 77.91L717.0 77.98L717.5 78.05L718.0 78.12L718.5 78.19L719.0 78.26L719.5 78.33L720.0 78.40L720.5 78.47L721.0 78.54L721.5 78.62L722.0 78.69L722.5 78.76L723.0 78.84L723.5 78.91L724.0 78.99L724.5 79.07L725.0 79.15L725.5 79.23L726.0 79.31L726.5 79.39L727.0 79.47L727.5 79.55L728.0 79.63L728.5 79.72L729.0 79.80L729.5 79.89L730.0 79.97L730.5 80.06L731.0 80.15L731.5 80.24L732.0 80.33L732.5 80.42L733.0 80.52L733.5 80.61L734.0 80.70L734.5 80.80L735.0 80.90L735.5 81.00L736.0 81.10L736.5 81.20L737.0 81.30L737.5 81.40L738.0 81.50L738.5 81.61L739.0 81.72L739.5 81.82L740.0 81.93L740.5 82.04L741.0 82.16L741.5 82.27L742.0 82.39L742.5 82.50L743.0 82.62L743.5 82.75L744.0 82.87L744.5 83.00L745.0 83.14L745.5 83.27L746.0 83.41L746.5 83.56L747.0 83.70L747.5 83.86L748.0 84.01L748.5 84.18L749.0 84.34L749.5 84.52L750.0 84.70L750.5 84.88L751.0 85.07L751.5 85.27L752.0 85.47L752.5 85.68L753.0 85.90L753.5 86.12L754.0 86.35L754.5 86.59L755.0 86.83L755.5 87.08L756.0 87.34L756.5 87.60L757.0 87.87L757.5 88.14L758.0 88.42L758.5 88.70L759.0 88.99L759.5 89.29L760.0 89.59L760.5 89.90L761.0 90.21L761.5 90.53L762.0 90.85L762.5 91.18L763.0 91.51L763.5 91.84L764.0 92.19L764.5 92.53L765.0 92.88L765.5 93.24L766.0 93.60L766.5 93.97L767.0 94.35L767.5 94.73L768.0 95.11L768.5 95.50L769.0 95.90L769.5 96.31L770.0 96.72L770.5 97.14L771.0 97.56L771.5 98.00L772.0 98.44L772.5 98.89L773.0 99.34L773.5 99.80L774.0 100.27L774.5 100.75L775.0 101.24L775.5 101.73L776.0 102.23L776.5 102.74L777.0 103.26L777.5 103.78L778.0 104.31L778.5 104.84L779.0 105.38L779.5 105.93L780.0 106.48L780.5 107.03L781.0 107.59L781.5 108.16L782.0 108.74L782.5 109.32L783.0 109.91L783.5 110.51L784.0 111.12L784.5 111.74L785.0 112.38L785.5 113.03L786.0 113.69L786.5 114.37L787.0 115.06L787.5 115.77L788.0 116.50L788.5 117.24L789.0 118.00L789.5 118.78L790.0 119.57L790.5 120.38L791.0 121.20L791.5 122.03L792.0 122.88L792.5 123.74L793.0 124.60L793.5 125.48L794.0 126.37L794.5 127.27L795.0 128.18L795.5 129.09L796.0 130.00L796.5 130.91L797.0 131.83L797.5 132.74L798.0 133.65L798.5 134.55L799.0 135.45L799.5 136.34L800.0 137.23L800.5 138.12L801.0 139.01L801.5 139.90L802.0 140.79L802.5 141.69L803.0 142.58L803.5 143.49L804.0 144.39L804.5 145.31L805.0 146.23L805.5 147.16L806.0 148.10L806.5 149.05L807.0 150.01L807.5 150.98L808.0 151.96L808.5 152.95L809.0 153.94L809.5 154.94L810.0 155.94L810.5 156.95L811.0 157.96L811.5 158.98L812.0 160.00L812.5 161.02L813.0 162.04L813.5 163.06L814.0 164.08L814.5 165.10L815.0 166.12L815.5 167.14L816.0 168.15L816.5 169.17L817.0 170.18L817.5 171.18L818.0 172.19L818.5 173.18L819.0 174.18L819.5 175.17L820.0 176.16L820.5 177.15L821.0 178.14L821.5 179.14L822.0 180.16L822.5 181.18L823.0 182.23L823.5 183.29L824.0 184.38L824.5 185.49L825.0 186.63L825.5 187.80L826.0 188.99L826.5 190.21L827.0 191.46L827.5 192.73L828.0 194.04L828.5 195.37L829.0 196.74L829.5 198.14L830.0 199.56L830.5 201.02L831.0 202.51L831.5 204.03L832.0 205.59L832.5 207.17L833.0 208.78L833.5 210.41L834.0 212.06L834.5 213.74L835.0 215.43L835.5 217.14L836.0 218.86L836.5 220.59L837.0 222.35L837.5 224.12L838.0 225.91L838.5 227.72L839.0 229.56L839.5 231.41L840.0 233.29L840.5 235.20L841.0 237.14L841.5 239.10L842.0 241.10L842.5 243.13L843.0 245.19L843.5 247.30L844.0 249.44L844.5 251.63L845.0 253.86L845.5 256.14L846.0 258.46L846.5 260.83L847.0 263.24L847.5 265.68L848.0 268.15L848.5 270.64L849.0 273.15L849.5 275.66L850.0 278.19L850.5 280.74L851.0 283.33L851.5 285.95L852.0 288.63L852.5 291.37L853.0 294.17L853.5 297.05L854.0 299.98L854.5 302.98L855.0 306.03L855.5 309.12L856.0 312.26L856.5 315.39L857.0 318.50L857.5 321.54L858.0 324.48L858.5 327.28L859.0 329.91L859.5 332.36L860.0 334.63L860.5 336.71L861.0 338.62L861.5 340.36L862.0 341.92L862.5 343.31L863.0 344.53L863.5 345.59L864.0 346.49L864.5 347.24L865.0 347.83L865.5 348.28L866.0 348.58L866.5 348.74L867.0 348.77L867.5 348.67L868.0 348.46L868.5 348.14L869.0 347.72L869.5 347.20L870.0 346.61L870.5 345.94L871.0 345.20L871.5 344.41L872.0 343.57L872.5 342.69L873.0 341.76L873.5 340.80L874.0 339.79L874.5 338.72L875.0 337.59L875.5 336.39L876.0 335.13L876.5 333.78L877.0 332.35L877.5 330.83L878.0 329.22L878.5 327.51L879.0 325.73L879.5 323.90L880.0 322.05L880.5 320.20L881.0 318.37L881.5 316.58L882.0 314.81L882.5 313.08L883.0 311.39L883.5 309.73L884.0 308.12L884.5 306.56L885.0 305.04L885.5 303.57L886.0 302.18L886.5 300.87L887.0 299.66L887.5 298.58L888.0 297.64L888.5 296.85L889.0 296.23L889.5 295.75L890.0 295.42L890.5 295.23L891.0 295.18L891.5 295.25L892.0 295.44L892.5 295.74L893.0 296.13L893.5 296.59L894.0 297.12L894.5 297.70L895.0 298.32L895.5 298.96L896.0 299.62L896.5 300.29L897.0 300.97L897.5 301.64L898.0 302.31L898.5 302.96L899.0 303.60L899.5 304.20L900.0 304.78L900.5 305.32L901.0 305.82L901.5 306.28L902.0 306.69L902.5 307.07L903.0 307.42L903.5 307.73L904.0 308.00L904.5 308.25L905.0 308.46L905.5 308.65L906.0 308.81L906.5 308.94L907.0 309.05L907.5 309.14L908.0 309.21L908.5 309.25L909.0 309.28L909.5 309.29L910.0 309.29L910.5 309.26L911.0 309.21L911.5 309.13L912.0 309.04L912.5 308.91L913.0 308.76L913.5 308.58L914.0 308.37L914.5 308.12L915.0 307.84L915.5 307.53L916.0 307.18L916.5 306.79L917.0 306.37L917.5 305.90L918.0 305.41L918.5 304.88L919.0 304.32L919.5 303.74L920.0 303.14L920.5 302.52L921.0 301.89L921.5 301.24L922.0 300.58L922.5 299.91L923.0 299.25L923.5 298.58L924.0 297.91L924.5 297.24L925.0 296.58L925.5 295.91L926.0 295.25L926.5 294.59L927.0 293.93L927.5 293.28L928.0 292.62L928.5 291.96L929.0 291.31L929.5 290.65L930.0 290.00" stroke="#eea822" stroke-width="2.7"/>
</g>
<path transform="translate(487.00 441.50)" d="M1.5 1V9.5Q1.5 11 0.5 12M1.5 1H11V11Q11 12 9.5 11.5M3.5 3.5H9M6.2 2V6M3 6H9.5M4 7.8H8.5V10.3H4Z" fill="none" stroke="#000" stroke-width="1.00"/><path transform="translate(500.00 441.50)" d="M1 1.3L2.2 2.5M0.5 4.5L1.8 5.6M0.5 11.5L2.5 7.5M4.5 3H11.5L11 4.5M8 0.8V6.2M4.5 3V8Q4.5 10.5 3.2 12M4.5 6.2H10.5Q9 10 5.5 12M6.5 7.5Q9 10.5 11.8 11.8" fill="none" stroke="#000" stroke-width="1.00"/><path transform="translate(513.50 441.50)" d="M1.2 0.8L2 2M5.2 0.8L4.5 2M0.5 3.2H6M3.2 0.5V5.5M3 3.4L0.6 5.6M3.5 3.6L5.8 5M2.5 6L1.2 9.2L5.5 11.8M5 6.5Q4 10 1 11.8M0.5 8.3H6.3M8.3 0.5L7.2 4.5M7.8 2.6H11.8M10.8 2.6Q10 8 6.8 11.8M8.4 5.5Q9.5 9.5 11.8 11.8" fill="none" stroke="#000" stroke-width="1.00"/><text x="528" y="451.5">(Hz)</text><g transform="translate(40 262.5) rotate(-90)"><path transform="translate(0.00 0.50)" d="M3 0.8Q2.5 3.5 0.5 5.8M2 3.3H9.5M6.3 3.3Q6 8.5 2.5 11.8M9.2 0.5L9.9 1.9M10.9 0.2L11.6 1.6" fill="none" stroke="#000" stroke-width="1.00"/><path transform="translate(11.00 0.50)" d="M9.5 1Q6 5 1 7.3M6 4.5V11.8" fill="none" stroke="#000" stroke-width="1.00"/><path transform="translate(20.00 0.50)" d="M1.8 2L3.8 3.5M1.2 10.8Q6.5 9.5 10.5 3.5" fill="none" stroke="#000" stroke-width="1.00"/><text x="30.5" y="10.6">(dB)</text></g><g transform="translate(993.5 263.75) rotate(-90)"><path transform="translate(0.50 0.50)" d="M3.2 0.5Q2.2 4 0.5 6.5M2.2 3.8V11.8M7.3 0.5L7.9 2.2M4.2 3H11.3M5.3 4.8L6.3 9.8M10.2 4.8L9 9.8M3.8 11H11.8" fill="none" stroke="#000" stroke-width="1.00"/><path transform="translate(13.50 0.50)" d="M0.5 3.8H5.2M2.8 0.5V11.8M2.6 4.2Q1.8 7 0.4 9M3.1 5.2L5 7.2M6.6 1.2H11.2V11.2H6.6ZM6.6 4.5H11.2M6.6 7.8H11.2" fill="none" stroke="#000" stroke-width="1.00"/><text x="26.5" y="10.6">(deg)</text></g><rect x="40" y="489" width="22" height="2" fill="#932f2f"/><text x="66.5" y="495" textLength="33.5" lengthAdjust="spacingAndGlyphs">4Ω tap</text><rect x="114" y="489" width="22" height="2" fill="#dc1818"/><text x="140.5" y="495" textLength="33.5" lengthAdjust="spacingAndGlyphs">8Ω tap</text><rect x="188" y="489" width="22" height="2" fill="#eea822"/><text x="215.0" y="495" textLength="39.5" lengthAdjust="spacingAndGlyphs">16Ω tap</text>
</svg></body></html>
